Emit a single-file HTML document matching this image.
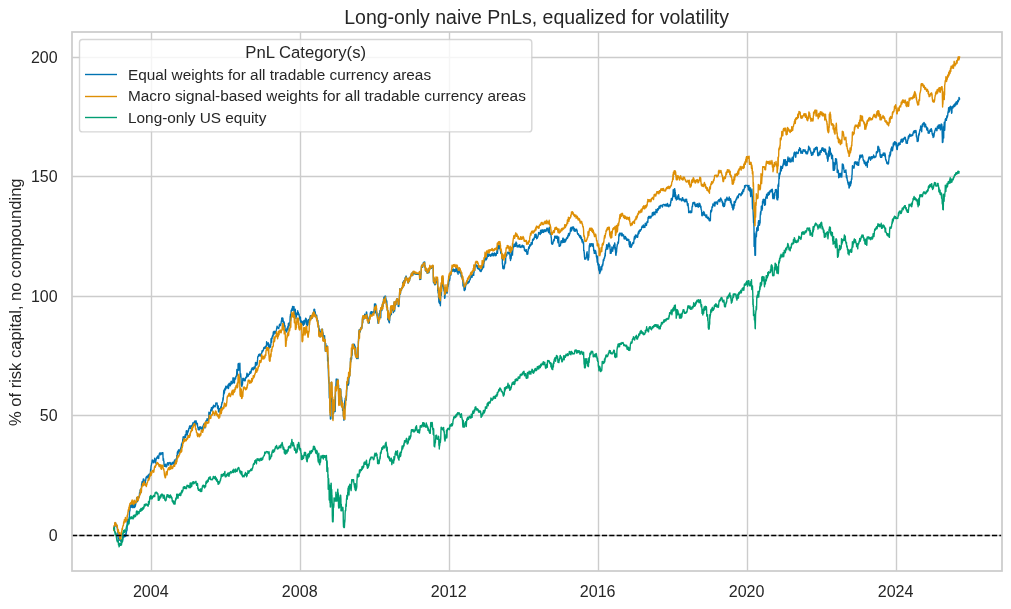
<!DOCTYPE html>
<html><head><meta charset="utf-8"><title>Long-only naive PnLs</title>
<style>html,body{margin:0;padding:0;background:#ffffff;}body{width:1011px;height:609px;overflow:hidden;position:relative;font-family:"Liberation Sans",sans-serif;}</style>
</head><body>
<svg width="1011" height="609" viewBox="0 0 1011 609" style="position:absolute;left:0;top:0;display:block">
<rect x="0" y="0" width="1011" height="609" fill="#ffffff"/>
<defs><clipPath id="ax"><rect x="72.0" y="32.0" width="930.0" height="539.0"/></clipPath><filter id="gs" x="0" y="0" width="1011" height="609" filterUnits="userSpaceOnUse" color-interpolation-filters="sRGB"><feColorMatrix type="saturate" values="0"/></filter></defs>
<g stroke="#cccccc" stroke-width="1.39" fill="none" stroke-linecap="butt">
<line x1="151.50" y1="32.0" x2="151.50" y2="571.0"/>
<line x1="300.50" y1="32.0" x2="300.50" y2="571.0"/>
<line x1="449.50" y1="32.0" x2="449.50" y2="571.0"/>
<line x1="598.50" y1="32.0" x2="598.50" y2="571.0"/>
<line x1="747.50" y1="32.0" x2="747.50" y2="571.0"/>
<line x1="896.50" y1="32.0" x2="896.50" y2="571.0"/>
<line x1="72.0" y1="535.50" x2="1002.0" y2="535.50"/>
<line x1="72.0" y1="415.50" x2="1002.0" y2="415.50"/>
<line x1="72.0" y1="296.50" x2="1002.0" y2="296.50"/>
<line x1="72.0" y1="176.50" x2="1002.0" y2="176.50"/>
<line x1="72.0" y1="57.50" x2="1002.0" y2="57.50"/>
</g>
<g clip-path="url(#ax)" fill="none" stroke-linejoin="round" stroke-linecap="butt">
<path d="M113.6 530.0L113.8 530.3L113.9 529.9L114.1 526.6L114.2 526.0L114.3 526.4L114.5 526.3L114.6 525.7L114.8 523.6L114.9 523.3L115.1 523.1L115.2 525.3L115.3 523.9L115.5 523.4L115.6 523.2L115.8 523.7L115.9 526.1L116.1 525.0L116.2 525.6L116.4 525.7L116.5 525.6L116.6 525.4L116.8 525.3L116.9 527.2L117.1 527.3L117.2 526.1L117.4 528.0L117.5 529.7L117.6 530.8L117.8 532.4L117.9 533.0L118.1 538.5L118.2 538.6L118.4 538.5L118.5 538.6L118.6 538.6L118.8 538.5L118.9 538.7L119.1 538.9L119.3 540.3L119.4 539.1L119.6 539.5L119.7 539.6L119.9 538.0L120.0 537.6L120.2 538.7L120.4 539.0L120.5 539.4L120.7 539.7L120.8 540.9L121.0 541.4L121.1 541.3L121.3 541.1L121.4 540.7L121.6 541.0L121.7 541.2L121.9 540.9L122.0 541.3L122.2 541.4L122.4 541.4L122.5 541.4L122.7 540.1L122.8 540.0L123.0 538.4L123.1 538.3L123.3 535.8L123.4 535.2L123.6 535.1L123.8 535.1L123.9 537.1L124.1 537.0L124.2 536.6L124.4 535.8L124.5 535.0L124.7 536.0L124.8 534.4L125.0 536.6L125.2 534.8L125.3 534.9L125.5 534.9L125.6 534.9L125.8 536.1L125.9 533.1L126.1 535.7L126.2 533.1L126.4 532.3L126.5 530.7L126.7 530.9L126.8 530.8L127.0 530.3L127.1 529.1L127.3 519.8L127.4 523.2L127.6 519.7L127.7 519.6L127.8 521.8L128.0 520.1L128.1 520.7L128.3 520.2L128.4 521.9L128.6 521.4L128.7 522.0L128.9 520.5L129.0 519.1L129.1 517.5L129.3 517.7L129.4 514.5L129.6 509.6L129.7 506.9L129.9 510.9L130.1 507.9L130.2 507.3L130.4 505.2L130.5 505.2L130.7 506.7L130.8 507.4L131.0 507.4L131.1 507.4L131.3 507.1L131.4 506.0L131.6 506.9L131.7 503.5L131.9 502.9L132.0 503.0L132.2 505.1L132.3 504.7L132.5 505.2L132.6 507.6L132.8 506.2L132.9 506.7L133.1 507.6L133.2 507.6L133.4 505.7L133.5 503.2L133.7 502.2L133.8 502.1L134.0 502.0L134.1 504.5L134.3 506.2L134.4 504.8L134.6 507.5L134.7 506.2L134.9 505.9L135.0 506.3L135.2 506.5L135.3 506.3L135.5 505.2L135.6 504.3L135.8 504.0L135.9 503.2L136.1 502.6L136.2 501.5L136.4 501.9L136.5 499.5L136.7 497.6L136.8 500.1L137.0 499.7L137.1 498.7L137.3 500.8L137.4 501.1L137.6 501.6L137.7 497.9L137.9 499.2L138.0 499.6L138.2 499.4L138.3 499.4L138.5 498.4L138.6 497.8L138.8 497.6L138.9 496.4L139.1 497.1L139.2 496.2L139.4 495.5L139.5 493.0L139.7 492.7L139.8 493.4L140.0 493.7L140.1 490.3L140.3 490.0L140.4 489.4L140.6 493.2L140.7 489.6L140.9 492.1L141.0 492.5L141.2 490.7L141.3 488.6L141.5 487.2L141.6 483.9L141.8 484.2L141.9 482.6L142.1 483.0L142.2 481.4L142.4 481.6L142.5 483.1L142.7 482.8L142.8 481.7L143.0 481.6L143.1 482.2L143.3 479.0L143.4 480.0L143.6 481.3L143.7 483.1L143.9 479.1L144.0 481.1L144.2 482.0L144.3 482.0L144.5 480.8L144.6 480.7L144.8 481.9L144.9 483.4L145.1 483.4L145.2 482.9L145.4 481.2L145.5 481.1L145.7 480.3L145.8 479.4L146.0 477.5L146.1 478.3L146.3 477.4L146.4 476.7L146.6 477.7L146.7 476.5L146.9 477.3L147.0 476.3L147.2 476.5L147.3 477.2L147.5 477.6L147.6 476.8L147.8 477.2L147.9 476.3L148.1 475.1L148.2 478.2L148.4 477.7L148.5 476.3L148.7 474.8L148.8 475.7L149.0 474.3L149.1 474.9L149.3 478.3L149.4 476.8L149.6 476.4L149.7 475.8L149.9 474.7L150.0 474.5L150.2 473.8L150.3 473.1L150.5 471.1L150.6 469.4L150.8 470.2L150.9 468.2L151.1 465.8L151.2 465.8L151.4 464.9L151.5 463.7L151.7 464.0L151.8 463.2L152.0 461.8L152.1 460.8L152.3 459.9L152.4 460.6L152.6 460.5L152.7 460.9L152.9 461.8L153.0 461.5L153.2 461.6L153.3 461.4L153.5 462.7L153.6 462.4L153.8 462.4L153.9 460.4L154.1 460.1L154.2 460.4L154.4 461.0L154.5 460.6L154.7 458.1L154.8 458.3L155.0 459.9L155.1 460.1L155.3 460.6L155.4 463.0L155.6 462.8L155.7 461.0L155.9 461.3L156.0 459.7L156.2 459.3L156.3 459.1L156.5 459.0L156.6 457.8L156.8 458.5L156.9 458.2L157.1 457.6L157.2 456.8L157.4 457.8L157.5 458.0L157.7 456.0L157.8 457.4L158.0 457.8L158.1 457.3L158.3 457.9L158.4 458.1L158.6 457.2L158.7 458.5L158.9 456.3L159.0 455.2L159.1 455.5L159.3 453.9L159.4 453.7L159.6 453.4L159.7 453.6L159.9 452.9L160.0 452.7L160.2 452.9L160.3 453.3L160.5 453.6L160.6 454.8L160.8 453.7L160.9 454.1L161.1 453.6L161.2 454.0L161.4 454.1L161.5 452.9L161.7 453.3L161.8 452.9L162.0 452.8L162.1 454.1L162.3 452.9L162.4 453.4L162.6 452.7L162.7 453.9L162.9 452.7L163.0 456.7L163.2 460.4L163.3 460.5L163.5 458.6L163.6 460.3L163.8 461.1L163.9 461.2L164.1 466.2L164.2 465.4L164.4 465.1L164.5 464.9L164.7 466.4L164.8 466.4L165.0 466.0L165.1 466.0L165.3 465.5L165.4 464.3L165.6 465.9L165.7 465.3L165.9 466.7L166.0 465.5L166.2 466.5L166.3 466.7L166.5 466.7L166.7 464.7L166.8 465.6L167.0 465.9L167.1 463.8L167.3 464.1L167.4 463.1L167.6 463.7L167.7 462.6L167.9 462.8L168.0 462.7L168.2 462.7L168.3 462.7L168.5 464.4L168.6 465.0L168.8 463.8L168.9 463.4L169.1 462.9L169.2 463.2L169.4 462.7L169.5 462.7L169.7 462.5L169.8 462.7L170.0 462.7L170.2 462.6L170.3 462.8L170.5 463.9L170.6 464.3L170.8 464.8L170.9 464.9L171.1 464.2L171.2 464.6L171.4 464.8L171.5 463.8L171.7 464.2L171.8 464.3L172.0 463.8L172.1 462.5L172.3 462.6L172.4 462.5L172.6 462.7L172.7 462.6L172.9 462.7L173.0 463.3L173.2 464.0L173.3 462.6L173.5 462.0L173.6 461.9L173.8 463.9L173.9 461.8L174.1 462.1L174.2 462.8L174.4 464.0L174.5 459.9L174.7 460.4L174.8 462.0L175.0 462.7L175.1 461.5L175.3 461.2L175.4 462.8L175.6 461.4L175.7 460.2L175.9 462.0L176.0 458.9L176.2 458.8L176.3 459.2L176.5 459.4L176.6 459.2L176.8 455.4L176.9 455.9L177.1 455.5L177.2 456.2L177.3 452.9L177.5 451.8L177.6 453.5L177.8 454.1L177.9 453.7L178.1 453.4L178.2 450.8L178.4 450.1L178.5 450.2L178.7 451.1L178.8 449.8L179.0 450.9L179.1 451.1L179.3 451.9L179.4 452.1L179.6 450.2L179.7 450.0L179.8 451.4L180.0 450.7L180.1 450.4L180.3 450.8L180.4 450.9L180.6 448.0L180.7 449.5L180.9 448.3L181.0 448.7L181.2 446.3L181.3 447.4L181.5 444.0L181.6 444.9L181.8 447.3L181.9 446.5L182.1 446.7L182.2 442.4L182.4 441.9L182.6 442.7L182.7 439.6L182.9 438.9L183.0 437.9L183.2 436.8L183.3 439.7L183.5 437.9L183.6 439.7L183.8 438.6L183.9 437.3L184.1 437.5L184.2 438.5L184.4 438.9L184.5 438.6L184.7 437.9L184.8 436.3L185.0 436.9L185.1 435.7L185.3 434.6L185.4 436.1L185.6 437.4L185.7 435.7L185.9 435.0L186.1 434.0L186.2 431.9L186.4 430.7L186.5 431.4L186.7 434.0L186.8 434.1L187.0 434.3L187.1 434.7L187.3 435.0L187.4 435.0L187.6 431.3L187.7 431.0L187.9 430.8L188.0 431.9L188.2 432.0L188.3 431.0L188.5 429.5L188.6 430.5L188.8 428.4L188.9 429.1L189.1 428.6L189.2 428.1L189.4 426.8L189.6 426.3L189.7 425.9L189.9 425.9L190.0 425.8L190.2 426.6L190.3 426.4L190.5 428.5L190.6 428.4L190.8 428.1L190.9 427.9L191.1 425.9L191.2 425.9L191.4 426.2L191.5 425.8L191.7 426.0L191.8 425.9L192.0 425.9L192.1 426.2L192.3 424.6L192.4 424.8L192.6 425.1L192.7 423.7L192.9 423.3L193.0 422.7L193.2 422.8L193.3 423.4L193.5 423.9L193.6 423.2L193.8 423.5L193.9 423.1L194.1 423.4L194.2 423.1L194.4 422.7L194.5 421.1L194.7 421.5L194.8 421.2L195.0 421.2L195.1 421.6L195.3 423.2L195.4 423.4L195.6 425.1L195.7 424.2L195.9 422.6L196.0 420.6L196.2 421.2L196.3 422.6L196.5 423.1L196.6 423.5L196.8 423.4L196.9 423.2L197.1 423.5L197.2 424.0L197.4 423.5L197.5 426.0L197.7 427.0L197.8 426.8L198.0 427.2L198.2 429.5L198.3 429.7L198.5 428.5L198.6 429.7L198.8 428.6L198.9 428.5L199.1 427.4L199.2 428.4L199.4 427.3L199.5 428.2L199.7 429.7L199.8 428.7L200.0 426.8L200.1 427.7L200.3 427.0L200.4 428.1L200.6 428.3L200.7 427.7L200.9 427.0L201.0 427.8L201.2 427.3L201.3 428.2L201.5 428.4L201.7 428.2L201.8 429.1L202.0 429.5L202.1 430.0L202.3 430.0L202.4 428.8L202.6 427.3L202.7 427.3L202.9 426.2L203.0 426.2L203.2 425.8L203.3 425.3L203.5 425.7L203.6 424.8L203.8 424.1L203.9 425.3L204.1 423.5L204.2 424.0L204.4 424.2L204.5 425.5L204.7 425.9L204.8 427.8L205.0 427.9L205.1 427.0L205.3 426.4L205.4 425.4L205.6 422.4L205.7 422.0L205.9 421.5L206.0 421.3L206.2 420.5L206.3 421.3L206.5 420.1L206.6 422.2L206.8 420.6L206.9 420.3L207.1 418.7L207.2 420.4L207.4 420.2L207.5 419.1L207.7 419.2L207.8 419.6L208.0 420.2L208.1 420.0L208.3 420.2L208.4 420.2L208.6 419.0L208.7 417.1L208.9 412.2L209.0 413.1L209.1 412.8L209.3 413.5L209.4 417.1L209.6 418.3L209.7 417.2L209.9 416.2L210.0 413.8L210.2 413.6L210.3 412.5L210.5 411.7L210.6 411.2L210.8 409.8L210.9 409.5L211.1 409.4L211.2 408.9L211.4 407.6L211.5 410.7L211.7 409.2L211.8 409.4L212.0 409.5L212.1 410.5L212.3 408.1L212.4 407.2L212.6 408.3L212.7 408.3L212.9 407.1L213.0 406.4L213.2 406.4L213.3 405.9L213.5 407.5L213.6 405.2L213.8 406.5L213.9 405.8L214.1 406.5L214.2 406.3L214.4 406.1L214.5 406.5L214.7 406.3L214.8 406.2L215.0 406.6L215.1 406.8L215.3 406.3L215.4 405.7L215.6 404.9L215.7 403.9L215.9 402.9L216.0 403.1L216.2 403.1L216.3 403.1L216.5 403.2L216.6 403.2L216.8 403.0L216.9 403.0L217.1 403.0L217.2 405.0L217.4 405.9L217.5 407.8L217.7 408.2L217.8 408.6L218.0 405.8L218.1 406.2L218.2 405.9L218.4 407.4L218.5 411.9L218.7 411.5L218.8 411.5L219.0 411.7L219.2 408.6L219.3 410.6L219.5 411.8L219.6 410.0L219.8 411.3L219.9 411.9L220.1 412.2L220.2 408.8L220.4 408.3L220.5 408.2L220.7 408.1L220.8 406.6L221.0 409.4L221.1 408.8L221.3 407.7L221.4 406.8L221.6 404.0L221.7 404.5L221.9 403.7L222.0 402.3L222.2 402.5L222.3 402.8L222.5 402.4L222.7 401.4L222.8 400.1L223.0 397.8L223.1 400.3L223.3 398.2L223.4 396.9L223.6 393.2L223.7 391.4L223.9 390.2L224.0 391.1L224.2 393.8L224.3 390.5L224.5 392.5L224.6 389.1L224.8 389.7L224.9 389.3L225.1 388.5L225.2 387.9L225.4 388.5L225.5 389.9L225.7 387.4L225.8 386.3L226.0 386.8L226.2 386.7L226.3 386.7L226.5 387.3L226.6 386.5L226.8 387.5L226.9 388.1L227.1 387.3L227.2 386.8L227.4 386.2L227.5 386.2L227.7 386.8L227.8 386.4L228.0 384.9L228.1 386.1L228.3 387.7L228.4 388.6L228.6 388.0L228.7 387.5L228.9 384.2L229.0 383.5L229.2 383.8L229.3 383.9L229.5 384.2L229.6 384.7L229.8 383.8L229.9 383.1L230.1 384.0L230.2 385.8L230.4 384.0L230.5 384.9L230.7 383.2L230.8 384.6L231.0 382.6L231.1 381.4L231.3 381.3L231.4 382.2L231.6 383.3L231.7 382.9L231.9 383.6L232.0 383.7L232.2 383.6L232.3 382.4L232.5 383.1L232.6 383.0L232.8 382.6L232.9 378.6L233.1 377.7L233.2 377.8L233.4 378.9L233.5 380.9L233.7 381.3L233.8 382.8L234.0 382.2L234.1 382.4L234.3 381.6L234.4 383.0L234.6 380.4L234.7 379.1L234.8 377.9L235.0 377.9L235.1 377.7L235.3 378.8L235.4 379.2L235.6 378.9L235.7 378.0L235.9 376.3L236.0 376.3L236.2 376.5L236.3 376.0L236.5 375.5L236.6 375.3L236.8 371.0L236.9 369.4L237.1 370.6L237.2 375.5L237.4 372.6L237.5 369.8L237.7 370.7L237.8 369.9L238.0 370.6L238.1 363.9L238.3 364.4L238.4 363.5L238.6 366.4L238.7 367.0L238.9 365.2L239.0 369.7L239.2 370.1L239.3 369.4L239.5 364.1L239.6 363.8L239.8 365.4L239.9 363.3L240.1 371.6L240.2 375.1L240.4 376.9L240.5 375.3L240.7 373.8L240.8 375.3L241.0 377.6L241.1 378.6L241.3 384.8L241.4 385.3L241.6 385.7L241.7 386.0L241.9 386.5L242.1 385.0L242.2 385.4L242.4 384.6L242.5 383.9L242.7 380.7L242.8 378.4L243.0 380.5L243.1 378.3L243.3 379.5L243.4 379.0L243.6 380.2L243.7 379.7L243.9 378.8L244.0 380.2L244.2 380.5L244.3 379.9L244.5 380.7L244.6 380.6L244.8 380.7L244.9 379.3L245.1 379.1L245.2 380.7L245.4 379.0L245.5 377.7L245.6 378.0L245.8 377.4L245.9 377.3L246.1 377.2L246.2 377.5L246.4 377.8L246.5 376.3L246.7 375.8L246.8 374.4L247.0 373.2L247.2 373.8L247.3 376.2L247.5 376.3L247.6 376.7L247.8 376.4L247.9 376.3L248.1 375.3L248.2 375.8L248.4 375.9L248.5 374.8L248.7 374.3L248.8 374.8L249.0 374.4L249.1 373.6L249.3 373.8L249.4 374.4L249.6 373.2L249.7 372.5L249.9 372.5L250.0 371.8L250.2 371.5L250.3 372.8L250.5 372.5L250.7 373.2L250.8 372.5L251.0 372.8L251.1 372.0L251.3 370.8L251.4 369.2L251.6 369.4L251.7 370.1L251.9 368.2L252.0 368.2L252.2 369.3L252.3 367.8L252.5 369.3L252.6 367.9L252.8 369.2L252.9 369.4L253.1 369.4L253.2 369.0L253.4 369.7L253.5 368.6L253.7 369.1L253.8 367.8L254.0 367.0L254.2 367.8L254.3 368.0L254.5 367.9L254.6 367.4L254.8 367.9L254.9 368.6L255.1 368.8L255.2 366.4L255.4 364.3L255.5 362.5L255.7 363.4L255.8 365.7L256.0 365.6L256.1 363.8L256.3 364.5L256.4 363.6L256.6 364.7L256.7 362.4L256.9 362.6L257.0 364.8L257.2 363.6L257.3 361.9L257.4 360.7L257.6 359.9L257.7 357.2L257.9 356.9L258.0 356.3L258.2 356.4L258.3 356.0L258.5 356.4L258.6 354.7L258.8 354.7L258.9 354.6L259.1 355.1L259.2 354.2L259.4 354.7L259.5 355.3L259.7 355.8L259.8 354.1L260.0 354.4L260.1 353.9L260.3 355.6L260.4 355.8L260.6 354.9L260.7 356.0L260.9 355.7L261.0 355.3L261.2 356.1L261.3 354.2L261.5 354.3L261.6 353.4L261.8 352.3L261.9 352.2L262.1 350.6L262.2 351.6L262.4 352.0L262.5 351.9L262.7 351.1L262.8 351.5L263.0 350.2L263.1 350.7L263.3 350.1L263.4 349.6L263.6 349.0L263.7 348.0L263.9 347.6L264.0 348.5L264.2 348.1L264.3 348.6L264.5 348.6L264.7 348.1L264.8 347.8L265.0 346.8L265.1 347.1L265.3 347.6L265.4 348.2L265.6 347.2L265.7 347.4L265.9 346.9L266.0 345.7L266.2 347.1L266.3 345.7L266.5 345.3L266.6 341.8L266.8 343.4L266.9 343.9L267.1 344.2L267.2 343.0L267.4 344.4L267.5 344.7L267.7 344.4L267.8 343.0L268.0 344.0L268.2 342.8L268.3 344.7L268.5 346.7L268.6 345.9L268.8 348.1L268.9 345.9L269.1 344.2L269.2 346.2L269.4 348.0L269.5 347.9L269.7 347.4L269.9 346.9L270.0 346.1L270.1 347.5L270.3 346.2L270.4 346.8L270.6 345.7L270.7 345.1L270.9 344.2L271.0 339.2L271.2 338.4L271.3 342.1L271.5 342.3L271.6 341.9L271.8 337.6L271.9 338.9L272.1 338.6L272.2 337.2L272.4 335.9L272.5 335.9L272.7 335.6L272.8 335.2L273.0 336.4L273.1 334.7L273.3 332.0L273.4 334.5L273.6 334.7L273.7 333.8L273.9 334.5L274.0 332.9L274.2 331.2L274.3 332.5L274.5 332.5L274.6 332.4L274.7 332.1L274.9 332.5L275.0 331.7L275.2 333.1L275.3 333.1L275.5 333.2L275.6 331.6L275.8 331.5L275.9 332.2L276.1 331.1L276.2 330.5L276.4 330.0L276.5 329.4L276.7 328.0L276.8 328.2L277.0 326.8L277.1 326.2L277.3 327.0L277.4 327.2L277.6 327.9L277.7 327.3L277.9 327.6L278.0 327.8L278.2 328.1L278.3 328.6L278.5 328.5L278.6 328.4L278.8 328.4L278.9 327.5L279.1 327.0L279.2 326.3L279.3 325.1L279.5 324.9L279.6 324.1L279.8 324.1L279.9 325.2L280.1 324.8L280.2 325.6L280.4 325.5L280.5 324.8L280.7 325.5L280.8 324.0L281.0 323.7L281.1 323.0L281.3 321.3L281.4 321.3L281.6 319.9L281.7 318.2L281.9 318.1L282.0 319.1L282.2 317.9L282.3 319.4L282.5 321.2L282.6 320.1L282.8 319.3L282.9 318.2L283.1 321.0L283.2 320.2L283.4 324.6L283.5 324.2L283.6 323.4L283.8 326.4L283.9 323.1L284.1 321.9L284.2 323.4L284.4 323.0L284.5 326.7L284.7 326.3L284.8 325.6L285.0 325.8L285.1 330.4L285.3 330.3L285.4 330.4L285.6 330.2L285.7 329.9L285.9 330.0L286.0 331.1L286.2 332.0L286.3 331.8L286.5 331.4L286.6 330.6L286.8 331.9L286.9 328.7L287.1 328.4L287.2 328.1L287.4 327.7L287.5 329.1L287.7 328.2L287.8 326.5L288.0 329.7L288.1 328.4L288.2 326.9L288.4 323.7L288.5 323.1L288.7 323.3L288.8 324.4L289.0 323.1L289.1 324.1L289.3 323.9L289.4 325.7L289.6 325.6L289.7 323.3L289.9 324.7L290.0 320.7L290.2 316.3L290.3 316.8L290.5 314.3L290.6 320.8L290.8 317.1L290.9 315.8L291.1 311.8L291.2 310.3L291.4 311.5L291.5 309.9L291.7 310.8L291.8 309.3L292.0 308.4L292.1 310.4L292.3 309.1L292.4 307.8L292.6 306.4L292.8 307.0L292.9 310.1L293.1 307.3L293.2 306.9L293.4 309.2L293.5 309.2L293.7 308.8L293.8 307.0L294.0 306.6L294.1 309.3L294.3 312.3L294.4 315.5L294.6 315.4L294.7 314.2L294.9 312.2L295.0 311.0L295.2 309.1L295.4 310.3L295.5 316.5L295.7 316.5L295.8 318.4L296.0 318.4L296.1 317.5L296.3 316.4L296.4 316.6L296.6 313.9L296.7 313.2L296.9 313.7L297.0 313.4L297.2 314.0L297.3 313.5L297.4 312.4L297.6 312.7L297.7 310.7L297.9 314.6L298.0 314.4L298.2 313.4L298.3 312.3L298.5 313.7L298.6 314.0L298.8 314.2L298.9 314.6L299.1 314.2L299.2 315.8L299.4 316.7L299.5 317.2L299.7 318.9L299.8 317.7L300.0 317.2L300.1 320.3L300.3 317.0L300.4 316.9L300.6 319.9L300.7 322.5L300.9 323.2L301.0 323.2L301.2 320.7L301.3 321.2L301.5 321.4L301.6 323.2L301.8 323.0L301.9 322.8L302.0 323.1L302.2 323.2L302.3 322.8L302.5 323.4L302.6 324.5L302.8 323.5L302.9 321.4L303.1 321.3L303.2 323.5L303.4 325.5L303.5 325.3L303.7 323.6L303.8 323.9L304.0 323.1L304.1 320.4L304.3 320.4L304.5 323.8L304.6 324.1L304.8 322.8L304.9 322.5L305.1 322.1L305.2 320.1L305.4 320.4L305.5 319.1L305.7 318.2L305.9 319.3L306.0 318.4L306.2 320.2L306.3 319.2L306.5 321.0L306.6 324.8L306.8 320.3L306.9 324.4L307.1 324.4L307.2 325.6L307.4 325.7L307.5 323.6L307.7 321.5L307.8 324.5L308.0 324.4L308.1 323.0L308.3 320.1L308.4 319.5L308.6 320.0L308.7 319.9L308.9 320.1L309.0 320.6L309.2 321.6L309.3 322.5L309.5 322.1L309.6 319.1L309.8 318.5L309.9 317.7L310.1 317.2L310.2 315.9L310.4 317.5L310.5 317.6L310.7 316.3L310.8 315.7L310.9 316.2L311.1 315.7L311.2 318.5L311.4 318.6L311.5 318.6L311.7 317.4L311.8 318.3L312.0 316.7L312.1 318.4L312.3 315.8L312.4 315.9L312.6 316.7L312.7 315.1L312.9 313.2L313.0 314.9L313.2 313.3L313.3 312.6L313.5 312.7L313.6 312.4L313.8 312.1L313.9 309.7L314.1 309.1L314.2 310.0L314.4 310.3L314.5 309.9L314.7 309.6L314.8 310.9L315.0 311.7L315.1 312.6L315.3 312.0L315.4 313.4L315.5 313.7L315.7 315.7L315.8 316.5L316.0 316.6L316.1 315.8L316.3 317.4L316.4 315.8L316.6 317.1L316.7 315.1L316.9 320.2L317.0 319.4L317.2 318.1L317.3 318.9L317.5 320.3L317.6 320.4L317.8 322.3L317.9 320.5L318.1 324.3L318.2 327.1L318.4 324.9L318.5 326.6L318.7 326.3L318.8 325.7L319.0 335.0L319.1 334.5L319.3 329.3L319.4 329.0L319.6 329.4L319.7 335.2L319.9 333.7L320.0 333.6L320.1 336.9L320.3 336.9L320.4 334.9L320.6 336.6L320.7 332.1L320.9 331.5L321.0 332.1L321.2 331.4L321.3 330.8L321.5 329.5L321.6 329.8L321.8 331.8L321.9 329.7L322.1 329.1L322.2 329.1L322.4 329.2L322.5 329.2L322.7 337.5L322.8 336.9L323.0 334.2L323.1 332.9L323.3 337.9L323.4 339.6L323.6 337.8L323.7 336.9L323.9 338.6L324.0 340.6L324.2 339.6L324.3 339.5L324.5 336.3L324.6 335.7L324.7 339.2L324.9 339.9L325.0 340.5L325.2 349.1L325.3 351.3L325.5 346.6L325.6 344.4L325.8 343.6L325.9 351.4L326.1 349.9L326.2 351.4L326.4 348.3L326.5 349.3L326.7 346.7L326.8 346.1L327.0 346.2L327.1 347.6L327.3 351.3L327.4 346.1L327.6 361.1L327.7 361.1L327.9 357.4L328.1 358.9L328.2 367.5L328.4 372.0L328.5 375.9L328.7 381.2L328.8 376.9L329.0 383.4L329.1 382.8L329.3 398.1L329.4 395.2L329.6 395.6L329.7 394.2L329.9 398.8L330.0 410.8L330.1 405.7L330.3 409.1L330.4 419.1L330.6 418.2L330.7 418.7L330.9 418.7L331.0 400.3L331.2 387.7L331.3 382.2L331.5 382.4L331.6 383.5L331.8 396.0L331.9 401.2L332.1 392.2L332.2 398.5L332.4 397.2L332.5 402.6L332.7 418.2L332.8 418.9L333.0 406.1L333.1 413.7L333.3 412.0L333.4 412.9L333.5 403.1L333.7 413.3L333.8 400.1L334.0 400.1L334.1 400.2L334.3 406.4L334.4 407.9L334.6 403.6L334.7 411.2L334.9 411.4L335.0 403.5L335.2 411.6L335.3 407.1L335.5 393.1L335.6 387.6L335.8 386.7L335.9 385.8L336.1 382.3L336.2 379.1L336.4 379.0L336.5 380.6L336.7 384.0L336.8 382.0L336.9 386.3L337.1 385.5L337.2 385.3L337.4 381.7L337.5 380.1L337.7 381.2L337.8 379.1L338.0 382.3L338.1 385.8L338.3 384.6L338.4 389.1L338.6 384.9L338.7 398.8L338.9 400.5L339.0 395.3L339.2 401.4L339.3 400.9L339.5 390.3L339.6 389.0L339.8 389.0L339.9 389.1L340.0 388.9L340.2 389.0L340.3 389.0L340.5 390.8L340.6 390.0L340.8 389.2L340.9 392.6L341.1 405.0L341.2 396.2L341.4 397.8L341.5 396.9L341.7 398.2L341.8 399.9L342.0 400.3L342.1 403.5L342.3 404.7L342.4 403.2L342.6 410.4L342.7 407.2L342.9 406.4L343.0 409.3L343.2 410.1L343.3 412.4L343.4 417.0L343.6 414.8L343.7 415.3L343.9 420.3L344.0 416.9L344.2 410.9L344.3 416.2L344.5 418.6L344.6 405.1L344.8 400.8L344.9 409.4L345.1 403.6L345.2 398.2L345.4 398.7L345.5 398.5L345.7 398.6L345.8 398.0L346.0 398.3L346.1 395.9L346.3 400.1L346.4 397.5L346.6 395.1L346.7 388.2L346.8 388.4L347.0 389.1L347.1 381.8L347.3 381.7L347.4 382.1L347.6 382.8L347.7 385.0L347.9 385.0L348.0 384.4L348.2 385.0L348.3 383.6L348.5 385.0L348.6 379.8L348.8 383.6L348.9 378.2L349.1 377.2L349.2 378.0L349.4 374.9L349.5 375.4L349.7 376.3L349.8 369.4L350.0 371.1L350.1 371.4L350.2 369.8L350.4 363.9L350.5 358.3L350.7 358.5L350.8 361.9L351.0 359.7L351.1 358.6L351.3 359.2L351.4 357.5L351.6 359.1L351.7 355.9L351.9 352.6L352.0 355.5L352.2 353.9L352.3 349.0L352.5 349.0L352.6 344.4L352.8 344.5L352.9 344.6L353.1 344.4L353.2 344.3L353.3 344.4L353.5 344.6L353.6 344.5L353.8 344.5L353.9 344.3L354.1 344.4L354.2 344.3L354.4 344.6L354.5 344.8L354.7 345.9L354.8 346.1L355.0 346.7L355.1 346.1L355.3 350.7L355.4 355.2L355.6 347.6L355.7 351.1L355.9 355.7L356.0 355.7L356.2 356.8L356.3 355.6L356.5 357.7L356.6 358.4L356.7 358.5L356.9 356.2L357.0 358.0L357.2 358.4L357.3 357.6L357.5 357.2L357.6 348.8L357.8 358.4L357.9 358.2L358.1 358.4L358.2 351.6L358.4 341.4L358.5 340.6L358.7 334.9L358.8 332.9L359.0 331.7L359.2 329.6L359.3 329.6L359.5 330.4L359.6 331.5L359.8 331.6L359.9 330.1L360.1 332.0L360.2 332.0L360.4 330.6L360.5 330.5L360.7 328.6L360.8 329.8L361.0 327.4L361.2 328.7L361.3 327.3L361.5 328.5L361.6 328.5L361.8 328.4L361.9 327.5L362.1 324.8L362.2 324.9L362.4 320.4L362.5 317.5L362.7 322.8L362.8 322.4L362.9 317.2L363.1 316.8L363.2 316.6L363.4 317.6L363.5 316.7L363.7 316.5L363.8 316.5L364.0 317.4L364.1 319.0L364.3 318.6L364.4 317.6L364.6 316.7L364.7 314.2L364.9 316.0L365.0 316.2L365.2 314.6L365.3 316.1L365.5 315.3L365.6 315.2L365.8 317.9L365.9 315.2L366.1 317.0L366.3 312.7L366.4 312.1L366.6 311.9L366.7 312.3L366.9 315.1L367.0 315.2L367.2 316.8L367.3 316.3L367.5 316.3L367.6 318.5L367.8 317.2L367.9 320.7L368.1 321.2L368.2 322.9L368.4 323.0L368.5 321.2L368.7 322.3L368.8 322.4L369.0 323.2L369.1 323.1L369.3 323.1L369.4 318.1L369.6 317.9L369.7 317.7L369.9 318.0L370.1 316.0L370.2 314.3L370.4 312.6L370.5 313.4L370.7 312.7L370.8 313.0L371.0 311.7L371.1 313.3L371.3 314.2L371.4 314.3L371.6 311.6L371.7 312.0L371.8 313.8L372.0 312.4L372.1 312.8L372.3 312.2L372.4 312.5L372.6 314.2L372.7 312.4L372.9 313.2L373.0 312.9L373.2 311.8L373.3 312.3L373.5 313.0L373.6 312.4L373.8 312.0L373.9 312.9L374.1 311.2L374.2 309.4L374.4 309.0L374.5 303.9L374.7 306.4L374.8 308.7L375.0 311.6L375.2 312.9L375.3 306.1L375.5 304.8L375.6 303.9L375.8 305.2L375.9 304.9L376.1 306.6L376.2 308.3L376.4 312.3L376.5 308.5L376.6 315.1L376.8 312.7L376.9 312.3L377.1 315.3L377.2 315.1L377.4 317.5L377.5 317.9L377.7 320.1L377.8 318.9L378.0 323.2L378.1 322.9L378.3 323.2L378.4 322.1L378.6 321.7L378.7 320.0L378.9 319.1L379.0 314.4L379.2 313.4L379.3 315.5L379.5 317.6L379.6 317.3L379.8 312.2L379.9 310.7L380.1 315.8L380.2 315.0L380.4 315.0L380.5 317.5L380.7 315.6L380.8 317.7L380.9 312.1L381.1 310.2L381.2 310.7L381.4 308.3L381.5 307.2L381.7 310.5L381.8 310.5L382.0 310.3L382.1 308.7L382.3 304.4L382.4 305.3L382.6 304.9L382.7 303.2L382.9 303.8L383.0 306.5L383.2 301.4L383.3 303.5L383.5 300.7L383.6 299.1L383.8 300.5L383.9 297.2L384.1 300.4L384.2 302.3L384.4 299.0L384.5 298.6L384.7 298.7L384.8 297.3L385.0 296.2L385.1 296.1L385.3 296.1L385.4 296.3L385.6 296.3L385.7 298.3L385.9 298.7L386.0 298.8L386.2 300.6L386.3 301.7L386.5 304.8L386.6 302.5L386.8 300.9L386.9 303.8L387.1 306.2L387.2 310.2L387.4 307.0L387.5 310.2L387.7 311.9L387.8 319.8L388.0 317.2L388.1 311.4L388.3 312.2L388.5 314.2L388.6 316.8L388.8 321.8L388.9 319.3L389.1 322.5L389.2 321.2L389.4 322.8L389.5 317.8L389.7 320.5L389.8 317.0L390.0 316.0L390.1 315.4L390.3 313.6L390.4 316.1L390.6 307.9L390.8 306.6L390.9 311.1L391.1 311.4L391.2 313.9L391.4 314.5L391.5 311.4L391.7 307.4L391.8 306.5L392.0 306.8L392.1 306.5L392.3 306.5L392.4 306.6L392.5 306.6L392.7 306.7L392.8 310.2L393.0 308.9L393.1 309.6L393.3 310.9L393.4 312.6L393.6 309.7L393.7 309.3L393.9 308.2L394.0 304.0L394.2 302.0L394.3 307.0L394.5 308.4L394.6 311.1L394.7 309.5L394.9 307.9L395.0 304.2L395.2 305.9L395.3 305.9L395.5 305.3L395.6 302.4L395.8 301.4L395.9 301.6L396.1 304.5L396.2 301.1L396.4 300.6L396.5 299.6L396.7 298.9L396.8 298.9L397.0 299.0L397.1 299.2L397.3 298.9L397.4 300.7L397.6 298.9L397.7 300.4L397.9 301.4L398.1 302.5L398.2 306.4L398.4 306.4L398.5 306.2L398.7 306.3L398.8 306.4L399.0 305.0L399.1 302.7L399.2 301.2L399.4 298.9L399.5 295.6L399.7 290.9L399.8 288.8L400.0 291.9L400.1 294.2L400.3 293.3L400.4 294.0L400.6 292.0L400.7 289.4L400.9 289.7L401.0 290.7L401.2 290.0L401.3 289.6L401.5 290.1L401.6 288.3L401.8 287.7L401.9 288.4L402.1 287.6L402.2 287.5L402.4 288.2L402.5 285.4L402.7 286.0L402.8 282.3L403.0 284.7L403.2 284.2L403.3 286.8L403.5 282.2L403.6 281.7L403.8 281.2L403.9 280.6L404.1 284.1L404.2 285.5L404.4 283.8L404.5 281.6L404.7 282.0L404.8 282.8L405.0 279.6L405.1 277.6L405.3 278.5L405.4 280.7L405.6 280.1L405.7 278.6L405.9 276.2L406.0 276.1L406.2 276.2L406.3 278.3L406.5 277.3L406.6 277.3L406.8 279.0L406.9 279.2L407.1 279.5L407.2 279.7L407.4 278.6L407.5 280.4L407.7 281.8L407.8 282.4L408.0 282.9L408.1 282.9L408.2 283.1L408.4 282.2L408.5 280.4L408.7 278.5L408.8 279.3L409.0 279.2L409.1 281.7L409.3 280.5L409.4 280.4L409.6 280.5L409.7 279.3L409.9 278.2L410.0 277.2L410.2 278.4L410.3 277.6L410.5 276.5L410.6 276.9L410.8 275.2L410.9 276.0L411.1 275.8L411.2 275.4L411.4 274.1L411.5 273.1L411.7 274.4L411.8 274.5L412.0 274.6L412.1 275.4L412.3 275.4L412.4 275.5L412.6 275.5L412.7 275.5L412.9 272.5L413.0 272.1L413.2 271.8L413.3 271.8L413.5 272.6L413.7 273.7L413.8 272.9L414.0 272.0L414.1 272.2L414.3 273.2L414.4 272.9L414.6 273.7L414.7 272.8L414.9 273.8L415.0 273.4L415.2 273.1L415.3 274.2L415.5 274.1L415.6 274.1L415.8 272.6L415.9 273.2L416.1 274.0L416.2 273.3L416.4 274.2L416.5 274.1L416.7 274.2L416.8 274.2L417.0 274.3L417.2 273.8L417.3 273.9L417.5 273.7L417.6 273.7L417.8 274.2L417.9 273.7L418.1 274.1L418.2 274.0L418.4 274.1L418.5 274.2L418.7 274.0L418.8 273.6L419.0 273.5L419.1 273.6L419.3 272.8L419.4 272.1L419.6 277.2L419.7 279.2L419.8 279.5L420.0 275.4L420.1 278.8L420.3 278.7L420.4 279.4L420.6 276.5L420.7 279.4L420.9 275.2L421.0 274.9L421.2 270.9L421.3 268.9L421.5 265.9L421.7 266.1L421.8 265.1L422.0 266.0L422.1 265.5L422.3 266.0L422.4 266.2L422.6 266.3L422.7 267.2L422.9 266.1L423.0 265.8L423.2 263.9L423.3 262.8L423.5 263.3L423.6 263.3L423.8 262.7L423.9 262.1L424.1 262.9L424.2 262.1L424.4 262.4L424.5 262.8L424.7 261.9L424.8 267.3L425.0 266.5L425.1 268.0L425.3 265.9L425.4 270.6L425.6 271.1L425.7 270.7L425.9 270.0L426.1 270.5L426.2 269.9L426.4 268.6L426.5 268.7L426.6 268.7L426.8 270.0L426.9 271.1L427.1 273.1L427.2 272.7L427.4 273.1L427.5 272.8L427.7 273.1L427.8 273.1L428.0 272.0L428.1 270.1L428.3 271.6L428.4 272.7L428.6 270.1L428.7 271.7L428.9 272.1L429.0 272.6L429.2 270.2L429.3 270.6L429.5 270.0L429.6 268.1L429.7 268.2L429.9 267.5L430.0 268.0L430.2 268.7L430.3 268.5L430.5 266.9L430.6 266.9L430.8 268.0L430.9 268.2L431.1 268.4L431.2 268.4L431.4 268.1L431.5 268.2L431.7 266.7L431.8 267.5L432.0 267.4L432.1 266.0L432.3 266.0L432.4 266.5L432.6 266.8L432.7 265.6L432.9 265.9L433.0 265.9L433.2 266.3L433.3 277.2L433.5 282.8L433.6 282.3L433.8 281.0L434.0 278.1L434.1 282.8L434.3 282.8L434.4 281.8L434.6 284.6L434.7 284.9L434.9 284.5L435.0 284.0L435.2 281.6L435.3 282.1L435.5 282.2L435.6 284.5L435.7 283.6L435.9 280.2L436.0 278.9L436.2 279.1L436.3 279.0L436.5 279.0L436.6 279.0L436.8 280.9L436.9 279.4L437.1 281.7L437.2 282.7L437.4 281.6L437.5 279.0L437.7 285.7L437.8 291.0L438.0 289.3L438.1 293.0L438.3 293.1L438.4 291.8L438.6 298.1L438.7 297.3L438.9 302.1L439.1 300.2L439.2 300.3L439.4 300.6L439.5 303.5L439.7 301.0L439.8 295.2L440.0 291.8L440.1 290.4L440.2 297.3L440.4 305.7L440.5 302.8L440.7 296.2L440.8 294.4L441.0 285.9L441.1 287.0L441.3 285.2L441.4 295.3L441.6 289.9L441.7 281.6L441.9 278.0L442.0 279.2L442.2 277.9L442.3 278.2L442.5 286.1L442.6 278.0L442.8 278.0L442.9 278.4L443.1 281.0L443.2 282.2L443.4 287.9L443.6 289.0L443.7 288.4L443.9 289.6L444.0 291.0L444.1 287.8L444.3 287.8L444.4 287.9L444.6 298.2L444.7 294.9L444.8 298.2L445.0 297.4L445.1 292.0L445.3 293.8L445.4 292.9L445.6 290.0L445.7 288.0L445.9 292.4L446.0 291.2L446.2 289.8L446.3 289.7L446.5 289.8L446.6 289.5L446.8 288.1L446.9 293.3L447.1 292.1L447.2 292.6L447.4 292.0L447.5 289.8L447.7 288.1L447.8 286.9L448.0 285.6L448.1 286.5L448.3 284.0L448.4 282.8L448.6 284.3L448.7 282.9L448.9 278.4L449.0 276.7L449.1 278.0L449.3 279.3L449.4 280.8L449.6 280.5L449.7 278.3L449.9 278.9L450.0 275.1L450.2 275.3L450.3 275.1L450.5 275.0L450.6 275.2L450.8 275.1L450.9 275.1L451.1 273.5L451.2 273.0L451.4 270.9L451.5 270.9L451.7 269.2L451.8 269.3L452.0 269.3L452.2 269.4L452.3 269.4L452.5 269.2L452.6 271.2L452.8 271.1L452.9 270.9L453.1 270.1L453.2 269.7L453.4 269.0L453.5 268.9L453.7 271.0L453.8 270.1L454.0 269.8L454.1 269.9L454.3 270.6L454.4 269.7L454.6 271.0L454.7 271.7L454.9 270.4L455.0 270.7L455.2 271.2L455.3 270.0L455.5 269.7L455.7 271.4L455.8 271.4L456.0 267.8L456.1 269.0L456.3 267.3L456.4 267.9L456.6 268.6L456.7 268.0L456.9 268.5L457.0 269.8L457.2 270.1L457.3 272.8L457.5 272.3L457.6 271.9L457.8 272.4L457.9 272.0L458.1 274.3L458.2 272.5L458.3 271.8L458.5 270.2L458.6 268.3L458.8 269.9L458.9 270.2L459.1 269.5L459.2 268.7L459.4 270.3L459.5 271.8L459.7 272.9L459.8 272.2L460.0 272.2L460.1 272.6L460.3 273.2L460.4 272.3L460.6 272.4L460.7 272.9L460.9 273.8L461.1 275.6L461.2 276.6L461.4 275.1L461.5 275.5L461.7 276.3L461.8 277.8L462.0 277.1L462.1 277.3L462.3 277.5L462.4 278.1L462.6 277.8L462.7 280.2L462.9 283.0L463.0 286.1L463.2 282.8L463.3 280.3L463.5 285.0L463.6 282.6L463.8 285.2L463.9 286.8L464.1 289.8L464.2 290.3L464.4 290.6L464.5 289.9L464.7 288.3L464.8 287.6L465.0 286.7L465.2 289.7L465.3 288.9L465.5 286.8L465.6 285.9L465.8 285.7L465.9 284.0L466.1 283.9L466.2 284.5L466.4 282.9L466.5 283.9L466.7 283.5L466.8 282.5L467.0 281.2L467.1 282.2L467.3 282.3L467.4 282.7L467.6 281.8L467.7 283.5L467.9 283.2L468.0 282.2L468.2 281.8L468.3 282.8L468.5 281.7L468.6 281.4L468.8 281.3L468.9 281.2L469.1 281.0L469.2 282.1L469.4 280.6L469.5 280.2L469.7 280.0L469.8 280.2L470.0 279.8L470.1 278.3L470.3 279.3L470.4 278.9L470.6 277.7L470.7 277.0L470.9 277.2L471.0 275.3L471.2 274.2L471.3 274.8L471.5 275.3L471.6 275.2L471.8 276.2L471.9 276.7L472.0 277.3L472.2 276.0L472.3 276.0L472.5 274.4L472.6 275.7L472.8 274.5L472.9 275.5L473.1 274.9L473.2 274.5L473.4 275.4L473.5 274.8L473.7 275.4L473.8 272.6L474.0 272.8L474.1 269.2L474.3 269.1L474.5 270.4L474.6 269.1L474.8 270.6L474.9 267.6L475.1 266.4L475.2 265.0L475.4 265.4L475.5 265.2L475.7 264.8L475.8 264.8L476.0 265.0L476.1 266.0L476.3 264.9L476.4 265.0L476.5 265.3L476.7 265.2L476.8 265.8L477.0 266.3L477.1 266.8L477.3 268.0L477.4 266.6L477.6 268.4L477.7 268.3L477.9 267.0L478.0 265.8L478.2 268.0L478.3 269.1L478.5 268.9L478.6 267.5L478.8 268.8L478.9 268.9L479.1 268.5L479.2 268.6L479.4 269.7L479.5 269.5L479.7 270.2L479.8 270.6L480.0 271.1L480.1 271.0L480.3 271.0L480.4 270.9L480.6 270.1L480.7 271.2L480.9 271.6L481.0 269.8L481.1 270.0L481.3 270.6L481.4 271.1L481.6 270.0L481.7 269.9L481.9 268.3L482.0 265.8L482.2 268.7L482.3 269.1L482.5 267.5L482.6 266.5L482.8 261.9L482.9 264.0L483.1 265.5L483.2 267.8L483.4 267.6L483.5 264.9L483.7 267.2L483.8 264.0L484.0 263.3L484.1 261.0L484.3 261.2L484.4 261.6L484.6 260.6L484.7 259.0L484.9 256.9L485.0 259.0L485.2 257.7L485.3 259.4L485.5 258.5L485.6 258.4L485.7 259.9L485.9 257.4L486.0 259.3L486.2 259.7L486.3 259.7L486.5 259.5L486.6 258.8L486.8 257.9L486.9 258.5L487.1 257.6L487.2 256.9L487.4 255.4L487.5 255.6L487.7 255.2L487.8 253.5L488.0 253.2L488.1 253.9L488.3 254.7L488.4 256.4L488.6 254.9L488.7 256.2L488.9 255.5L489.1 255.5L489.2 255.4L489.4 255.3L489.5 254.3L489.7 254.3L489.8 254.8L490.0 254.5L490.1 254.9L490.3 255.5L490.4 255.5L490.6 256.2L490.7 255.8L490.9 256.0L491.0 254.7L491.2 254.4L491.3 254.2L491.5 254.7L491.6 255.5L491.8 255.0L491.9 255.0L492.1 253.4L492.2 254.0L492.4 253.1L492.5 254.1L492.7 254.4L492.8 253.7L493.0 254.9L493.1 255.8L493.3 255.7L493.4 255.8L493.6 255.4L493.7 254.3L493.9 253.5L494.0 253.4L494.2 253.1L494.3 252.9L494.5 253.3L494.6 252.9L494.8 254.2L494.9 253.8L495.1 255.7L495.2 254.4L495.4 253.6L495.5 254.4L495.7 254.9L495.8 255.2L496.0 254.5L496.1 255.5L496.3 254.9L496.4 253.2L496.6 253.0L496.7 253.2L496.9 251.0L497.0 250.9L497.2 249.2L497.3 250.8L497.5 253.4L497.6 252.1L497.8 246.6L497.9 245.4L498.1 248.7L498.2 248.8L498.4 247.3L498.5 247.7L498.7 248.6L498.8 247.1L499.0 247.8L499.1 245.5L499.2 245.4L499.4 245.8L499.6 246.3L499.7 247.6L499.9 248.8L500.0 249.1L500.2 249.0L500.3 249.5L500.5 250.9L500.6 251.3L500.8 253.1L500.9 252.8L501.1 252.3L501.2 253.7L501.4 253.2L501.5 253.0L501.7 254.0L501.8 254.0L502.0 258.6L502.1 257.7L502.3 258.3L502.4 264.2L502.6 263.4L502.7 267.0L502.9 268.5L503.0 265.8L503.2 266.7L503.3 267.6L503.5 268.3L503.6 268.7L503.8 268.4L503.9 268.9L504.1 267.2L504.2 266.1L504.4 267.9L504.5 266.2L504.7 264.2L504.8 264.8L505.0 262.6L505.1 261.1L505.3 262.9L505.4 263.0L505.6 263.1L505.7 258.0L505.9 255.6L506.0 256.8L506.2 255.1L506.3 255.2L506.5 255.3L506.6 254.5L506.8 255.5L506.9 254.4L507.1 253.1L507.2 253.0L507.4 252.4L507.5 252.5L507.7 252.5L507.8 252.3L508.0 252.3L508.1 252.4L508.2 252.3L508.4 252.5L508.5 252.5L508.7 253.8L508.8 252.7L509.0 252.6L509.1 253.7L509.3 253.2L509.4 253.9L509.6 252.6L509.8 253.2L509.9 254.9L510.1 258.8L510.2 256.7L510.4 255.3L510.5 260.5L510.7 258.1L510.8 257.3L511.0 257.1L511.1 258.7L511.3 256.2L511.4 254.9L511.6 252.7L511.7 251.8L511.9 254.2L512.0 254.2L512.2 253.0L512.3 253.0L512.5 255.1L512.6 252.6L512.8 250.4L512.9 249.4L513.1 247.7L513.2 247.0L513.4 246.7L513.5 246.9L513.7 246.7L513.8 245.8L514.0 245.0L514.1 244.2L514.3 246.6L514.4 245.2L514.6 245.1L514.7 245.6L514.9 246.0L515.0 245.4L515.2 243.8L515.3 245.8L515.5 245.6L515.6 246.3L515.8 243.3L515.9 242.5L516.1 242.1L516.2 243.4L516.4 244.6L516.5 244.1L516.7 243.2L516.8 244.9L517.0 245.4L517.1 246.9L517.3 246.9L517.4 246.7L517.5 246.9L517.7 246.7L517.8 246.5L518.0 246.9L518.1 246.9L518.3 245.6L518.4 245.1L518.6 246.0L518.7 246.0L518.9 246.1L519.0 246.2L519.2 246.9L519.4 245.6L519.5 245.7L519.7 244.7L519.8 244.7L520.0 245.9L520.1 247.2L520.3 246.9L520.4 247.2L520.6 247.1L520.7 247.2L520.9 247.3L521.0 247.4L521.2 246.7L521.3 247.1L521.5 246.5L521.6 246.5L521.8 246.7L521.9 245.4L522.1 246.6L522.2 246.3L522.4 245.3L522.5 245.4L522.7 246.7L522.8 247.0L523.0 246.2L523.1 247.2L523.3 245.9L523.4 246.7L523.6 246.4L523.7 245.9L523.9 245.9L524.0 247.7L524.2 247.6L524.3 248.9L524.5 250.3L524.6 250.4L524.7 249.3L524.9 249.3L525.0 250.4L525.2 250.2L525.3 251.3L525.5 251.1L525.6 251.3L525.8 250.3L525.9 250.6L526.1 250.6L526.2 251.1L526.4 249.6L526.5 252.3L526.6 251.3L526.8 252.6L526.9 254.2L527.1 254.3L527.2 253.3L527.4 254.0L527.5 254.2L527.7 254.1L527.8 254.0L528.0 251.3L528.1 250.9L528.3 248.9L528.4 249.9L528.6 248.7L528.7 246.9L528.9 248.2L529.0 247.6L529.1 248.0L529.3 248.3L529.4 247.0L529.6 246.9L529.7 245.5L529.9 244.8L530.0 245.6L530.2 246.1L530.3 245.2L530.5 244.5L530.7 245.2L530.8 245.6L531.0 245.1L531.1 242.6L531.3 242.9L531.4 243.5L531.6 243.1L531.7 242.8L531.9 243.7L532.0 243.7L532.2 244.2L532.3 242.6L532.5 240.2L532.6 239.8L532.8 239.1L532.9 240.1L533.1 240.5L533.2 240.1L533.4 239.1L533.5 239.1L533.7 239.2L533.8 238.5L534.0 239.3L534.2 238.4L534.3 237.2L534.5 236.9L534.6 236.9L534.8 236.8L534.9 234.4L535.1 234.6L535.2 237.3L535.4 235.8L535.5 235.1L535.7 235.4L535.8 234.1L536.0 234.3L536.1 235.0L536.3 235.7L536.4 236.3L536.6 238.7L536.7 237.6L536.9 238.1L537.0 238.1L537.2 238.3L537.3 238.1L537.5 237.3L537.7 237.4L537.8 236.5L538.0 236.5L538.1 235.2L538.3 234.6L538.4 235.0L538.6 232.4L538.7 233.2L538.9 233.6L539.0 233.7L539.2 233.5L539.3 233.6L539.5 233.4L539.6 233.5L539.8 232.7L539.9 233.8L540.1 234.3L540.2 234.6L540.4 233.3L540.5 230.4L540.7 230.2L540.8 230.3L541.0 230.2L541.2 230.3L541.3 233.2L541.5 232.2L541.6 231.9L541.8 231.4L541.9 230.3L542.1 230.5L542.2 229.8L542.4 230.4L542.5 231.3L542.7 231.7L542.8 232.4L542.9 232.4L543.1 232.4L543.2 232.4L543.4 232.5L543.5 232.3L543.7 230.0L543.8 230.9L544.0 230.7L544.1 231.9L544.3 230.8L544.4 231.1L544.6 230.9L544.7 229.8L544.9 230.3L545.0 230.8L545.2 231.2L545.3 230.6L545.5 229.8L545.6 230.1L545.8 231.5L545.9 231.0L546.1 231.2L546.2 230.4L546.4 230.3L546.5 230.3L546.7 229.6L546.8 228.3L547.0 229.0L547.1 229.1L547.3 229.3L547.4 228.1L547.5 228.5L547.7 228.7L547.8 228.8L548.0 231.2L548.1 230.5L548.3 230.2L548.4 230.5L548.6 232.3L548.7 232.7L548.9 231.1L549.0 230.9L549.2 228.2L549.3 227.3L549.5 228.5L549.6 231.0L549.8 233.1L549.9 232.4L550.1 233.9L550.2 234.4L550.4 233.8L550.5 232.9L550.7 233.9L550.8 233.1L551.0 233.2L551.1 237.4L551.3 237.5L551.4 239.3L551.6 243.4L551.7 241.9L551.9 244.0L552.0 244.1L552.2 244.3L552.3 244.1L552.5 244.2L552.6 243.6L552.8 243.9L552.9 243.6L553.1 242.5L553.2 241.8L553.4 240.7L553.5 241.0L553.7 239.7L553.8 239.9L554.0 240.1L554.1 240.9L554.3 240.0L554.4 238.9L554.6 237.8L554.7 236.2L554.9 236.2L555.0 236.4L555.2 236.1L555.3 236.1L555.5 236.1L555.6 236.4L555.8 236.7L555.9 238.0L556.1 237.6L556.2 238.4L556.4 236.5L556.5 237.0L556.7 238.2L556.8 238.2L557.0 236.0L557.1 236.2L557.3 237.8L557.4 236.7L557.6 238.0L557.7 240.5L557.9 241.7L558.0 242.8L558.2 240.2L558.3 241.4L558.5 242.0L558.7 237.0L558.8 240.0L559.0 243.0L559.1 246.2L559.3 246.3L559.4 246.1L559.6 246.3L559.7 246.3L559.9 245.3L560.0 245.1L560.2 245.4L560.3 245.6L560.5 245.3L560.6 244.5L560.8 243.1L560.9 241.3L561.0 241.1L561.2 241.4L561.3 242.0L561.5 241.6L561.6 240.6L561.8 242.4L561.9 241.6L562.1 242.7L562.2 242.6L562.4 242.1L562.5 241.5L562.7 239.5L562.8 238.3L563.0 238.2L563.1 238.0L563.3 239.2L563.4 240.5L563.6 242.3L563.7 242.4L563.9 242.4L564.1 241.7L564.2 239.5L564.4 239.5L564.5 240.2L564.7 239.4L564.8 241.1L565.0 242.1L565.1 241.2L565.3 241.4L565.4 240.1L565.6 240.4L565.7 240.5L565.9 240.8L566.0 239.6L566.2 238.7L566.3 238.3L566.5 239.3L566.6 238.8L566.8 237.7L566.9 237.6L567.1 238.1L567.2 238.1L567.4 237.6L567.5 238.3L567.7 235.8L567.8 237.6L568.0 236.8L568.1 236.2L568.3 235.9L568.4 234.1L568.6 233.4L568.7 235.3L568.9 235.6L569.0 235.8L569.2 235.6L569.3 234.8L569.5 233.6L569.6 234.1L569.8 233.9L569.9 233.4L570.0 232.5L570.2 231.9L570.3 230.5L570.5 228.4L570.6 228.5L570.8 228.3L570.9 227.5L571.1 229.0L571.2 231.1L571.4 230.0L571.5 230.4L571.7 228.7L571.8 230.0L572.0 229.1L572.1 227.2L572.3 227.1L572.4 227.3L572.6 227.4L572.7 228.1L572.9 228.6L573.0 228.0L573.2 228.3L573.3 226.9L573.5 226.9L573.6 227.4L573.8 229.0L573.9 230.7L574.1 230.8L574.2 230.7L574.4 231.1L574.5 228.6L574.6 229.7L574.8 231.1L574.9 231.3L575.1 231.2L575.2 231.3L575.4 229.8L575.5 229.7L575.7 229.5L575.8 229.4L576.0 229.2L576.1 229.4L576.3 230.3L576.4 230.7L576.6 229.1L576.7 230.2L576.9 230.3L577.0 230.3L577.2 231.0L577.3 233.0L577.5 233.2L577.6 234.0L577.8 234.2L577.9 234.1L578.1 233.9L578.2 233.6L578.4 234.1L578.5 234.4L578.7 234.2L578.8 235.6L579.0 235.5L579.1 235.2L579.3 235.6L579.4 236.0L579.6 236.4L579.7 237.0L579.9 237.3L580.0 235.5L580.2 236.3L580.3 236.7L580.5 238.1L580.6 236.4L580.8 236.1L580.9 237.2L581.1 239.0L581.2 238.1L581.4 237.3L581.5 237.5L581.7 240.1L581.8 239.5L582.0 240.8L582.1 242.1L582.3 241.4L582.4 240.4L582.6 240.3L582.7 239.7L582.9 242.2L583.0 241.4L583.2 243.8L583.3 243.2L583.4 242.1L583.6 243.5L583.7 250.5L583.9 251.0L584.0 250.2L584.2 253.0L584.3 253.5L584.5 257.1L584.6 256.8L584.7 259.1L584.9 258.7L585.0 258.4L585.2 258.2L585.3 258.4L585.5 258.5L585.6 257.9L585.8 259.1L586.0 258.2L586.1 258.2L586.3 256.9L586.4 255.8L586.6 253.9L586.7 253.4L586.9 252.4L587.0 252.6L587.1 251.8L587.3 255.2L587.4 257.0L587.6 257.0L587.7 257.7L587.9 259.3L588.0 260.1L588.2 256.7L588.3 260.1L588.5 259.4L588.6 254.8L588.8 257.5L588.9 254.1L589.1 249.6L589.2 247.2L589.4 245.1L589.5 246.5L589.7 245.0L589.8 243.8L590.0 244.6L590.1 244.8L590.3 246.3L590.4 246.4L590.6 243.9L590.7 244.0L590.9 244.0L591.0 244.0L591.2 243.8L591.3 243.8L591.5 244.0L591.6 245.1L591.8 244.7L591.9 244.0L592.1 244.4L592.2 246.2L592.4 244.9L592.5 244.0L592.7 245.9L592.8 245.0L593.0 245.1L593.1 243.8L593.3 245.1L593.4 246.2L593.6 248.4L593.7 250.7L593.9 250.8L594.0 250.2L594.2 252.1L594.3 253.4L594.5 252.8L594.6 252.2L594.8 253.2L594.9 250.3L595.1 251.8L595.2 250.8L595.4 251.8L595.6 251.2L595.7 251.1L595.9 253.6L596.0 252.6L596.2 254.4L596.3 255.0L596.4 256.9L596.6 255.7L596.7 257.0L596.9 258.9L597.0 259.4L597.2 262.3L597.3 260.9L597.5 256.2L597.6 260.0L597.7 262.3L597.9 265.0L598.0 263.5L598.2 263.1L598.4 265.0L598.5 267.7L598.7 269.5L598.8 266.0L599.0 270.6L599.1 264.4L599.3 268.4L599.4 269.1L599.6 271.8L599.7 273.5L599.9 272.5L600.0 272.7L600.2 270.3L600.3 270.3L600.5 271.5L600.6 270.5L600.8 268.2L600.9 266.9L601.1 266.4L601.2 268.1L601.4 269.9L601.5 268.8L601.7 269.9L601.8 268.0L601.9 266.6L602.1 266.4L602.2 265.7L602.4 264.4L602.6 265.8L602.7 265.7L602.9 262.8L603.0 264.1L603.2 260.9L603.3 259.8L603.5 260.5L603.6 259.8L603.8 260.7L603.9 260.5L604.1 258.0L604.2 257.8L604.4 258.4L604.5 258.3L604.7 257.4L604.8 255.9L605.0 256.6L605.1 253.2L605.3 255.7L605.4 252.7L605.6 250.1L605.7 249.7L605.9 249.3L606.1 249.7L606.2 248.1L606.4 247.2L606.5 246.8L606.6 244.8L606.8 246.1L606.9 248.5L607.1 246.3L607.2 246.6L607.4 249.1L607.5 248.9L607.7 249.1L607.8 248.5L608.0 246.9L608.1 244.2L608.3 244.9L608.4 246.6L608.6 245.3L608.7 243.7L608.9 242.9L609.0 243.0L609.2 244.5L609.3 246.6L609.5 246.2L609.6 246.0L609.7 244.7L609.9 245.1L610.0 248.3L610.2 249.9L610.3 253.4L610.5 250.8L610.6 252.5L610.8 253.2L610.9 253.0L611.0 252.5L611.2 253.2L611.3 251.8L611.5 249.3L611.6 250.1L611.8 248.7L611.9 246.9L612.1 248.2L612.2 250.0L612.4 249.2L612.5 250.5L612.7 251.2L612.8 249.4L613.0 248.6L613.1 249.2L613.3 247.6L613.4 248.0L613.6 246.2L613.7 245.3L613.9 246.4L614.0 247.7L614.2 245.9L614.3 245.2L614.5 245.2L614.7 242.9L614.8 243.9L615.0 244.3L615.1 249.4L615.3 249.3L615.4 247.5L615.5 250.8L615.7 253.7L615.8 255.1L616.0 255.3L616.1 254.2L616.3 252.5L616.4 252.6L616.6 251.4L616.7 249.4L616.9 248.0L617.0 245.9L617.2 246.2L617.3 244.1L617.5 244.4L617.6 244.4L617.8 243.4L617.9 242.0L618.1 243.2L618.2 243.3L618.4 243.0L618.5 241.9L618.7 239.7L618.8 237.2L619.0 234.1L619.1 236.3L619.3 235.8L619.4 234.9L619.6 233.2L619.7 233.9L619.9 233.2L620.0 233.2L620.1 233.3L620.3 233.1L620.4 233.1L620.6 233.4L620.7 233.8L620.9 234.0L621.0 234.6L621.2 235.4L621.3 234.8L621.5 235.8L621.6 233.9L621.8 233.3L621.9 233.1L622.1 233.8L622.2 234.0L622.4 234.0L622.5 234.4L622.7 235.8L622.8 234.7L623.0 234.8L623.1 235.9L623.3 235.7L623.4 236.0L623.6 234.9L623.7 235.9L623.9 236.0L624.0 237.9L624.2 238.8L624.3 238.0L624.5 238.3L624.6 237.7L624.7 236.7L624.9 238.9L625.0 239.0L625.2 238.9L625.3 238.4L625.5 236.5L625.6 237.1L625.8 237.5L625.9 237.3L626.1 237.6L626.2 238.1L626.4 239.4L626.5 239.2L626.7 240.3L626.8 240.1L627.0 239.6L627.1 239.7L627.3 240.3L627.4 239.5L627.6 240.3L627.7 239.0L627.9 240.3L628.0 240.4L628.2 240.2L628.3 240.2L628.5 240.4L628.7 239.4L628.8 239.5L629.0 241.0L629.1 244.5L629.3 243.8L629.4 244.9L629.6 246.7L629.7 245.2L629.9 245.9L630.0 243.0L630.2 241.8L630.3 242.3L630.5 244.7L630.6 245.7L630.8 246.9L630.9 247.4L631.1 247.0L631.2 247.4L631.4 245.0L631.5 244.7L631.7 244.9L631.8 245.9L632.0 245.7L632.1 244.1L632.3 243.7L632.4 243.1L632.6 243.1L632.7 242.6L632.9 243.0L633.0 243.3L633.2 243.7L633.3 242.1L633.5 243.6L633.6 243.5L633.7 242.5L633.9 241.5L634.0 239.9L634.2 237.7L634.3 238.5L634.5 236.4L634.6 237.1L634.8 238.4L634.9 239.1L635.1 238.4L635.2 238.4L635.4 236.2L635.5 235.0L635.7 235.4L635.8 236.2L636.0 237.0L636.1 235.6L636.3 236.6L636.4 236.4L636.6 235.2L636.7 237.1L636.9 236.0L637.0 236.2L637.2 235.9L637.3 236.8L637.5 237.0L637.6 237.4L637.8 236.2L637.9 233.6L638.1 234.0L638.2 234.3L638.3 232.2L638.5 231.6L638.6 231.7L638.8 233.0L638.9 233.7L639.1 232.9L639.2 230.5L639.4 230.7L639.5 230.9L639.7 231.3L639.8 230.0L640.0 230.0L640.1 230.3L640.3 231.2L640.4 230.7L640.6 229.6L640.7 229.8L640.9 230.0L641.0 229.5L641.2 229.4L641.3 229.7L641.5 228.4L641.6 227.6L641.8 227.0L641.9 227.6L642.1 226.1L642.2 227.1L642.4 226.8L642.5 227.0L642.7 225.9L642.8 226.3L642.9 227.2L643.1 225.8L643.2 226.2L643.4 224.9L643.5 227.3L643.7 226.8L643.8 227.6L644.0 227.4L644.1 225.9L644.3 227.0L644.4 226.0L644.6 225.7L644.7 226.1L644.9 227.4L645.0 226.2L645.2 223.9L645.3 223.2L645.5 224.9L645.6 225.2L645.8 223.9L645.9 225.0L646.1 224.8L646.2 225.4L646.4 225.5L646.5 225.1L646.7 223.4L646.8 222.6L647.0 223.0L647.1 221.5L647.3 222.6L647.4 221.6L647.5 221.8L647.7 220.9L647.8 222.4L648.0 219.1L648.1 217.4L648.3 217.3L648.4 218.4L648.6 217.2L648.7 216.4L648.9 216.5L649.0 216.7L649.2 216.8L649.3 216.4L649.5 217.5L649.6 218.1L649.8 217.3L649.9 216.5L650.1 216.4L650.2 216.5L650.4 216.5L650.5 218.0L650.7 218.1L650.8 216.5L651.0 217.4L651.1 216.4L651.3 216.9L651.4 216.4L651.6 216.3L651.7 216.2L651.8 216.2L652.0 215.8L652.1 215.3L652.3 212.9L652.4 212.8L652.6 213.2L652.7 214.9L652.9 214.7L653.0 215.5L653.2 214.7L653.3 212.3L653.5 213.6L653.6 213.9L653.8 214.4L653.9 213.1L654.1 213.9L654.2 212.3L654.4 213.9L654.5 213.3L654.7 214.1L654.8 213.7L655.0 214.7L655.1 212.9L655.3 212.1L655.4 211.7L655.6 211.4L655.7 212.0L655.9 210.9L656.0 209.4L656.2 211.7L656.3 212.4L656.5 212.7L656.7 211.1L656.8 211.6L657.0 212.5L657.1 211.4L657.3 210.3L657.4 209.9L657.6 208.7L657.7 210.0L657.9 209.9L658.0 210.2L658.2 210.1L658.3 209.8L658.5 209.4L658.6 209.2L658.8 208.0L658.9 207.1L659.1 206.4L659.2 206.1L659.4 206.2L659.5 206.4L659.7 206.5L659.8 206.5L660.0 208.2L660.2 207.1L660.3 206.3L660.5 205.4L660.6 205.8L660.8 205.6L660.9 205.5L661.1 205.4L661.2 205.4L661.4 205.5L661.5 205.5L661.7 205.6L661.8 205.4L662.0 206.4L662.1 206.6L662.3 206.9L662.4 207.0L662.6 205.8L662.7 206.3L662.9 204.7L663.0 204.7L663.2 204.5L663.3 204.4L663.5 204.4L663.7 204.4L663.8 204.5L664.0 204.4L664.1 204.6L664.3 204.7L664.4 204.6L664.6 204.7L664.7 205.4L664.9 205.0L665.0 206.0L665.2 205.1L665.3 204.5L665.5 205.3L665.6 204.5L665.8 204.6L665.9 204.6L666.1 204.7L666.2 204.7L666.4 205.7L666.5 206.0L666.7 204.1L666.8 206.1L667.0 205.3L667.1 205.0L667.3 203.5L667.4 203.4L667.6 203.5L667.7 204.9L667.9 204.9L668.0 206.0L668.2 206.4L668.3 206.5L668.5 205.7L668.6 206.6L668.8 206.5L668.9 206.8L669.1 204.9L669.2 205.1L669.4 205.5L669.5 205.8L669.7 205.5L669.8 205.1L670.0 204.6L670.1 205.8L670.2 205.3L670.4 205.5L670.5 203.3L670.7 201.7L670.8 202.9L671.0 200.4L671.1 200.5L671.3 198.6L671.4 198.5L671.6 198.5L671.7 198.5L671.9 198.6L672.0 200.3L672.2 199.0L672.3 199.8L672.5 197.9L672.6 197.6L672.8 196.5L672.9 195.4L673.1 193.7L673.2 189.7L673.4 190.2L673.5 194.7L673.7 191.1L673.8 196.0L674.0 196.6L674.1 190.1L674.3 190.5L674.4 189.4L674.5 188.6L674.7 188.6L674.8 190.4L675.0 190.1L675.1 194.7L675.3 192.3L675.4 198.3L675.6 196.9L675.7 197.8L675.8 194.6L676.0 196.8L676.1 198.5L676.3 200.0L676.4 199.0L676.6 197.1L676.7 198.4L676.9 197.9L677.0 198.4L677.2 198.4L677.3 199.3L677.5 198.7L677.7 198.0L677.8 196.1L678.0 195.9L678.1 196.6L678.3 195.2L678.4 195.7L678.6 194.6L678.7 196.5L678.9 196.7L679.0 199.0L679.1 199.6L679.3 199.7L679.4 199.7L679.6 199.8L679.7 199.0L679.9 199.5L680.0 198.9L680.2 199.6L680.3 199.3L680.5 199.1L680.6 198.9L680.8 199.7L680.9 198.9L681.1 199.8L681.2 199.5L681.4 199.7L681.5 200.9L681.7 199.9L681.8 199.0L682.0 200.7L682.1 200.5L682.3 198.7L682.4 197.6L682.6 197.7L682.7 197.8L682.9 199.2L683.0 199.3L683.2 199.9L683.3 199.3L683.5 200.4L683.6 199.7L683.7 200.7L683.9 200.6L684.0 200.2L684.2 200.2L684.3 200.7L684.5 200.7L684.6 201.7L684.8 200.5L684.9 200.9L685.1 201.8L685.2 199.2L685.4 200.7L685.5 199.8L685.7 201.1L685.8 200.5L686.0 201.3L686.1 201.0L686.3 200.4L686.4 199.7L686.6 199.2L686.7 201.0L686.9 201.6L687.0 202.7L687.2 201.7L687.3 204.1L687.5 205.4L687.6 205.6L687.8 205.3L687.9 204.3L688.1 203.7L688.2 205.5L688.4 208.2L688.5 207.6L688.7 212.6L688.8 211.4L689.0 211.2L689.1 211.9L689.3 212.0L689.5 211.3L689.6 211.4L689.8 212.3L689.9 212.6L690.1 211.5L690.2 212.7L690.4 212.0L690.5 210.9L690.7 212.2L690.8 212.5L691.0 212.6L691.1 212.6L691.3 211.7L691.4 212.6L691.6 212.5L691.7 212.0L691.9 210.1L692.0 207.6L692.2 206.3L692.3 206.7L692.5 206.6L692.6 204.5L692.8 203.8L692.9 202.6L693.1 202.7L693.2 202.8L693.4 203.5L693.5 202.4L693.7 202.5L693.8 202.6L694.0 203.7L694.1 203.7L694.3 203.9L694.4 202.5L694.6 203.3L694.7 202.5L694.9 204.4L695.0 205.4L695.2 205.9L695.3 205.5L695.5 204.8L695.6 206.2L695.8 206.6L695.9 205.8L696.1 205.8L696.2 204.2L696.4 204.4L696.5 205.3L696.7 205.5L696.8 206.3L697.0 205.7L697.1 204.1L697.3 204.3L697.4 203.8L697.5 204.6L697.7 206.6L697.8 205.8L698.0 206.7L698.1 206.9L698.3 207.0L698.4 207.2L698.6 206.4L698.7 204.5L698.9 204.7L699.0 203.2L699.2 203.7L699.4 204.5L699.5 206.2L699.7 204.7L699.8 203.5L700.0 205.1L700.2 204.8L700.3 205.9L700.5 205.8L700.6 207.6L700.8 207.2L700.9 206.1L701.1 208.5L701.2 209.6L701.4 210.0L701.5 210.0L701.7 212.7L701.8 215.2L702.0 215.8L702.1 215.8L702.3 215.1L702.4 213.9L702.6 214.4L702.7 212.8L702.9 214.4L703.0 214.8L703.2 214.9L703.3 214.1L703.5 213.3L703.6 212.7L703.8 211.5L703.9 212.0L704.1 212.8L704.2 214.2L704.4 212.8L704.5 215.3L704.7 214.8L704.9 214.1L705.0 215.1L705.2 215.1L705.3 215.7L705.5 216.1L705.6 215.2L705.8 215.7L705.9 216.0L706.1 217.4L706.2 216.7L706.4 215.5L706.5 215.3L706.7 214.9L706.8 217.4L706.9 216.2L707.1 217.4L707.2 217.4L707.4 218.5L707.5 218.4L707.7 218.2L707.8 218.4L708.0 217.6L708.1 218.3L708.3 217.1L708.4 218.2L708.6 218.3L708.7 218.8L708.9 219.6L709.0 220.2L709.2 219.0L709.3 218.5L709.5 220.9L709.6 219.4L709.8 220.9L709.9 219.1L710.1 218.7L710.2 220.8L710.4 220.2L710.5 215.4L710.7 210.7L710.8 210.7L711.0 210.4L711.1 210.7L711.3 211.9L711.4 209.6L711.6 211.0L711.7 210.9L711.9 208.4L712.0 207.0L712.2 207.3L712.3 206.4L712.5 207.3L712.6 206.4L712.8 205.3L712.9 203.9L713.1 205.1L713.2 205.7L713.3 204.7L713.5 204.9L713.6 204.2L713.8 204.5L713.9 205.3L714.1 204.9L714.2 204.3L714.4 202.2L714.5 203.6L714.7 204.0L714.8 206.1L715.0 205.3L715.1 204.4L715.3 203.3L715.4 203.6L715.6 202.9L715.7 202.3L715.9 201.9L716.0 202.3L716.2 201.9L716.3 201.9L716.5 202.0L716.6 202.0L716.7 202.4L716.9 203.1L717.0 203.7L717.2 204.1L717.3 204.2L717.5 204.0L717.6 202.9L717.8 201.9L717.9 202.2L718.1 200.6L718.2 200.5L718.4 200.7L718.5 200.4L718.7 200.5L718.8 199.7L719.0 200.3L719.1 200.9L719.3 201.1L719.4 200.8L719.6 200.1L719.7 199.4L719.9 201.7L720.0 201.5L720.1 199.4L720.3 199.3L720.4 198.4L720.6 199.2L720.7 198.0L720.9 198.8L721.0 199.9L721.2 199.7L721.3 199.4L721.5 199.2L721.6 200.3L721.8 200.5L721.9 200.5L722.1 201.8L722.2 202.7L722.4 201.5L722.5 201.6L722.6 201.9L722.8 205.7L722.9 205.5L723.1 203.6L723.2 203.6L723.4 203.1L723.5 204.3L723.6 206.6L723.8 205.1L723.9 206.5L724.1 204.6L724.2 204.0L724.4 206.4L724.5 205.6L724.7 204.5L724.8 205.3L725.0 202.0L725.1 199.4L725.3 201.0L725.4 201.0L725.6 201.2L725.7 201.6L725.9 199.2L726.0 200.7L726.2 199.8L726.3 199.3L726.5 199.8L726.6 198.7L726.8 198.3L726.9 197.1L727.1 198.7L727.2 198.5L727.4 199.8L727.5 199.8L727.7 198.4L727.8 198.6L728.0 200.1L728.1 199.6L728.3 199.0L728.4 200.2L728.6 200.1L728.7 199.6L728.9 199.1L729.0 198.3L729.2 197.0L729.3 197.5L729.5 198.7L729.6 199.0L729.8 200.4L729.9 199.6L730.0 198.6L730.2 200.6L730.3 199.1L730.5 202.5L730.6 198.7L730.8 201.0L730.9 202.9L731.1 200.7L731.2 203.0L731.4 203.9L731.5 204.9L731.7 204.5L731.8 203.9L732.0 205.6L732.1 204.5L732.2 207.6L732.4 205.2L732.5 207.6L732.7 207.8L732.8 208.7L733.0 209.8L733.1 209.3L733.2 209.8L733.4 206.3L733.5 207.2L733.7 204.5L733.8 208.5L734.0 207.0L734.1 202.4L734.3 201.4L734.4 201.7L734.6 205.5L734.7 202.9L734.9 201.8L735.0 202.5L735.2 201.6L735.3 201.9L735.5 202.3L735.6 201.1L735.8 200.1L735.9 199.8L736.1 200.1L736.2 199.8L736.4 198.6L736.5 198.2L736.7 199.3L736.8 199.0L737.0 197.2L737.1 197.8L737.3 196.7L737.4 196.3L737.6 196.4L737.7 195.9L737.9 197.0L738.0 197.3L738.2 196.6L738.3 197.7L738.5 196.2L738.6 195.2L738.8 194.2L738.9 194.1L739.1 194.1L739.2 193.9L739.4 194.6L739.5 194.3L739.7 194.0L739.8 194.2L740.0 194.2L740.1 194.1L740.3 194.3L740.4 194.1L740.6 194.3L740.7 195.0L740.9 195.7L741.0 195.6L741.2 195.1L741.3 195.0L741.5 194.0L741.6 193.3L741.8 192.2L741.9 193.0L742.1 193.8L742.2 193.0L742.4 192.5L742.5 193.8L742.7 190.8L742.8 191.0L743.0 189.6L743.1 189.6L743.3 189.5L743.4 189.8L743.6 191.6L743.7 190.6L743.9 190.0L744.0 189.8L744.2 188.7L744.3 188.5L744.5 188.0L744.6 185.6L744.8 185.6L744.9 187.4L745.1 187.6L745.2 185.5L745.4 185.5L745.5 185.6L745.7 185.4L745.8 185.4L746.0 185.5L746.1 185.5L746.3 185.4L746.4 185.5L746.6 185.4L746.7 185.5L746.9 185.4L747.0 185.4L747.2 185.4L747.3 185.4L747.5 185.9L747.6 186.5L747.8 185.4L747.9 186.9L748.1 186.0L748.2 187.0L748.4 189.8L748.5 186.5L748.7 186.8L748.8 187.0L749.0 185.4L749.1 190.3L749.3 187.7L749.4 187.7L749.6 188.3L749.8 187.8L749.9 191.5L750.1 188.2L750.2 187.7L750.4 191.2L750.5 194.2L750.7 196.6L750.8 195.8L751.0 192.4L751.1 193.3L751.3 194.2L751.4 193.1L751.6 194.4L751.7 190.6L751.9 189.0L752.0 191.0L752.2 195.6L752.3 202.3L752.5 208.7L752.6 198.8L752.8 196.4L752.9 209.2L753.1 210.1L753.2 214.0L753.4 218.3L753.5 222.7L753.7 220.1L753.8 221.8L754.0 228.2L754.1 246.4L754.3 233.0L754.4 239.0L754.6 241.7L754.7 245.5L754.9 254.5L755.0 255.3L755.2 255.4L755.3 255.3L755.5 255.3L755.6 245.2L755.8 235.7L755.9 233.6L756.1 234.8L756.2 231.7L756.4 236.7L756.5 234.8L756.7 227.9L756.8 230.8L757.0 231.1L757.1 231.1L757.3 231.1L757.4 227.5L757.6 229.7L757.7 226.8L757.9 225.5L758.0 225.9L758.2 230.4L758.3 222.1L758.5 223.0L758.6 220.6L758.8 220.7L758.9 222.5L759.1 220.6L759.2 220.7L759.3 222.9L759.5 225.2L759.6 224.6L759.8 220.8L759.9 220.9L760.1 223.0L760.2 216.5L760.4 213.7L760.6 211.6L760.7 214.7L760.9 212.9L761.0 211.6L761.2 210.4L761.3 206.2L761.5 210.2L761.6 206.2L761.8 206.4L761.9 210.4L762.1 208.9L762.2 209.3L762.4 209.1L762.5 201.5L762.7 202.8L762.8 202.3L763.0 200.0L763.1 199.4L763.3 200.0L763.4 202.2L763.6 199.2L763.7 199.4L763.9 201.8L764.0 201.6L764.2 204.0L764.3 203.5L764.4 204.2L764.6 205.3L764.8 202.3L764.9 204.8L765.1 199.3L765.2 202.3L765.4 204.7L765.5 199.2L765.7 198.0L765.9 197.0L766.0 196.9L766.2 196.8L766.3 196.0L766.5 197.9L766.6 194.1L766.8 195.2L766.9 197.8L767.1 198.4L767.2 197.7L767.4 196.2L767.5 195.0L767.7 194.4L767.8 194.2L768.0 192.8L768.1 194.0L768.3 195.2L768.4 193.1L768.6 192.5L768.7 192.1L768.9 193.0L769.0 192.6L769.2 194.2L769.3 194.4L769.5 192.9L769.6 193.2L769.8 191.0L769.9 192.7L770.1 191.5L770.2 191.7L770.4 191.1L770.5 190.8L770.7 191.1L770.8 190.7L771.0 190.0L771.1 191.3L771.3 191.8L771.4 189.9L771.6 189.4L771.7 190.2L771.9 190.9L772.0 191.6L772.2 190.5L772.3 189.3L772.5 190.7L772.6 196.0L772.8 197.8L772.9 198.6L773.1 195.6L773.2 194.3L773.4 196.0L773.5 195.6L773.7 196.6L773.8 197.7L774.0 193.8L774.2 198.8L774.3 197.5L774.5 197.5L774.6 192.8L774.8 195.7L774.9 192.9L775.1 192.2L775.2 191.9L775.4 189.6L775.5 191.0L775.7 191.9L775.8 191.0L776.0 191.2L776.1 189.4L776.3 189.5L776.4 190.2L776.5 191.4L776.7 190.8L776.8 199.1L777.0 196.9L777.1 197.3L777.3 199.9L777.4 199.8L777.6 196.7L777.7 199.9L777.9 195.4L778.0 184.9L778.2 197.8L778.3 185.9L778.5 183.8L778.7 186.5L778.8 182.6L779.0 176.9L779.1 173.2L779.3 178.7L779.4 174.3L779.6 175.3L779.7 175.1L779.9 174.8L780.0 174.0L780.2 173.6L780.3 172.4L780.5 169.4L780.6 168.6L780.8 166.2L780.9 168.2L781.1 169.0L781.2 169.3L781.4 170.9L781.5 168.0L781.7 166.7L781.8 166.9L782.0 168.3L782.1 167.1L782.3 166.9L782.4 168.4L782.6 167.5L782.7 165.6L782.9 166.3L783.0 164.6L783.2 164.9L783.3 163.1L783.5 164.1L783.6 161.8L783.8 159.8L783.9 160.6L784.1 164.7L784.2 163.6L784.4 162.4L784.5 162.5L784.7 161.9L784.8 160.8L785.0 159.6L785.1 161.5L785.3 159.7L785.4 162.6L785.6 164.3L785.7 165.2L785.9 165.6L786.0 165.7L786.2 165.6L786.3 164.8L786.5 164.1L786.6 161.6L786.8 161.9L786.9 163.8L787.1 165.4L787.2 164.5L787.4 160.0L787.5 161.6L787.7 159.7L787.8 158.5L788.0 157.0L788.1 158.2L788.3 158.5L788.4 158.4L788.6 159.7L788.7 160.7L788.9 161.6L789.0 161.3L789.2 161.8L789.3 161.7L789.5 161.2L789.6 159.3L789.8 158.0L789.9 159.2L790.1 159.0L790.2 159.0L790.4 161.0L790.5 161.8L790.7 162.0L790.8 162.0L791.0 161.2L791.1 161.7L791.3 161.4L791.4 160.3L791.6 161.1L791.7 160.8L791.9 158.2L792.0 159.2L792.2 158.2L792.3 157.3L792.5 160.8L792.6 160.7L792.8 160.8L793.0 161.1L793.1 161.6L793.3 158.5L793.4 157.5L793.6 156.8L793.7 155.7L793.9 155.2L794.0 153.5L794.2 152.6L794.3 153.4L794.5 152.3L794.6 153.2L794.8 154.0L794.9 152.3L795.1 153.4L795.2 154.6L795.4 155.1L795.5 156.8L795.7 157.4L795.8 157.1L796.0 154.8L796.1 153.6L796.3 152.3L796.4 152.1L796.6 152.0L796.7 152.2L796.9 153.0L797.0 153.4L797.2 153.2L797.3 153.2L797.5 153.2L797.6 153.4L797.8 153.1L797.9 153.4L798.1 153.2L798.2 153.4L798.4 151.5L798.5 151.8L798.7 149.7L798.8 150.7L799.0 150.2L799.1 150.4L799.3 149.3L799.4 148.9L799.6 147.7L799.7 149.0L799.9 148.8L800.0 148.9L800.2 148.9L800.3 150.8L800.5 148.8L800.6 152.2L800.8 151.7L800.9 153.2L801.0 151.1L801.2 152.9L801.3 151.3L801.5 151.3L801.6 152.9L801.8 152.9L801.9 152.3L802.1 153.1L802.2 153.4L802.4 153.4L802.5 153.0L802.7 151.8L802.8 150.9L803.0 151.0L803.1 149.8L803.3 150.3L803.5 150.6L803.6 150.5L803.8 150.9L803.9 149.8L804.1 150.8L804.2 151.2L804.4 150.9L804.5 150.1L804.7 151.0L804.8 150.2L805.0 150.1L805.1 149.9L805.3 151.9L805.4 151.3L805.6 152.5L805.7 151.3L805.9 153.1L806.0 153.5L806.2 153.3L806.3 152.5L806.5 153.7L806.6 151.9L806.8 153.1L806.9 152.5L807.1 152.1L807.2 151.9L807.4 152.0L807.5 153.7L807.7 152.1L807.8 151.9L808.0 151.9L808.1 149.7L808.3 150.3L808.5 149.8L808.6 146.1L808.8 148.3L808.9 147.5L809.1 147.1L809.2 148.4L809.4 148.5L809.5 149.3L809.7 149.6L809.8 149.1L810.0 148.2L810.1 150.0L810.3 150.7L810.4 151.1L810.6 151.4L810.8 151.0L810.9 153.2L811.1 153.4L811.2 153.1L811.4 153.4L811.5 155.4L811.7 155.2L811.8 154.7L812.0 155.2L812.1 153.4L812.3 152.4L812.4 153.4L812.6 154.4L812.7 154.8L812.9 154.7L813.0 154.4L813.2 152.3L813.3 152.0L813.5 152.7L813.6 151.5L813.8 151.9L813.9 149.4L814.1 148.8L814.2 150.9L814.4 151.9L814.5 150.8L814.6 149.9L814.8 149.2L814.9 149.1L815.1 149.6L815.2 148.7L815.4 147.7L815.5 148.3L815.7 149.5L815.8 147.7L816.0 148.1L816.1 148.5L816.3 147.3L816.4 148.7L816.6 148.3L816.7 147.2L816.9 149.0L817.0 148.9L817.2 147.4L817.3 149.7L817.5 151.7L817.6 153.2L817.8 155.6L817.9 153.3L818.1 154.4L818.2 155.2L818.4 155.7L818.5 155.1L818.7 152.9L818.8 155.1L819.0 153.0L819.1 154.4L819.3 152.1L819.4 152.1L819.6 153.2L819.7 153.9L819.9 154.8L820.0 154.7L820.2 150.7L820.3 151.1L820.5 151.3L820.7 150.4L820.8 151.1L821.0 151.1L821.1 152.3L821.3 151.1L821.4 150.5L821.6 150.1L821.7 149.0L821.9 148.1L822.0 149.5L822.2 147.7L822.3 148.9L822.5 150.2L822.6 149.5L822.8 149.4L822.9 148.1L823.1 148.0L823.2 149.6L823.4 149.0L823.5 150.1L823.7 151.3L823.8 150.5L824.0 150.4L824.1 150.8L824.3 149.4L824.4 149.0L824.6 149.1L824.7 151.6L824.9 150.1L825.1 152.1L825.2 150.3L825.4 150.3L825.5 149.2L825.7 151.1L825.8 154.0L826.0 154.4L826.1 153.6L826.3 153.4L826.4 153.4L826.6 153.0L826.7 153.5L826.8 153.3L827.0 155.6L827.1 157.5L827.3 158.5L827.4 157.2L827.6 158.1L827.7 161.3L827.9 160.4L828.0 158.8L828.2 159.3L828.3 156.4L828.4 156.0L828.6 152.2L828.7 150.9L828.9 156.6L829.0 151.9L829.2 155.8L829.3 147.0L829.5 152.4L829.6 155.9L829.8 154.0L829.9 150.4L830.1 149.2L830.2 148.3L830.4 151.5L830.5 152.0L830.7 152.4L830.8 152.9L831.0 154.2L831.1 154.5L831.3 153.7L831.4 153.6L831.6 158.3L831.7 158.7L831.9 156.6L832.0 157.8L832.2 157.6L832.3 157.8L832.5 155.2L832.6 157.9L832.8 159.3L833.0 164.4L833.1 168.3L833.3 170.4L833.4 170.3L833.6 167.9L833.7 166.1L833.9 162.5L834.0 166.3L834.2 170.2L834.3 170.1L834.5 169.7L834.6 169.2L834.8 168.7L834.9 166.1L835.1 165.0L835.2 163.1L835.4 164.6L835.5 158.7L835.7 158.7L835.9 158.9L836.0 158.8L836.2 158.9L836.3 158.9L836.5 158.9L836.6 163.5L836.8 161.8L836.9 163.5L837.1 165.4L837.2 172.6L837.4 172.1L837.5 169.0L837.7 170.4L837.8 170.1L838.0 170.2L838.1 170.5L838.3 170.6L838.4 173.0L838.6 174.5L838.7 177.7L838.9 176.5L839.0 174.1L839.2 174.8L839.4 175.9L839.5 173.4L839.7 177.0L839.8 176.3L840.0 176.8L840.1 175.9L840.3 173.8L840.4 173.7L840.6 176.4L840.7 176.9L840.9 175.0L841.0 175.7L841.2 174.0L841.3 173.1L841.5 172.9L841.6 176.8L841.8 177.0L841.9 174.5L842.0 171.0L842.2 168.8L842.3 164.0L842.5 165.8L842.6 168.1L842.8 166.7L842.9 164.9L843.1 164.3L843.2 164.9L843.4 165.2L843.5 166.6L843.7 167.0L843.8 169.0L844.0 170.0L844.1 170.2L844.3 172.4L844.4 172.3L844.6 172.2L844.7 172.2L844.9 172.2L845.0 171.0L845.2 170.7L845.3 170.7L845.5 171.5L845.6 170.3L845.7 171.2L845.9 169.9L846.0 172.6L846.2 172.7L846.3 176.7L846.5 177.8L846.6 175.9L846.8 175.6L846.9 177.8L847.0 177.3L847.2 179.6L847.3 180.4L847.5 180.3L847.7 181.8L847.8 182.7L848.0 183.2L848.1 183.4L848.3 184.7L848.4 184.8L848.6 182.5L848.7 184.9L848.9 184.7L849.0 188.0L849.2 188.0L849.3 187.4L849.5 186.8L849.6 186.0L849.8 184.9L849.9 184.5L850.1 181.7L850.2 185.0L850.4 183.0L850.5 185.7L850.7 184.1L850.8 183.7L851.0 183.3L851.2 183.3L851.3 180.7L851.5 178.7L851.6 179.0L851.8 179.3L851.9 175.4L852.1 174.5L852.2 171.5L852.4 165.9L852.5 165.8L852.7 166.2L852.8 165.8L853.0 166.6L853.1 167.7L853.3 168.0L853.4 168.1L853.6 167.7L853.7 168.1L853.9 167.2L854.0 168.1L854.2 166.9L854.3 165.0L854.5 162.3L854.6 162.8L854.8 163.3L854.9 162.8L855.1 162.3L855.2 161.9L855.4 161.8L855.5 162.2L855.7 163.2L855.8 163.0L856.0 163.2L856.1 162.0L856.3 164.6L856.4 163.8L856.6 162.5L856.7 162.9L856.9 163.8L857.0 163.8L857.2 163.3L857.3 162.0L857.5 162.1L857.6 164.9L857.8 165.3L857.9 165.1L858.1 165.2L858.2 165.2L858.4 165.1L858.5 165.1L858.7 165.2L858.8 162.9L859.0 161.4L859.1 160.3L859.3 158.7L859.4 159.5L859.6 159.3L859.7 156.5L859.9 155.3L860.0 156.2L860.1 158.2L860.3 156.7L860.4 157.5L860.6 155.1L860.7 156.8L860.9 155.7L861.0 157.2L861.2 157.0L861.3 156.9L861.5 156.9L861.6 155.1L861.8 156.5L861.9 155.2L862.1 154.9L862.2 156.0L862.4 154.9L862.5 156.4L862.7 155.9L862.8 156.4L863.0 158.4L863.1 159.0L863.3 160.3L863.4 159.5L863.6 160.0L863.7 161.2L863.9 160.8L864.0 161.0L864.2 163.1L864.3 161.4L864.5 163.8L864.6 161.1L864.8 161.0L864.9 163.9L865.1 163.2L865.2 163.8L865.4 163.1L865.5 162.7L865.7 164.4L865.8 165.6L866.0 165.0L866.1 163.2L866.3 162.5L866.4 163.4L866.6 164.0L866.7 163.4L866.9 162.7L867.0 164.6L867.2 165.4L867.3 167.2L867.5 161.3L867.7 161.2L867.8 161.9L868.0 161.0L868.1 162.4L868.3 161.2L868.4 159.4L868.6 158.8L868.7 157.7L868.9 158.1L869.0 157.6L869.1 157.0L869.3 157.1L869.4 157.3L869.6 157.8L869.7 157.3L869.9 157.7L870.0 158.9L870.2 159.6L870.3 159.1L870.5 160.2L870.6 159.6L870.8 159.2L870.9 157.8L871.1 156.6L871.2 157.6L871.4 158.7L871.5 157.0L871.7 157.9L871.8 157.0L872.0 158.1L872.1 158.7L872.3 157.8L872.4 156.6L872.6 157.5L872.7 157.1L872.9 157.6L873.0 157.3L873.2 157.4L873.3 157.7L873.5 156.3L873.6 155.0L873.7 155.7L873.9 156.5L874.1 156.2L874.2 156.0L874.4 157.1L874.5 157.1L874.7 157.7L874.8 157.5L875.0 156.6L875.1 156.8L875.3 156.7L875.4 156.4L875.6 157.1L875.7 157.0L875.9 156.3L876.0 156.5L876.2 154.9L876.3 152.7L876.5 151.7L876.6 151.7L876.8 151.6L876.9 152.9L877.1 152.8L877.2 152.8L877.4 152.5L877.5 151.3L877.7 152.1L877.8 146.8L878.0 147.9L878.1 146.1L878.2 146.4L878.4 147.4L878.5 148.5L878.7 146.9L878.8 147.3L879.0 149.6L879.1 149.5L879.3 151.4L879.4 149.1L879.6 149.6L879.7 149.4L879.9 152.6L880.0 154.7L880.2 156.2L880.3 156.5L880.5 156.9L880.6 157.3L880.8 157.1L880.9 154.5L881.1 155.9L881.2 155.4L881.4 155.1L881.5 157.2L881.7 157.2L881.8 157.1L882.0 156.2L882.1 155.9L882.3 154.9L882.4 155.4L882.6 155.0L882.7 154.1L882.9 154.2L883.0 155.4L883.2 154.1L883.3 153.0L883.5 154.3L883.6 153.8L883.8 155.2L883.9 154.4L884.1 154.0L884.2 153.7L884.4 153.2L884.5 153.3L884.7 154.9L884.8 153.0L885.0 156.6L885.1 154.0L885.3 154.9L885.4 156.3L885.6 159.0L885.7 159.8L885.9 160.4L886.0 159.6L886.2 160.1L886.3 160.7L886.5 161.8L886.6 162.0L886.8 163.3L886.9 163.5L887.1 162.4L887.2 163.2L887.4 162.2L887.5 163.0L887.7 163.6L887.8 163.3L888.0 164.2L888.1 164.1L888.3 163.6L888.4 163.0L888.6 163.2L888.7 160.7L888.9 159.8L889.0 158.7L889.2 155.1L889.3 156.8L889.5 155.8L889.7 155.8L889.8 156.8L890.0 152.3L890.1 153.7L890.3 154.3L890.4 155.2L890.6 153.9L890.7 152.7L890.9 150.6L891.0 148.8L891.2 148.7L891.3 149.0L891.5 148.7L891.6 147.2L891.8 147.1L891.9 149.4L892.0 149.9L892.2 150.4L892.3 150.8L892.5 149.5L892.6 150.1L892.8 148.7L892.9 147.5L893.1 147.0L893.2 144.3L893.4 143.0L893.5 142.9L893.7 145.7L893.8 145.3L894.0 143.5L894.1 144.5L894.3 144.5L894.5 141.8L894.6 143.5L894.8 144.1L894.9 143.3L895.1 143.7L895.2 143.5L895.4 142.8L895.5 142.0L895.7 142.8L895.8 143.8L896.0 144.0L896.1 145.9L896.3 142.8L896.4 143.8L896.6 147.1L896.7 149.2L896.9 149.0L897.0 149.3L897.2 149.5L897.3 149.4L897.5 146.9L897.7 146.6L897.8 145.7L898.0 144.8L898.1 144.6L898.3 143.1L898.4 143.2L898.6 143.3L898.7 145.1L898.9 145.2L899.0 143.1L899.2 143.8L899.3 143.2L899.5 144.2L899.6 143.8L899.8 143.8L899.9 143.2L900.1 144.4L900.2 142.5L900.4 142.0L900.5 141.5L900.7 141.8L900.8 142.0L900.9 140.7L901.1 139.5L901.2 139.6L901.4 139.2L901.5 140.1L901.7 139.4L901.8 140.0L902.0 139.6L902.1 142.3L902.3 140.8L902.4 139.4L902.6 139.3L902.7 139.1L902.9 139.4L903.0 141.3L903.2 141.0L903.3 139.1L903.5 139.2L903.6 138.4L903.8 139.1L903.9 139.0L904.1 139.1L904.2 138.8L904.4 137.7L904.5 137.7L904.7 137.2L904.8 137.2L905.0 138.7L905.1 137.7L905.3 137.5L905.4 137.9L905.6 140.2L905.7 139.6L905.9 139.5L906.0 142.2L906.2 143.2L906.3 142.4L906.5 142.0L906.6 142.0L906.8 142.9L906.9 143.1L907.1 141.6L907.2 143.1L907.4 143.3L907.5 140.7L907.7 140.1L907.8 140.5L908.0 138.9L908.1 137.9L908.3 137.8L908.4 136.1L908.6 138.6L908.8 137.7L908.9 135.5L909.1 135.4L909.2 136.7L909.4 136.7L909.5 135.8L909.7 134.3L909.8 134.3L910.0 134.3L910.1 135.3L910.2 134.8L910.4 135.1L910.5 134.8L910.7 136.2L910.8 135.1L911.0 135.6L911.1 135.5L911.3 136.1L911.4 135.7L911.6 135.0L911.7 135.4L911.9 134.9L912.0 134.9L912.2 135.1L912.3 135.3L912.5 134.7L912.6 135.6L912.8 135.0L912.9 133.7L913.1 132.9L913.2 132.2L913.4 132.7L913.5 132.9L913.7 131.2L913.8 131.7L914.0 133.0L914.1 131.4L914.3 131.0L914.4 130.6L914.5 130.6L914.7 131.6L914.8 132.2L915.0 132.0L915.1 130.8L915.3 130.9L915.4 131.4L915.6 130.9L915.7 132.2L915.9 130.4L916.0 131.0L916.2 132.2L916.3 135.3L916.5 137.0L916.6 137.2L916.8 135.7L916.9 137.0L917.1 139.6L917.2 141.4L917.4 140.3L917.5 141.4L917.7 140.4L917.8 141.5L918.0 141.2L918.1 139.5L918.3 140.4L918.4 138.5L918.6 136.5L918.7 134.4L918.9 135.2L919.0 133.4L919.2 135.0L919.3 132.8L919.5 133.1L919.6 131.0L919.8 131.0L919.9 129.6L920.1 129.3L920.2 129.9L920.4 129.0L920.5 127.7L920.7 126.0L920.8 127.6L921.0 129.2L921.1 129.4L921.3 130.5L921.4 128.4L921.6 129.1L921.7 131.7L921.9 126.6L922.0 126.7L922.2 125.6L922.3 124.4L922.5 126.5L922.6 125.0L922.8 126.6L922.9 123.7L923.1 123.4L923.2 123.1L923.4 123.2L923.5 123.8L923.6 124.6L923.8 123.1L923.9 122.8L924.1 122.5L924.2 124.5L924.4 124.2L924.5 123.3L924.7 124.8L924.8 126.9L925.0 126.9L925.1 127.0L925.3 126.9L925.4 126.3L925.6 124.2L925.7 125.5L925.9 126.7L926.0 126.8L926.2 126.6L926.3 126.9L926.5 127.1L926.6 128.9L926.8 129.8L926.9 129.6L927.1 127.5L927.2 129.4L927.4 130.3L927.5 129.8L927.7 128.3L927.8 130.5L928.0 130.2L928.1 132.8L928.2 133.2L928.4 132.8L928.5 131.5L928.7 132.1L928.8 132.9L929.0 133.1L929.1 133.4L929.3 132.7L929.4 132.2L929.6 130.7L929.7 131.3L929.9 131.5L930.1 131.0L930.2 129.6L930.4 130.1L930.5 129.3L930.7 131.4L930.8 130.5L931.0 130.2L931.1 129.5L931.3 129.5L931.4 128.8L931.6 130.4L931.7 130.0L931.9 130.8L932.0 132.5L932.2 134.0L932.3 134.4L932.5 133.8L932.6 135.4L932.8 134.4L932.9 133.8L933.1 137.5L933.2 135.4L933.4 135.7L933.5 135.7L933.7 135.9L933.8 136.9L934.0 135.8L934.1 135.2L934.3 133.3L934.4 132.0L934.6 132.7L934.7 131.9L934.9 130.6L935.0 130.1L935.2 130.4L935.3 130.0L935.5 129.0L935.6 128.5L935.8 128.3L935.9 128.4L936.1 129.3L936.2 129.6L936.4 128.9L936.5 129.9L936.7 129.1L936.8 130.7L937.0 130.5L937.1 129.0L937.3 126.6L937.4 127.8L937.6 127.4L937.7 126.7L937.9 127.5L938.0 126.6L938.2 125.3L938.3 126.5L938.5 128.2L938.6 128.1L938.8 128.4L938.9 125.3L939.1 125.1L939.2 125.4L939.4 125.1L939.5 125.3L939.7 125.1L939.8 125.3L940.0 127.9L940.1 126.2L940.3 128.9L940.4 129.9L940.6 129.7L940.7 128.9L940.8 127.3L941.0 126.3L941.1 124.3L941.3 124.1L941.4 124.8L941.6 124.3L941.7 124.3L941.8 124.4L942.0 126.3L942.1 131.1L942.3 136.9L942.4 142.5L942.6 141.1L942.7 142.3L942.9 142.1L943.1 137.3L943.2 137.3L943.4 133.0L943.5 126.7L943.7 138.1L943.8 127.2L944.0 126.3L944.1 125.3L944.3 122.1L944.4 126.3L944.6 126.4L944.7 130.2L944.9 126.0L945.0 123.1L945.2 121.2L945.3 119.3L945.5 119.9L945.6 118.8L945.8 119.9L945.9 119.3L946.1 119.2L946.2 119.3L946.4 120.4L946.5 117.8L946.7 118.6L946.8 116.1L947.0 115.7L947.1 117.7L947.3 116.9L947.4 117.0L947.6 115.8L947.7 115.4L947.9 113.7L948.0 112.0L948.2 111.8L948.3 110.9L948.4 111.0L948.6 107.8L948.7 108.8L948.9 109.3L949.0 112.2L949.2 111.4L949.3 108.8L949.5 111.2L949.6 108.5L949.8 107.2L949.9 107.1L950.1 107.3L950.2 106.4L950.4 108.6L950.5 106.9L950.7 106.3L950.8 109.1L951.0 108.9L951.1 110.1L951.3 108.9L951.4 110.7L951.6 113.2L951.7 113.1L951.9 112.6L952.0 108.6L952.2 106.6L952.3 106.8L952.4 106.7L952.6 108.1L952.8 108.0L952.9 108.1L953.0 107.7L953.2 106.7L953.4 105.4L953.5 105.2L953.6 106.6L953.8 106.5L954.0 104.8L954.1 106.8L954.2 105.6L954.4 105.3L954.5 104.2L954.7 104.4L954.9 106.2L955.0 104.9L955.1 104.0L955.3 103.4L955.5 103.0L955.6 104.1L955.8 104.6L955.9 105.0L956.1 103.5L956.2 103.4L956.3 101.7L956.5 102.2L956.6 103.5L956.8 103.4L956.9 104.1L957.1 104.0L957.2 104.1L957.4 103.8L957.5 102.0L957.7 100.5L957.8 100.3L958.0 100.4L958.1 101.0L958.3 101.8L958.4 101.5L958.6 100.4L958.7 100.5L958.9 99.7L959.0 97.4L959.2 97.7L959.3 98.8L959.5 99.4L959.6 98.3" stroke="#0173b2" stroke-width="1.39"/>
<path d="M113.6 530.0L113.8 530.4L113.9 530.0L114.1 526.3L114.2 525.7L114.3 526.1L114.5 526.0L114.6 525.4L114.8 523.1L114.9 522.7L115.1 522.5L115.2 524.8L115.3 523.3L115.5 522.8L115.6 522.7L115.8 523.1L115.9 525.6L116.1 524.5L116.2 525.0L116.4 525.1L116.5 525.1L116.6 524.8L116.8 524.8L116.9 526.6L117.1 526.6L117.2 525.5L117.4 527.2L117.5 528.7L117.6 529.8L117.8 531.2L118.0 532.3L118.1 531.8L118.3 531.5L118.4 529.8L118.6 531.6L118.7 532.6L118.9 533.9L119.1 533.8L119.2 533.7L119.4 533.8L119.5 532.8L119.7 536.5L119.8 538.3L119.9 538.9L120.1 539.1L120.2 539.0L120.4 539.1L120.5 538.2L120.7 539.1L120.8 539.2L120.9 539.2L121.1 533.2L121.2 532.2L121.4 534.6L121.5 534.3L121.7 531.0L121.8 531.6L122.0 528.8L122.1 529.7L122.3 529.8L122.5 528.2L122.6 527.0L122.8 526.4L122.9 526.5L123.1 525.4L123.2 525.4L123.4 525.5L123.5 524.0L123.7 521.9L123.9 521.6L124.0 522.8L124.2 523.0L124.3 519.8L124.5 521.1L124.6 520.9L124.8 519.6L125.0 520.6L125.1 520.9L125.3 518.8L125.4 517.4L125.6 521.0L125.7 522.0L125.9 521.8L126.0 520.6L126.2 521.1L126.3 520.2L126.5 520.5L126.6 520.6L126.8 520.4L127.0 520.3L127.1 515.8L127.3 516.9L127.4 515.1L127.6 514.5L127.7 514.7L127.9 512.6L128.0 512.5L128.2 510.5L128.3 509.7L128.4 510.4L128.6 510.4L128.7 511.0L128.9 507.3L129.0 507.1L129.2 509.7L129.3 508.3L129.5 505.2L129.6 505.1L129.8 504.5L129.9 503.6L130.1 503.3L130.2 503.8L130.4 504.1L130.5 503.0L130.7 502.8L130.8 502.4L131.0 502.6L131.1 503.7L131.3 503.5L131.4 504.0L131.6 503.5L131.7 501.1L131.9 501.5L132.0 500.3L132.2 500.1L132.3 501.1L132.5 502.0L132.6 501.5L132.8 501.8L132.9 503.5L133.1 503.7L133.2 504.5L133.4 504.3L133.5 503.8L133.7 504.6L133.8 502.8L134.0 500.4L134.1 500.2L134.3 500.2L134.4 501.7L134.6 502.2L134.7 501.3L134.9 503.4L135.0 501.9L135.2 502.3L135.3 502.8L135.5 502.2L135.6 501.6L135.8 501.0L135.9 501.3L136.1 500.7L136.2 501.1L136.4 501.0L136.5 500.3L136.7 502.2L136.8 499.2L137.0 497.1L137.1 499.7L137.3 499.0L137.4 496.8L137.6 498.3L137.7 498.4L137.9 499.4L138.0 498.3L138.2 500.1L138.3 500.3L138.5 499.0L138.6 497.8L138.8 498.1L138.9 497.6L139.1 496.8L139.2 496.8L139.4 495.7L139.5 495.5L139.7 495.7L139.8 493.6L140.0 494.1L140.1 494.5L140.3 494.3L140.4 490.7L140.6 489.1L140.7 489.0L140.9 492.0L141.0 490.2L141.2 492.5L141.3 491.9L141.5 491.2L141.6 487.9L141.8 487.1L141.9 486.0L142.1 486.3L142.2 486.2L142.4 485.9L142.5 483.7L142.7 483.4L142.8 484.6L143.0 484.8L143.1 485.7L143.3 485.8L143.4 484.9L143.6 483.3L143.7 482.6L143.9 483.1L144.0 484.7L144.2 481.4L144.3 484.4L144.5 484.1L144.6 484.1L144.8 484.2L144.9 484.7L145.1 485.3L145.2 484.7L145.4 484.2L145.5 484.1L145.7 484.8L145.8 485.4L146.0 484.5L146.1 485.7L146.3 486.5L146.4 486.5L146.6 483.6L146.7 484.9L146.9 484.5L147.0 483.6L147.2 482.4L147.3 482.9L147.5 481.9L147.6 482.0L147.8 481.2L147.9 480.6L148.1 479.4L148.2 479.3L148.4 478.8L148.5 478.5L148.7 478.4L148.8 480.3L149.0 479.8L149.1 479.3L149.3 477.2L149.4 477.3L149.6 478.2L149.7 476.3L149.9 475.4L150.0 476.4L150.2 475.3L150.3 473.8L150.5 474.0L150.6 472.5L150.8 472.1L150.9 473.4L151.1 473.8L151.2 475.3L151.4 473.7L151.5 473.0L151.7 473.6L151.8 472.4L152.0 472.5L152.1 471.1L152.3 471.3L152.4 470.8L152.6 471.4L152.7 471.5L152.9 470.5L153.0 471.2L153.2 470.7L153.3 471.1L153.5 471.6L153.6 472.2L153.8 472.1L154.0 470.1L154.1 469.0L154.3 469.4L154.4 467.2L154.6 466.8L154.7 466.2L154.9 466.2L155.0 467.4L155.2 467.4L155.3 466.6L155.5 466.7L155.6 465.3L155.8 465.2L155.9 464.7L156.1 465.0L156.2 464.8L156.4 464.9L156.5 463.0L156.7 464.3L156.8 464.1L157.0 463.5L157.1 462.5L157.3 463.3L157.4 463.2L157.6 462.6L157.7 462.7L157.9 463.4L158.1 464.2L158.2 463.5L158.4 463.5L158.5 464.1L158.7 464.0L158.8 465.8L159.0 466.2L159.1 465.0L159.3 466.7L159.4 466.1L159.6 465.0L159.7 464.6L159.9 465.1L160.0 464.7L160.2 465.2L160.3 464.8L160.5 465.1L160.6 466.5L160.8 466.8L160.9 468.6L161.1 468.0L161.2 468.3L161.4 469.2L161.5 465.3L161.7 465.6L161.8 465.1L162.0 466.4L162.1 467.3L162.3 467.4L162.4 465.6L162.6 467.2L162.7 466.3L162.9 465.2L163.0 467.1L163.2 469.0L163.3 468.1L163.5 469.4L163.6 469.8L163.8 468.9L163.9 470.3L164.1 470.7L164.2 472.1L164.4 474.3L164.5 474.8L164.7 476.2L164.8 475.5L165.0 475.4L165.1 477.8L165.3 477.3L165.4 477.8L165.6 477.0L165.7 475.8L165.9 474.6L166.0 472.9L166.2 472.9L166.3 471.6L166.5 472.0L166.6 473.8L166.8 473.0L166.9 472.5L167.1 474.9L167.2 474.0L167.4 471.8L167.5 470.6L167.7 469.7L167.8 469.8L168.0 469.7L168.1 469.7L168.2 468.5L168.4 468.2L168.5 469.4L168.7 467.7L168.8 468.7L169.0 468.9L169.1 469.4L169.3 469.8L169.4 467.6L169.6 467.4L169.7 468.5L169.9 469.0L170.0 467.6L170.2 465.8L170.3 467.9L170.5 469.2L170.6 469.0L170.8 468.0L170.9 467.2L171.1 465.7L171.2 466.4L171.4 467.2L171.5 467.5L171.7 467.9L171.8 468.5L172.0 467.0L172.1 467.7L172.3 468.2L172.4 468.0L172.6 468.4L172.7 468.1L172.9 468.0L173.0 466.4L173.2 465.8L173.3 465.8L173.5 465.9L173.6 465.3L173.8 464.9L173.9 464.9L174.1 465.3L174.2 465.0L174.4 466.3L174.5 465.1L174.7 466.3L174.8 463.8L175.0 464.5L175.1 463.8L175.3 461.7L175.4 462.3L175.6 464.1L175.7 461.3L175.9 460.5L176.0 461.1L176.2 460.5L176.3 463.7L176.5 461.6L176.6 461.0L176.8 460.4L176.9 461.6L177.1 459.1L177.2 457.8L177.3 455.9L177.5 456.5L177.6 457.6L177.8 457.9L177.9 457.7L178.1 457.2L178.2 455.9L178.4 455.8L178.5 455.4L178.7 456.6L178.8 455.6L179.0 455.9L179.1 455.0L179.3 455.0L179.4 454.9L179.6 454.8L179.7 453.0L179.9 452.4L180.0 453.1L180.2 452.1L180.3 451.8L180.5 452.6L180.6 451.2L180.8 450.8L180.9 451.1L181.1 449.9L181.2 449.3L181.4 452.0L181.5 449.7L181.7 451.3L181.8 450.5L181.9 448.1L182.1 446.7L182.2 447.7L182.4 447.1L182.5 446.1L182.7 445.7L182.8 442.2L183.0 443.6L183.1 443.5L183.3 443.1L183.4 442.7L183.6 440.9L183.7 440.5L183.9 440.4L184.0 438.7L184.2 438.7L184.3 439.7L184.5 441.6L184.6 439.9L184.8 440.2L184.9 439.4L185.1 439.3L185.2 440.7L185.4 440.3L185.5 440.1L185.7 440.6L185.8 440.8L186.0 439.8L186.1 440.8L186.3 440.7L186.4 440.1L186.6 440.0L186.7 438.8L186.9 438.4L187.0 438.3L187.2 438.8L187.3 438.3L187.5 438.7L187.6 439.0L187.8 437.9L187.9 435.8L188.1 436.1L188.2 436.4L188.4 436.9L188.5 435.8L188.7 437.2L188.8 436.1L189.0 435.6L189.1 436.1L189.3 437.3L189.4 436.7L189.6 437.2L189.7 436.1L189.9 433.7L190.0 435.0L190.2 435.5L190.3 433.7L190.5 433.1L190.6 431.7L190.8 431.9L190.9 431.4L191.1 430.8L191.2 431.9L191.4 430.9L191.5 430.6L191.7 428.0L191.8 427.6L192.0 428.2L192.1 429.3L192.3 430.5L192.4 430.0L192.6 428.2L192.7 428.0L192.9 426.4L193.0 426.1L193.2 427.2L193.3 425.2L193.5 425.8L193.6 426.1L193.8 424.6L193.9 425.6L194.1 423.8L194.2 423.8L194.4 423.9L194.5 423.7L194.7 423.8L194.8 423.9L195.0 424.8L195.1 424.9L195.3 426.0L195.4 427.4L195.6 428.7L195.7 429.4L195.9 428.5L196.0 429.6L196.2 430.3L196.3 430.7L196.5 432.6L196.6 432.3L196.8 432.6L196.9 432.7L197.1 432.9L197.2 435.2L197.4 435.8L197.5 435.4L197.7 436.6L197.8 434.5L198.0 433.7L198.2 433.9L198.3 434.9L198.5 434.6L198.6 434.2L198.8 434.8L198.9 435.8L199.1 435.8L199.2 435.5L199.4 436.8L199.5 434.6L199.7 434.2L199.8 436.4L200.0 435.5L200.1 433.7L200.3 433.9L200.4 435.1L200.6 435.0L200.7 435.2L200.9 435.0L201.0 433.1L201.2 431.2L201.3 430.5L201.5 430.9L201.7 431.1L201.8 429.9L202.0 430.3L202.1 430.4L202.3 431.2L202.4 431.4L202.6 430.8L202.7 432.4L202.9 430.3L203.0 430.1L203.2 430.7L203.3 429.5L203.5 428.7L203.6 429.0L203.8 426.9L203.9 425.4L204.1 425.2L204.2 425.3L204.4 426.3L204.5 424.5L204.7 425.2L204.8 423.0L205.0 422.5L205.1 422.2L205.3 425.2L205.4 425.8L205.6 425.9L205.7 427.0L205.9 426.1L206.0 424.8L206.2 422.7L206.3 422.5L206.5 421.9L206.6 421.8L206.8 422.0L206.9 422.0L207.1 422.5L207.2 422.7L207.4 422.6L207.5 423.1L207.7 423.4L207.8 423.2L208.0 422.6L208.1 422.6L208.3 422.6L208.4 422.0L208.6 421.2L208.7 422.9L208.9 421.1L209.0 419.1L209.2 418.3L209.3 415.2L209.5 416.5L209.6 417.0L209.8 416.1L209.9 417.1L210.1 417.6L210.2 418.1L210.4 418.5L210.6 418.0L210.7 417.6L210.9 418.2L211.0 416.1L211.2 415.5L211.3 415.5L211.5 415.5L211.6 415.1L211.8 414.5L211.9 414.8L212.1 414.5L212.2 415.1L212.4 415.0L212.5 413.8L212.7 413.3L212.8 411.4L213.0 412.4L213.1 411.1L213.3 412.3L213.4 412.4L213.6 412.6L213.7 413.3L213.9 412.8L214.1 413.4L214.2 413.7L214.4 414.8L214.5 414.3L214.7 415.3L214.8 413.9L215.0 413.6L215.1 414.2L215.3 412.5L215.4 411.0L215.6 411.8L215.7 411.9L215.9 411.1L216.0 411.4L216.2 411.5L216.3 413.9L216.5 414.3L216.6 414.3L216.8 415.2L216.9 413.2L217.1 414.6L217.2 415.8L217.4 415.6L217.5 414.5L217.7 415.4L217.8 415.4L218.0 416.9L218.1 415.7L218.3 416.9L218.4 415.2L218.6 416.8L218.7 416.8L218.9 418.4L219.0 416.3L219.2 415.2L219.3 415.4L219.5 414.2L219.6 416.5L219.8 417.1L219.9 414.8L220.1 412.2L220.2 410.8L220.4 410.7L220.5 409.4L220.7 411.1L220.8 411.3L221.0 409.0L221.2 413.7L221.3 413.4L221.5 412.8L221.6 411.2L221.8 408.7L221.9 408.7L222.1 408.0L222.2 408.2L222.4 409.8L222.5 410.0L222.7 408.9L222.8 407.6L223.0 408.1L223.1 407.5L223.3 407.7L223.4 407.5L223.6 408.5L223.7 408.0L223.8 405.9L224.0 407.8L224.1 407.2L224.3 403.1L224.4 404.2L224.6 403.2L224.7 404.5L224.9 404.1L225.0 405.5L225.2 403.6L225.3 404.4L225.5 404.0L225.6 404.3L225.8 406.6L225.9 406.5L226.1 404.6L226.2 405.4L226.4 405.5L226.5 404.5L226.7 402.3L226.8 402.4L227.0 400.0L227.1 398.4L227.3 397.2L227.4 396.1L227.6 396.1L227.7 395.9L227.9 396.0L228.1 396.4L228.2 396.3L228.4 395.4L228.5 394.7L228.7 394.3L228.8 393.7L229.0 394.4L229.1 394.8L229.3 393.2L229.4 394.3L229.6 395.1L229.7 396.0L229.9 395.8L230.0 396.1L230.2 396.5L230.3 396.3L230.5 396.5L230.6 395.9L230.8 395.8L230.9 394.6L231.1 393.3L231.2 394.3L231.4 394.2L231.6 392.8L231.7 391.7L231.9 392.2L232.0 392.3L232.2 390.8L232.3 390.3L232.5 392.1L232.6 394.6L232.8 394.0L232.9 393.2L233.1 394.7L233.2 393.5L233.4 393.1L233.5 391.9L233.7 390.8L233.8 390.1L234.0 389.7L234.1 390.9L234.3 392.2L234.4 391.9L234.6 391.0L234.7 389.3L234.8 391.5L235.0 388.5L235.1 388.2L235.3 387.4L235.4 389.4L235.6 389.0L235.7 388.5L235.9 386.1L236.0 385.8L236.2 386.7L236.3 386.8L236.5 386.8L236.6 387.1L236.8 386.2L236.9 384.6L237.1 387.3L237.2 383.1L237.4 387.7L237.5 385.1L237.7 386.9L237.8 385.4L238.0 380.5L238.1 375.3L238.3 378.8L238.4 375.3L238.6 374.8L238.7 374.5L238.9 374.2L239.0 375.4L239.2 376.5L239.3 383.0L239.5 379.7L239.6 377.8L239.8 382.3L239.9 389.9L240.1 395.1L240.2 389.4L240.4 390.3L240.5 396.4L240.7 392.4L240.8 388.3L241.0 389.6L241.1 394.6L241.3 389.2L241.4 393.5L241.6 398.4L241.7 397.3L241.9 398.5L242.0 398.1L242.2 397.2L242.3 392.2L242.5 394.6L242.6 396.6L242.8 396.4L242.9 394.9L243.1 390.0L243.2 390.9L243.4 389.1L243.5 387.4L243.7 387.1L243.8 387.1L244.0 387.2L244.1 387.2L244.3 387.0L244.4 387.3L244.6 388.2L244.7 387.4L244.9 387.9L245.0 388.0L245.2 389.5L245.3 389.5L245.5 389.6L245.6 389.7L245.8 388.1L245.9 389.6L246.1 387.9L246.2 389.4L246.4 387.5L246.5 387.8L246.7 387.3L246.8 388.7L247.0 386.0L247.2 387.5L247.3 384.8L247.5 385.5L247.6 385.0L247.8 383.6L247.9 383.0L248.1 380.8L248.2 380.3L248.4 380.3L248.5 380.3L248.7 380.1L248.8 380.1L249.0 380.2L249.1 380.4L249.3 380.2L249.4 381.7L249.6 381.9L249.7 383.2L249.9 382.1L250.0 383.3L250.2 382.8L250.3 381.9L250.5 380.9L250.6 381.5L250.8 382.1L250.9 382.1L251.1 382.4L251.2 382.6L251.4 382.6L251.5 381.4L251.7 378.4L251.8 380.1L252.0 380.7L252.1 381.5L252.3 380.8L252.4 380.0L252.6 379.6L252.7 378.5L252.9 378.4L253.0 378.4L253.2 375.8L253.3 376.4L253.5 376.2L253.6 377.8L253.8 377.5L253.9 376.5L254.1 377.2L254.2 375.1L254.4 376.4L254.5 375.5L254.7 375.1L254.8 373.9L255.0 374.2L255.1 373.7L255.3 373.4L255.4 372.5L255.6 371.3L255.7 370.1L255.9 369.4L256.0 368.6L256.2 368.1L256.3 369.9L256.5 371.2L256.6 372.2L256.8 371.3L256.9 371.9L257.1 370.3L257.2 371.0L257.4 369.5L257.5 370.0L257.7 370.1L257.8 369.0L258.0 367.0L258.1 366.9L258.3 367.9L258.4 366.1L258.6 366.3L258.7 366.0L258.9 366.4L259.0 365.5L259.2 366.0L259.3 363.4L259.5 360.8L259.6 362.0L259.8 361.4L259.9 361.9L260.1 360.7L260.2 361.3L260.4 361.9L260.5 362.6L260.7 361.6L260.8 360.7L261.0 362.0L261.1 361.5L261.3 360.2L261.4 358.9L261.6 354.5L261.7 356.2L261.9 355.8L262.0 357.4L262.2 356.6L262.3 356.8L262.5 356.9L262.6 356.1L262.8 359.0L262.9 359.1L263.1 359.0L263.2 357.5L263.4 357.2L263.5 357.0L263.7 357.4L263.8 356.5L264.0 356.2L264.1 358.8L264.3 356.8L264.4 356.8L264.6 357.4L264.7 357.7L264.9 357.7L265.0 356.2L265.2 354.7L265.3 356.0L265.5 355.8L265.6 354.5L265.8 355.4L265.9 352.7L266.1 350.4L266.2 350.4L266.4 350.3L266.5 347.5L266.7 347.6L266.8 348.6L267.0 347.7L267.1 348.1L267.3 350.1L267.4 349.1L267.6 347.6L267.7 347.6L267.9 350.4L268.0 349.5L268.2 348.6L268.3 351.1L268.5 353.0L268.6 354.0L268.8 347.9L268.9 354.8L269.1 356.9L269.3 360.5L269.4 360.2L269.6 359.4L269.7 361.3L269.9 361.3L270.0 357.3L270.1 360.9L270.3 355.9L270.4 357.0L270.6 354.0L270.7 354.5L270.9 356.7L271.0 355.9L271.2 352.2L271.3 349.4L271.5 351.5L271.6 350.8L271.8 351.3L271.9 349.2L272.1 349.1L272.2 346.7L272.4 346.9L272.5 346.6L272.7 347.1L272.8 347.0L273.0 346.7L273.1 346.2L273.3 346.1L273.4 341.8L273.6 342.8L273.7 341.8L273.9 340.7L274.0 337.3L274.2 337.2L274.3 340.9L274.5 341.2L274.6 341.5L274.7 340.7L274.9 338.3L275.0 338.8L275.2 336.2L275.3 336.4L275.5 336.2L275.6 336.2L275.8 336.9L275.9 336.8L276.1 336.1L276.2 336.0L276.4 332.5L276.5 334.7L276.7 331.6L276.8 333.0L277.0 334.8L277.1 333.4L277.3 336.7L277.4 335.9L277.6 338.7L277.7 337.8L277.9 336.3L278.0 335.4L278.2 333.4L278.3 336.5L278.5 335.0L278.6 331.2L278.8 332.7L278.9 333.3L279.1 334.7L279.2 332.4L279.3 332.8L279.5 331.6L279.6 331.4L279.8 330.4L279.9 331.0L280.1 329.9L280.2 332.1L280.4 330.1L280.5 330.6L280.7 332.6L280.8 331.4L281.0 332.6L281.1 332.7L281.3 332.3L281.4 331.0L281.6 329.9L281.7 330.2L281.9 330.3L282.0 330.3L282.2 326.5L282.4 325.9L282.5 328.1L282.7 323.5L282.8 324.4L283.0 324.9L283.1 324.5L283.3 323.8L283.5 329.9L283.6 327.1L283.8 327.7L283.9 328.8L284.1 327.3L284.2 333.9L284.4 333.0L284.5 330.9L284.7 331.5L284.8 331.9L285.0 332.9L285.1 331.8L285.3 336.3L285.4 339.1L285.6 346.3L285.7 346.4L285.9 346.4L286.0 345.5L286.2 342.9L286.3 340.7L286.5 340.5L286.6 340.4L286.8 338.4L286.9 337.5L287.1 336.1L287.2 334.9L287.4 337.0L287.5 333.6L287.7 332.9L287.8 333.4L288.0 332.9L288.1 334.7L288.2 334.1L288.4 332.2L288.5 335.5L288.7 334.6L288.8 332.8L289.0 329.8L289.1 328.9L289.3 329.1L289.4 330.5L289.6 328.2L289.7 330.8L289.9 328.8L290.0 327.3L290.2 327.9L290.3 323.8L290.5 323.0L290.6 323.7L290.8 327.2L290.9 321.5L291.1 317.9L291.2 317.6L291.4 316.7L291.5 317.1L291.7 316.6L291.8 312.2L292.0 313.4L292.1 312.9L292.3 313.5L292.4 312.9L292.6 315.4L292.8 314.2L292.9 314.5L293.1 317.3L293.2 316.9L293.4 315.8L293.5 315.2L293.7 314.3L293.8 311.7L294.0 317.3L294.1 316.5L294.3 319.8L294.4 322.8L294.6 322.6L294.7 315.4L294.9 318.1L295.0 319.7L295.2 323.3L295.4 329.4L295.5 329.4L295.7 329.5L295.8 329.5L296.0 328.9L296.1 326.9L296.3 327.8L296.4 327.7L296.6 321.8L296.7 322.8L296.9 320.1L297.0 318.5L297.2 318.3L297.3 318.3L297.4 318.4L297.6 318.2L297.7 319.3L297.9 320.7L298.0 318.3L298.2 324.4L298.3 319.1L298.5 318.3L298.6 323.1L298.8 328.3L298.9 326.2L299.1 327.8L299.2 329.4L299.4 329.8L299.5 329.9L299.7 330.0L299.8 330.0L300.0 328.2L300.1 328.1L300.3 327.2L300.4 323.1L300.6 324.9L300.7 324.1L300.9 323.5L301.0 326.6L301.2 327.7L301.3 329.2L301.5 327.7L301.7 324.2L301.8 330.8L302.0 340.4L302.1 341.3L302.3 341.8L302.4 340.2L302.6 335.3L302.8 340.9L302.9 337.5L303.1 335.0L303.2 335.8L303.4 333.8L303.5 332.1L303.7 327.8L303.8 327.7L304.0 327.9L304.1 327.7L304.3 329.5L304.4 327.7L304.6 327.7L304.7 328.3L304.9 335.1L305.0 333.1L305.2 330.4L305.3 331.2L305.5 333.8L305.6 333.2L305.8 331.5L305.9 329.9L306.1 326.2L306.2 327.0L306.4 328.2L306.5 329.6L306.6 332.5L306.8 326.5L306.9 331.9L307.1 331.6L307.2 330.7L307.4 332.3L307.5 332.8L307.7 334.7L307.8 336.2L308.0 337.2L308.1 335.8L308.3 337.0L308.4 334.1L308.6 334.3L308.7 331.2L308.9 332.0L309.0 332.3L309.2 330.3L309.3 323.4L309.5 320.9L309.6 324.6L309.8 321.7L309.9 320.9L310.1 319.7L310.2 318.6L310.4 317.7L310.5 318.0L310.7 318.6L310.8 319.7L310.9 319.9L311.1 315.9L311.2 316.8L311.4 317.2L311.5 316.8L311.7 316.5L311.8 317.7L312.0 315.3L312.1 316.3L312.3 314.3L312.4 317.9L312.6 315.3L312.7 316.2L312.9 315.6L313.0 317.0L313.2 312.4L313.3 314.1L313.5 311.9L313.6 314.9L313.8 315.4L313.9 315.5L314.1 312.3L314.2 313.0L314.4 313.0L314.5 314.2L314.7 315.6L314.8 316.6L315.0 316.7L315.1 315.8L315.3 315.8L315.4 316.4L315.5 315.3L315.7 315.1L315.8 316.7L316.0 316.7L316.1 316.2L316.3 317.2L316.4 318.9L316.6 316.6L316.7 319.4L316.9 318.3L317.0 321.6L317.2 318.8L317.3 318.9L317.5 322.7L317.6 324.3L317.8 322.0L317.9 322.9L318.1 326.9L318.2 326.0L318.4 324.7L318.5 327.3L318.7 328.7L318.8 335.0L319.0 336.4L319.1 334.0L319.3 334.7L319.4 334.5L319.6 332.2L319.7 335.9L319.9 335.1L320.0 336.7L320.1 336.6L320.3 336.7L320.4 334.2L320.6 335.4L320.7 333.1L320.9 334.3L321.0 336.1L321.2 336.6L321.3 334.3L321.5 334.7L321.6 332.3L321.8 329.1L321.9 329.1L322.1 329.2L322.2 329.9L322.4 333.7L322.5 333.1L322.7 331.7L322.8 340.6L323.0 341.0L323.1 340.2L323.3 340.2L323.4 341.2L323.6 337.5L323.7 337.2L323.9 341.1L324.0 341.0L324.2 341.0L324.3 341.2L324.5 341.1L324.6 341.2L324.7 341.2L324.9 341.2L325.0 342.0L325.2 339.4L325.3 346.8L325.5 350.5L325.6 350.6L325.8 351.3L325.9 351.3L326.1 349.2L326.2 350.3L326.4 347.1L326.5 351.4L326.7 351.4L326.8 351.3L327.0 351.2L327.1 349.6L327.3 351.3L327.4 352.3L327.6 354.1L327.7 346.4L327.9 349.0L328.1 359.9L328.2 366.0L328.4 368.1L328.5 364.9L328.7 370.0L328.8 379.4L329.0 382.3L329.1 383.2L329.3 384.1L329.4 388.7L329.6 394.3L329.7 396.5L329.9 412.7L330.0 400.7L330.1 414.6L330.3 411.2L330.4 415.6L330.6 416.0L330.7 401.4L330.9 397.5L331.0 382.4L331.2 382.5L331.3 386.4L331.5 382.3L331.6 382.3L331.8 382.4L331.9 382.3L332.1 385.8L332.2 397.2L332.4 397.1L332.5 397.6L332.7 397.0L332.8 419.0L333.0 420.5L333.1 414.9L333.3 410.3L333.4 400.0L333.5 400.1L333.7 400.2L333.8 404.8L334.0 403.7L334.1 409.3L334.3 410.8L334.4 410.2L334.6 403.7L334.7 410.3L334.9 398.2L335.0 394.7L335.2 395.4L335.3 386.7L335.5 386.9L335.6 386.9L335.8 388.3L335.9 390.3L336.1 390.7L336.2 387.3L336.4 390.1L336.5 390.7L336.7 387.9L336.8 387.9L336.9 388.4L337.1 381.3L337.2 382.2L337.4 383.9L337.5 380.1L337.7 380.5L337.8 380.6L338.0 380.3L338.1 380.1L338.3 380.6L338.4 393.1L338.6 397.5L338.7 404.8L338.9 405.4L339.0 405.5L339.2 405.4L339.3 403.7L339.5 399.4L339.6 397.6L339.8 394.5L339.9 389.1L340.0 389.0L340.2 389.1L340.3 388.9L340.5 392.2L340.6 390.8L340.8 391.3L340.9 396.6L341.1 397.0L341.2 405.5L341.4 402.8L341.5 406.8L341.7 407.0L341.8 401.7L342.0 402.6L342.1 403.2L342.3 406.4L342.4 403.2L342.6 404.4L342.7 405.6L342.9 403.3L343.0 409.2L343.2 408.0L343.3 415.9L343.4 415.5L343.6 414.7L343.7 415.8L343.9 418.8L344.0 413.1L344.2 409.5L344.3 412.2L344.5 413.3L344.6 418.1L344.8 413.8L344.9 419.6L345.1 410.7L345.2 406.5L345.4 407.2L345.5 403.8L345.7 405.3L345.8 396.4L346.0 396.6L346.1 399.3L346.3 394.0L346.4 390.0L346.6 391.3L346.7 385.1L346.8 382.3L347.0 381.4L347.1 383.0L347.3 382.8L347.4 381.3L347.6 377.5L347.7 383.3L347.9 379.4L348.0 380.1L348.2 377.0L348.3 377.8L348.5 375.9L348.6 372.4L348.8 372.7L348.9 372.6L349.1 377.3L349.2 374.3L349.4 373.5L349.5 375.0L349.7 369.3L349.8 368.0L350.0 375.6L350.1 372.5L350.2 365.8L350.4 361.6L350.5 368.1L350.7 362.5L350.8 360.3L351.0 358.6L351.1 358.4L351.3 352.9L351.4 347.9L351.6 352.6L351.7 355.5L351.9 353.4L352.0 347.3L352.2 344.5L352.3 344.3L352.5 344.4L352.6 344.4L352.8 347.7L352.9 346.1L353.1 345.9L353.2 344.4L353.3 344.6L353.5 348.6L353.6 346.7L353.8 348.8L353.9 348.7L354.1 347.6L354.2 348.8L354.4 347.1L354.5 348.7L354.7 348.2L354.8 349.7L355.0 354.0L355.1 348.4L355.3 348.5L355.4 352.4L355.6 356.6L355.7 355.0L355.9 357.0L356.0 356.1L356.2 357.4L356.3 355.0L356.5 356.0L356.6 357.2L356.7 357.4L356.9 357.0L357.0 355.7L357.2 357.5L357.3 356.7L357.5 347.6L357.6 347.8L357.8 357.3L357.9 357.6L358.1 351.2L358.2 349.5L358.4 341.4L358.5 341.4L358.7 338.4L358.8 337.9L359.0 330.8L359.2 332.5L359.3 335.8L359.5 338.4L359.6 333.7L359.8 330.5L359.9 330.5L360.1 330.9L360.2 329.6L360.4 328.5L360.5 328.2L360.7 329.9L360.8 329.7L361.0 328.5L361.2 327.8L361.3 328.5L361.5 328.6L361.6 328.9L361.8 327.4L361.9 325.6L362.1 326.2L362.2 322.8L362.4 319.0L362.5 321.3L362.7 322.7L362.8 316.1L362.9 315.8L363.1 317.6L363.2 318.8L363.4 315.9L363.5 315.7L363.7 315.8L363.8 315.7L364.0 315.7L364.1 317.2L364.3 318.2L364.4 318.0L364.6 318.2L364.7 318.2L364.9 318.2L365.0 317.5L365.2 317.2L365.3 318.0L365.5 317.5L365.6 315.1L365.8 316.2L365.9 317.4L366.1 317.2L366.3 318.2L366.4 315.6L366.6 317.6L366.7 315.2L366.9 314.7L367.0 316.4L367.2 320.3L367.3 320.8L367.5 320.8L367.6 319.5L367.8 319.7L367.9 319.9L368.1 319.9L368.2 323.0L368.4 322.9L368.5 322.2L368.7 321.8L368.8 320.3L369.0 321.5L369.1 321.3L369.3 319.8L369.4 318.8L369.6 318.0L369.7 316.5L369.9 318.3L370.1 319.1L370.2 317.2L370.4 316.5L370.5 315.7L370.7 314.8L370.8 316.0L371.0 316.2L371.1 316.1L371.3 315.1L371.4 315.8L371.6 316.1L371.7 316.1L371.8 315.8L372.0 316.1L372.1 316.1L372.3 315.1L372.4 315.0L372.6 314.7L372.7 313.7L372.9 313.4L373.0 314.3L373.2 314.4L373.3 313.5L373.5 313.7L373.6 313.4L373.8 315.2L373.9 313.8L374.1 313.5L374.2 312.1L374.4 308.8L374.5 307.6L374.7 307.2L374.8 309.4L375.0 309.3L375.2 307.8L375.3 306.8L375.5 306.1L375.6 307.3L375.8 306.5L375.9 309.8L376.1 310.3L376.2 307.3L376.4 305.8L376.5 310.1L376.6 312.2L376.8 311.7L376.9 313.9L377.1 315.0L377.2 316.1L377.4 316.5L377.5 318.1L377.7 317.2L377.8 318.4L378.0 317.9L378.1 320.1L378.3 320.8L378.4 319.7L378.6 322.6L378.7 323.2L378.9 321.0L379.0 320.3L379.2 319.6L379.3 318.1L379.5 316.5L379.6 317.7L379.8 319.3L379.9 317.4L380.1 314.0L380.2 316.6L380.4 312.6L380.5 309.6L380.7 307.7L380.8 307.7L380.9 307.7L381.1 307.9L381.2 308.8L381.4 308.9L381.5 309.9L381.7 308.8L381.8 306.2L382.0 308.9L382.1 305.2L382.3 306.0L382.4 304.7L382.6 302.9L382.7 304.6L382.9 308.8L383.0 304.3L383.2 303.7L383.3 302.7L383.5 301.7L383.6 299.6L383.8 299.1L383.9 301.7L384.1 302.7L384.2 301.4L384.4 303.1L384.5 302.2L384.7 301.4L384.8 301.4L385.0 300.1L385.1 298.5L385.3 297.0L385.4 298.6L385.6 299.9L385.7 301.6L385.9 302.0L386.0 302.5L386.2 303.1L386.3 303.5L386.5 307.2L386.6 304.3L386.8 305.7L386.9 305.3L387.1 306.5L387.2 309.9L387.4 307.1L387.5 309.8L387.7 311.2L387.8 317.8L388.0 315.5L388.1 310.5L388.3 311.0L388.5 312.8L388.6 314.9L388.8 319.0L388.9 317.0L389.1 319.7L389.2 318.6L389.4 320.0L389.5 315.8L389.7 318.0L389.8 315.0L390.0 314.1L390.1 313.6L390.3 312.0L390.4 314.2L390.6 307.1L390.8 305.9L390.9 309.8L391.1 310.1L391.2 312.2L391.4 312.7L391.5 310.0L391.7 306.5L391.8 305.6L392.0 305.9L392.1 305.6L392.3 305.7L392.4 305.7L392.5 305.7L392.7 305.9L392.8 308.7L393.0 307.6L393.1 308.3L393.3 309.3L393.4 310.7L393.6 308.2L393.7 307.9L393.9 306.9L394.0 303.4L394.2 301.7L394.3 306.0L394.5 307.2L394.6 309.4L394.7 308.1L394.9 306.7L395.0 303.5L395.2 305.0L395.3 305.0L395.5 304.5L395.6 302.0L395.8 301.2L395.9 301.4L396.1 303.8L396.2 300.9L396.4 300.6L396.5 300.1L396.7 299.0L396.8 299.0L397.0 299.1L397.1 299.0L397.3 298.8L397.4 300.2L397.6 299.0L397.7 300.9L397.9 301.3L398.1 302.3L398.2 304.3L398.4 304.3L398.5 304.1L398.7 304.3L398.8 304.3L399.0 302.9L399.1 300.9L399.2 299.6L399.4 297.6L399.5 294.8L399.7 290.8L399.8 289.0L400.0 291.7L400.1 293.6L400.3 293.0L400.4 293.5L400.6 291.7L400.7 289.4L400.9 289.7L401.0 290.5L401.2 289.9L401.3 289.5L401.5 290.0L401.6 288.5L401.8 287.8L401.9 288.4L402.1 287.7L402.2 287.7L402.4 288.3L402.5 285.7L402.7 286.3L402.8 283.1L403.0 285.1L403.2 284.7L403.3 286.9L403.5 282.8L403.6 282.4L403.8 281.9L403.9 281.3L404.1 284.2L404.2 285.6L404.4 284.0L404.5 282.2L404.7 282.4L404.8 283.1L405.0 280.3L405.1 278.6L405.3 279.3L405.4 281.2L405.6 280.7L405.7 279.3L405.9 277.2L406.0 277.1L406.2 277.2L406.3 279.1L406.5 278.2L406.6 278.1L406.8 279.5L406.9 279.8L407.1 279.9L407.2 280.0L407.4 279.0L407.5 280.6L407.7 281.8L407.8 282.2L408.0 282.7L408.1 282.6L408.2 282.7L408.4 281.9L408.5 280.1L408.7 278.3L408.8 279.1L409.0 279.0L409.1 281.3L409.3 280.2L409.4 280.1L409.6 280.2L409.7 279.0L409.9 278.0L410.0 277.1L410.2 278.2L410.3 277.5L410.5 276.4L410.6 276.8L410.8 275.2L410.9 276.0L411.1 275.8L411.2 275.3L411.4 274.1L411.5 273.2L411.7 274.3L411.8 274.4L412.0 274.5L412.1 275.4L412.3 275.4L412.4 275.4L412.6 275.5L412.7 275.2L412.9 272.3L413.0 271.9L413.2 271.3L413.3 271.5L413.5 272.0L413.7 272.7L413.8 271.7L414.0 271.2L414.1 271.2L414.3 271.9L414.4 271.8L414.6 272.7L414.7 272.0L414.9 273.0L415.0 272.7L415.2 272.5L415.3 273.5L415.5 273.5L415.6 273.5L415.8 272.0L415.9 272.5L416.1 273.3L416.2 272.7L416.4 273.6L416.5 273.5L416.7 273.6L416.8 273.6L417.0 273.6L417.2 273.2L417.3 273.2L417.5 273.0L417.6 273.1L417.8 273.6L417.9 273.0L418.1 273.5L418.2 273.4L418.4 273.5L418.5 273.6L418.7 273.4L418.8 273.0L419.0 272.9L419.1 273.0L419.3 272.2L419.4 271.5L419.6 276.3L419.7 278.1L419.8 278.5L420.0 274.5L420.1 277.8L420.3 277.7L420.4 278.4L420.6 275.7L420.7 278.4L420.9 274.4L421.0 274.3L421.2 270.5L421.3 268.7L421.5 265.9L421.7 266.0L421.8 265.1L422.0 265.8L422.1 264.9L422.3 265.6L422.4 266.4L422.6 266.5L422.7 266.3L422.9 266.2L423.0 265.4L423.2 264.0L423.3 263.9L423.5 263.8L423.6 264.0L423.8 263.3L423.9 262.9L424.1 263.8L424.2 263.0L424.4 263.2L424.5 263.7L424.7 263.0L424.8 267.6L425.0 266.8L425.1 268.0L425.3 266.4L425.4 270.3L425.6 270.6L425.7 270.2L425.9 269.5L426.1 270.1L426.2 269.6L426.4 268.3L426.5 268.3L426.6 268.3L426.8 269.6L426.9 270.7L427.1 272.7L427.2 272.5L427.4 272.6L427.5 272.5L427.7 272.7L427.8 272.6L428.0 270.4L428.1 270.6L428.3 270.9L428.4 271.9L428.6 268.3L428.7 269.9L428.9 271.4L429.0 270.8L429.2 270.4L429.3 269.0L429.5 268.0L429.6 267.8L429.7 265.8L429.9 265.3L430.0 267.0L430.2 268.2L430.3 268.7L430.5 266.5L430.6 266.3L430.8 267.3L430.9 267.4L431.1 267.8L431.2 267.7L431.4 267.5L431.5 267.6L431.7 266.1L431.8 266.9L432.0 266.7L432.1 265.5L432.3 265.4L432.4 265.9L432.6 266.2L432.7 265.1L432.9 265.3L433.0 265.3L433.2 265.7L433.3 276.3L433.5 281.8L433.6 281.1L433.8 279.9L434.0 277.1L434.1 281.6L434.3 281.6L434.4 280.8L434.6 283.5L434.7 283.7L434.9 283.2L435.0 282.6L435.2 280.8L435.3 281.4L435.5 281.1L435.6 283.6L435.7 282.4L435.9 278.6L436.0 276.9L436.2 277.2L436.3 277.1L436.5 277.1L436.6 277.1L436.8 278.8L436.9 277.5L437.1 279.5L437.2 280.5L437.4 279.4L437.5 277.1L437.7 283.1L437.8 287.7L438.0 286.2L438.1 289.5L438.3 289.5L438.4 288.3L438.6 293.9L438.7 293.2L438.9 297.3L439.1 295.7L439.2 295.8L439.4 296.1L439.5 298.6L439.7 296.4L439.8 291.3L440.0 288.3L440.1 287.1L440.2 293.2L440.4 300.6L440.5 298.0L440.7 292.2L440.8 290.6L441.0 283.1L441.1 284.1L441.3 282.5L441.4 291.4L441.6 286.7L441.7 279.4L441.9 276.1L442.0 277.2L442.2 276.0L442.3 276.4L442.5 283.5L442.6 275.9L442.8 275.9L442.9 276.0L443.1 276.0L443.2 277.7L443.4 283.5L443.6 284.9L443.7 284.9L443.9 286.2L444.0 284.9L444.2 287.9L444.3 288.8L444.5 288.6L444.6 294.6L444.8 290.2L444.9 287.8L445.1 292.2L445.2 293.7L445.4 292.1L445.5 293.1L445.7 290.1L445.8 287.6L446.0 284.8L446.1 288.1L446.3 287.3L446.5 287.9L446.6 287.7L446.8 288.5L446.9 287.7L447.1 287.9L447.2 291.5L447.4 289.1L447.5 288.0L447.7 285.3L447.8 283.9L448.0 283.5L448.1 280.6L448.3 280.6L448.4 280.1L448.6 277.6L448.7 275.9L448.9 277.1L449.0 278.6L449.1 274.9L449.3 273.6L449.4 274.4L449.6 273.7L449.7 275.6L449.9 275.1L450.0 272.6L450.2 272.7L450.3 272.2L450.5 272.2L450.6 272.0L450.8 272.9L450.9 272.8L451.1 273.6L451.2 274.0L451.4 273.3L451.5 271.3L451.7 268.8L451.8 268.5L452.0 265.3L452.2 265.4L452.3 265.4L452.5 265.5L452.6 266.1L452.8 266.8L452.9 267.2L453.1 266.7L453.2 265.5L453.4 264.8L453.5 264.9L453.7 265.4L453.8 264.6L454.0 265.5L454.1 265.3L454.3 265.6L454.4 266.2L454.6 265.9L454.7 266.1L454.9 265.6L455.0 264.5L455.2 265.4L455.3 266.7L455.5 266.6L455.7 266.0L455.8 267.7L456.0 267.7L456.1 267.4L456.3 267.5L456.4 267.5L456.6 266.5L456.7 264.9L456.9 266.1L457.0 265.1L457.2 265.1L457.3 265.9L457.5 266.0L457.6 267.5L457.8 268.2L457.9 267.7L458.1 268.0L458.2 269.4L458.3 270.4L458.5 269.9L458.6 270.3L458.8 270.0L458.9 269.7L459.1 269.1L459.2 268.3L459.4 268.1L459.5 267.7L459.7 270.1L459.8 269.1L460.0 268.4L460.1 268.7L460.3 269.3L460.4 270.9L460.6 270.5L460.7 270.7L460.9 270.7L461.1 272.7L461.2 273.4L461.4 273.4L461.5 272.7L461.7 272.5L461.8 273.1L462.0 275.5L462.1 279.3L462.3 276.7L462.4 275.8L462.6 278.4L462.7 276.3L462.9 276.7L463.0 279.6L463.2 281.9L463.3 281.9L463.5 279.8L463.6 281.2L463.8 283.7L463.9 283.2L464.1 284.1L464.2 286.7L464.4 287.0L464.5 286.7L464.7 285.6L464.8 286.5L465.0 285.6L465.2 284.5L465.3 284.9L465.5 285.1L465.6 284.2L465.8 283.9L465.9 283.5L466.1 282.6L466.2 282.2L466.4 281.6L466.5 283.9L466.7 280.7L466.8 281.7L467.0 281.0L467.1 281.6L467.3 280.6L467.4 279.9L467.6 278.3L467.7 279.4L467.9 279.3L468.0 279.5L468.2 279.5L468.3 277.7L468.5 277.2L468.6 277.9L468.8 276.2L468.9 276.2L469.1 276.0L469.2 276.8L469.4 276.8L469.5 277.9L469.7 275.5L469.8 275.7L470.0 275.5L470.1 274.7L470.3 274.3L470.4 273.8L470.6 274.1L470.7 273.0L470.9 272.4L471.0 272.2L471.2 273.7L471.3 273.1L471.5 272.9L471.6 274.7L471.8 274.6L471.9 273.7L472.0 272.2L472.2 271.0L472.3 272.9L472.5 271.4L472.6 271.6L472.8 270.4L472.9 271.5L473.1 270.7L473.2 268.8L473.4 268.2L473.5 271.0L473.7 268.4L473.8 264.9L474.0 266.3L474.1 268.4L474.3 267.1L474.5 268.5L474.6 270.2L474.8 268.1L474.9 265.9L475.1 266.9L475.2 264.2L475.4 263.6L475.5 262.0L475.7 263.0L475.8 262.9L476.0 263.1L476.1 261.3L476.3 261.5L476.4 261.4L476.5 262.3L476.7 262.3L476.8 262.6L477.0 261.9L477.1 261.5L477.3 261.5L477.4 261.5L477.6 262.0L477.7 263.4L477.9 263.2L478.0 263.1L478.2 263.0L478.3 265.3L478.5 265.1L478.6 267.1L478.8 266.8L478.9 266.2L479.1 265.4L479.2 267.1L479.4 266.8L479.5 266.0L479.7 266.2L479.8 266.6L480.0 266.2L480.1 266.3L480.3 267.4L480.4 267.8L480.6 267.3L480.7 265.7L480.9 265.7L481.0 268.5L481.1 267.9L481.3 268.4L481.4 267.8L481.6 268.2L481.7 266.8L481.9 265.6L482.0 263.3L482.2 260.4L482.3 265.7L482.5 265.1L482.6 264.8L482.8 265.2L482.9 262.1L483.1 261.2L483.2 261.4L483.4 263.1L483.5 261.2L483.7 262.4L483.8 260.7L484.0 257.7L484.1 259.0L484.3 258.8L484.4 257.6L484.6 257.6L484.7 257.4L484.9 254.8L485.0 252.3L485.2 254.7L485.3 253.9L485.5 254.6L485.6 255.2L485.7 255.6L485.9 257.1L486.0 254.5L486.2 256.1L486.3 254.3L486.5 253.5L486.6 250.9L486.8 252.1L486.9 251.6L487.1 252.3L487.2 252.5L487.4 251.5L487.5 251.0L487.7 251.8L487.8 252.8L488.0 252.5L488.1 251.2L488.3 250.0L488.4 251.1L488.6 252.2L488.7 252.6L488.9 251.2L489.1 252.8L489.2 252.7L489.4 251.5L489.5 251.5L489.7 249.6L489.8 249.7L490.0 250.6L490.1 251.1L490.3 250.2L490.4 249.7L490.6 249.9L490.7 249.8L490.9 249.7L491.0 250.1L491.2 250.3L491.3 249.9L491.5 250.4L491.6 250.2L491.8 248.6L491.9 249.2L492.1 248.5L492.2 248.7L492.4 248.7L492.5 250.4L492.7 250.3L492.8 250.8L493.0 250.6L493.1 250.5L493.3 250.6L493.4 249.8L493.6 250.8L493.7 250.7L493.9 250.0L494.0 249.3L494.2 250.5L494.3 250.0L494.5 249.5L494.6 248.6L494.8 250.0L494.9 249.4L495.1 248.5L495.2 248.7L495.4 248.6L495.5 248.5L495.7 248.7L495.8 248.7L496.0 249.3L496.1 249.3L496.3 248.6L496.4 248.0L496.6 247.2L496.7 247.7L496.9 249.9L497.0 248.7L497.2 244.6L497.3 243.1L497.5 245.1L497.6 245.1L497.8 244.3L497.9 244.7L498.1 244.2L498.2 242.2L498.4 244.0L498.5 243.0L498.7 241.7L498.8 243.9L499.0 241.9L499.1 242.1L499.2 243.0L499.4 244.0L499.6 243.4L499.7 241.6L499.9 241.5L500.0 243.0L500.2 243.0L500.3 245.5L500.5 245.1L500.6 250.7L500.8 248.8L500.9 248.8L501.1 248.9L501.2 249.2L501.4 250.5L501.5 251.2L501.7 254.2L501.8 256.9L502.0 258.6L502.1 258.6L502.3 255.4L502.4 257.0L502.6 254.0L502.7 256.6L502.9 258.2L503.0 254.8L503.2 255.8L503.3 256.4L503.5 257.1L503.6 258.3L503.8 260.0L503.9 259.9L504.1 260.2L504.2 257.0L504.4 254.8L504.5 255.4L504.7 255.0L504.8 257.3L505.0 252.9L505.1 253.7L505.3 257.4L505.4 255.8L505.6 256.0L505.7 254.0L505.9 251.5L506.0 249.7L506.2 247.7L506.3 247.7L506.5 247.7L506.6 247.4L506.8 248.4L506.9 248.0L507.1 248.1L507.2 245.5L507.4 245.7L507.5 246.6L507.7 246.6L507.8 245.6L508.0 245.7L508.1 247.5L508.2 246.6L508.4 246.2L508.5 246.4L508.7 248.5L508.8 248.0L509.0 247.4L509.1 248.3L509.3 251.1L509.4 248.8L509.6 248.3L509.8 249.4L509.9 248.8L510.1 246.8L510.2 246.1L510.4 251.3L510.5 252.4L510.7 252.1L510.8 250.5L511.0 250.6L511.1 251.1L511.3 250.7L511.4 247.5L511.6 247.8L511.7 248.5L511.9 249.6L512.0 249.3L512.2 249.4L512.3 249.7L512.5 243.6L512.6 243.1L512.8 243.6L512.9 242.3L513.1 240.3L513.2 239.6L513.4 238.1L513.5 238.7L513.7 236.2L513.8 235.8L514.0 236.6L514.1 236.0L514.3 237.2L514.4 236.0L514.6 236.5L514.7 238.2L514.9 237.0L515.0 235.8L515.2 236.0L515.3 234.2L515.5 235.3L515.6 233.6L515.8 232.8L515.9 234.4L516.1 234.3L516.2 235.8L516.4 236.4L516.5 235.0L516.7 234.4L516.8 234.0L517.0 235.6L517.1 234.2L517.3 234.8L517.4 234.9L517.5 235.7L517.7 236.6L517.8 236.5L518.0 238.8L518.1 236.9L518.3 237.0L518.4 236.5L518.6 238.7L518.7 238.2L518.9 238.1L519.0 238.8L519.2 239.3L519.4 239.4L519.5 239.3L519.7 238.9L519.8 239.4L520.0 238.5L520.1 239.1L520.3 239.2L520.4 237.7L520.6 238.9L520.7 236.8L520.9 237.5L521.0 236.6L521.2 238.0L521.3 238.7L521.5 239.4L521.6 237.9L521.8 237.7L521.9 238.0L522.1 239.2L522.2 238.8L522.4 238.7L522.5 238.5L522.7 237.5L522.8 237.5L523.0 236.4L523.1 236.5L523.3 237.5L523.4 237.8L523.6 238.2L523.7 237.6L523.9 239.1L524.0 240.7L524.2 240.2L524.3 241.4L524.5 241.3L524.6 240.3L524.7 241.4L524.9 241.2L525.0 240.2L525.2 240.6L525.3 241.4L525.5 241.3L525.6 241.2L525.8 240.9L525.9 240.8L526.1 241.7L526.2 241.3L526.4 240.4L526.5 241.9L526.6 244.2L526.8 243.3L526.9 243.3L527.1 242.8L527.2 242.3L527.4 243.8L527.5 244.1L527.7 243.0L527.8 243.5L528.0 242.7L528.1 243.0L528.3 244.0L528.4 243.4L528.6 241.4L528.7 242.7L528.9 241.6L529.0 240.5L529.1 241.4L529.3 241.8L529.4 241.4L529.6 239.9L529.7 238.3L529.9 236.8L530.0 236.0L530.2 235.4L530.3 234.9L530.5 233.4L530.7 234.3L530.8 234.3L531.0 235.1L531.1 233.8L531.3 232.1L531.4 232.7L531.6 232.0L531.7 231.5L531.9 231.2L532.0 232.5L532.2 232.8L532.3 231.2L532.5 231.1L532.6 232.2L532.8 232.4L532.9 232.9L533.1 233.2L533.2 232.8L533.4 231.3L533.5 232.5L533.7 231.5L533.8 232.4L534.0 231.0L534.2 231.1L534.3 231.7L534.5 230.2L534.6 231.0L534.8 231.1L534.9 230.9L535.1 230.5L535.2 230.1L535.4 228.9L535.5 229.3L535.7 227.6L535.8 229.5L536.0 230.1L536.1 229.1L536.3 227.2L536.4 226.3L536.6 226.3L536.7 226.4L536.9 226.2L537.0 226.2L537.2 227.4L537.3 226.5L537.5 226.6L537.7 227.1L537.8 227.8L538.0 227.9L538.1 227.1L538.3 226.7L538.4 227.8L538.6 228.3L538.7 227.6L538.9 228.3L539.0 228.0L539.2 227.0L539.3 225.4L539.5 225.3L539.6 225.2L539.8 224.9L539.9 224.9L540.1 225.3L540.2 224.2L540.4 225.3L540.5 224.5L540.7 225.3L540.8 224.2L541.0 224.4L541.2 222.9L541.3 222.4L541.5 222.4L541.6 223.2L541.8 223.3L541.9 223.6L542.1 223.3L542.2 222.5L542.4 223.9L542.5 224.4L542.7 224.4L542.8 224.6L542.9 224.6L543.1 224.4L543.2 224.4L543.4 224.6L543.5 224.4L543.7 224.4L543.8 223.6L544.0 222.5L544.1 222.1L544.3 223.2L544.4 221.9L544.6 221.7L544.7 222.2L544.9 222.2L545.0 221.3L545.2 222.1L545.3 221.3L545.5 222.7L545.6 223.6L545.8 223.4L545.9 223.4L546.1 222.7L546.2 223.6L546.4 223.6L546.5 222.6L546.7 222.5L546.8 220.3L547.0 221.6L547.1 222.0L547.3 222.5L547.4 222.8L547.5 222.0L547.7 222.3L547.8 221.7L548.0 222.8L548.1 224.0L548.3 222.3L548.4 222.7L548.6 222.6L548.7 221.7L548.9 222.6L549.0 221.5L549.2 220.3L549.3 221.3L549.5 223.9L549.6 224.6L549.8 224.4L549.9 224.2L550.1 225.4L550.2 224.9L550.4 226.0L550.5 227.4L550.7 226.8L550.8 229.3L551.0 229.8L551.1 230.9L551.3 233.5L551.4 234.5L551.6 232.7L551.7 233.3L551.9 234.3L552.0 233.5L552.2 234.4L552.3 234.3L552.5 233.2L552.6 233.4L552.8 232.0L552.9 233.0L553.1 232.1L553.2 232.3L553.4 230.6L553.5 231.0L553.7 231.0L553.8 230.8L554.0 230.6L554.1 230.6L554.3 232.5L554.4 230.2L554.6 230.9L554.7 228.7L554.9 229.2L555.0 227.7L555.2 228.2L555.3 227.4L555.5 227.8L555.6 227.7L555.8 228.1L555.9 229.3L556.1 228.8L556.2 229.4L556.4 227.3L556.5 227.7L556.7 229.2L556.8 229.2L557.0 228.8L557.1 228.3L557.3 229.5L557.4 229.6L557.6 228.7L557.7 230.6L557.9 231.2L558.0 232.3L558.2 232.7L558.3 231.8L558.5 231.9L558.7 232.3L558.8 228.9L559.0 229.1L559.1 231.6L559.3 232.7L559.4 233.0L559.6 232.5L559.7 232.5L559.9 231.6L560.0 232.1L560.2 230.9L560.3 231.7L560.5 231.9L560.6 231.5L560.8 230.5L560.9 230.1L561.0 229.6L561.2 229.1L561.3 229.7L561.5 228.8L561.6 229.4L561.8 229.8L561.9 230.8L562.1 228.9L562.2 228.2L562.4 228.2L562.5 228.2L562.7 229.1L562.8 229.5L563.0 229.3L563.1 229.5L563.3 228.3L563.4 228.9L563.6 228.9L563.7 228.8L563.9 228.0L564.1 228.2L564.2 228.1L564.4 227.0L564.5 227.2L564.7 224.7L564.8 227.7L565.0 227.8L565.1 226.9L565.3 227.5L565.4 226.1L565.6 226.9L565.7 225.0L565.9 224.8L566.0 225.6L566.2 225.2L566.3 225.7L566.5 225.6L566.6 224.0L566.8 224.0L566.9 224.3L567.1 222.3L567.2 221.9L567.4 220.0L567.5 222.0L567.7 223.5L567.8 221.6L568.0 220.8L568.1 219.6L568.3 219.0L568.4 217.3L568.6 217.6L568.7 217.5L568.9 221.4L569.0 220.9L569.2 219.2L569.3 219.7L569.5 217.9L569.6 218.6L569.8 218.0L569.9 217.8L570.0 218.1L570.2 217.6L570.3 218.0L570.5 217.3L570.6 216.7L570.8 215.2L570.9 216.6L571.1 214.8L571.2 214.6L571.4 213.6L571.5 211.9L571.7 213.7L571.8 213.9L572.0 213.9L572.1 212.8L572.3 212.4L572.4 211.7L572.6 212.0L572.7 212.1L572.9 212.1L573.0 212.8L573.2 213.5L573.3 214.3L573.5 214.1L573.6 214.4L573.8 215.5L573.9 215.0L574.1 214.3L574.2 214.4L574.4 215.0L574.5 216.0L574.6 216.6L574.8 215.5L574.9 216.0L575.1 215.3L575.2 216.2L575.4 215.4L575.5 215.8L575.7 215.0L575.8 214.9L576.0 216.4L576.1 218.2L576.3 217.9L576.4 217.7L576.6 217.8L576.7 216.1L576.9 216.8L577.0 217.6L577.2 216.5L577.3 216.3L577.5 217.1L577.6 218.6L577.8 217.7L577.9 218.9L578.1 220.0L578.2 220.0L578.4 218.9L578.5 218.6L578.7 218.3L578.8 218.4L579.0 218.5L579.1 218.4L579.3 219.0L579.4 220.4L579.6 219.0L579.7 219.6L579.9 222.0L580.0 222.1L580.2 222.2L580.3 223.1L580.5 222.1L580.6 222.3L580.8 222.8L580.9 221.2L581.1 221.2L581.2 221.4L581.4 221.4L581.5 221.4L581.7 221.6L581.8 221.6L582.0 224.0L582.1 224.0L582.3 223.6L582.4 224.0L582.6 224.9L582.7 226.1L582.9 226.9L583.0 227.0L583.2 226.7L583.3 227.3L583.5 229.3L583.6 230.9L583.8 236.0L583.9 236.4L584.1 235.3L584.2 236.3L584.4 236.2L584.5 238.4L584.7 237.5L584.8 241.2L585.0 241.4L585.1 241.2L585.3 240.6L585.4 240.9L585.6 241.1L585.7 241.2L585.9 240.6L586.0 241.3L586.2 240.5L586.3 241.2L586.5 239.8L586.7 239.9L586.8 239.9L587.0 239.7L587.1 238.1L587.3 237.7L587.4 237.4L587.6 237.7L587.7 237.8L587.9 235.8L588.0 231.8L588.2 236.0L588.3 234.8L588.5 235.6L588.6 234.5L588.8 235.4L588.9 233.7L589.1 232.5L589.2 230.0L589.4 230.3L589.5 229.2L589.7 228.3L589.8 228.3L590.0 228.2L590.2 228.4L590.3 228.3L590.5 229.5L590.6 230.3L590.8 230.4L590.9 230.4L591.1 229.1L591.2 228.7L591.4 228.2L591.5 229.4L591.7 231.2L591.8 230.6L592.0 229.3L592.1 228.4L592.3 231.0L592.4 231.5L592.6 232.4L592.7 231.4L592.8 230.7L593.0 229.9L593.1 232.6L593.3 230.2L593.4 231.7L593.6 233.1L593.7 234.0L593.9 232.2L594.0 234.3L594.2 235.0L594.3 235.3L594.5 236.6L594.6 236.6L594.8 236.3L594.9 234.7L595.1 234.8L595.2 234.2L595.4 235.5L595.6 234.8L595.7 234.2L595.9 235.8L596.0 236.1L596.2 238.3L596.3 238.0L596.5 240.1L596.6 240.9L596.8 240.8L596.9 240.4L597.1 241.4L597.2 245.7L597.4 243.9L597.5 245.8L597.7 243.1L597.8 244.8L598.0 244.6L598.1 246.0L598.3 246.2L598.4 246.8L598.6 248.0L598.7 244.2L598.9 247.9L599.0 247.9L599.1 255.6L599.3 248.2L599.4 251.6L599.6 253.2L599.7 254.9L599.9 255.6L600.0 254.6L600.2 254.2L600.3 251.5L600.5 251.2L600.6 252.3L600.8 251.7L600.9 250.7L601.1 247.8L601.2 248.8L601.4 247.4L601.5 249.7L601.7 248.1L601.8 251.6L601.9 248.4L602.1 247.8L602.2 244.3L602.4 244.8L602.6 243.4L602.7 244.7L602.9 245.0L603.0 245.2L603.2 242.7L603.3 244.5L603.5 243.4L603.6 241.9L603.8 242.4L603.9 241.3L604.1 239.1L604.2 237.8L604.4 237.7L604.5 235.8L604.7 236.7L604.8 238.1L605.0 237.3L605.1 236.8L605.3 235.5L605.4 233.8L605.6 234.4L605.7 233.4L605.9 232.7L606.1 231.2L606.2 230.1L606.4 231.3L606.5 230.9L606.6 230.9L606.8 229.0L606.9 230.3L607.1 230.3L607.2 228.8L607.4 227.7L607.5 228.2L607.7 228.5L607.8 229.3L608.0 227.7L608.1 228.9L608.3 227.1L608.4 227.6L608.6 227.4L608.7 227.8L608.9 228.2L609.0 227.8L609.2 229.9L609.3 227.1L609.5 230.8L609.6 231.7L609.7 234.9L609.9 235.5L610.0 236.0L610.2 236.1L610.3 236.9L610.5 235.9L610.6 236.6L610.8 238.0L610.9 235.4L611.0 232.1L611.2 231.7L611.3 234.1L611.5 237.8L611.6 234.6L611.8 237.4L611.9 233.9L612.1 231.6L612.2 233.4L612.4 231.0L612.5 230.3L612.7 230.2L612.8 228.8L613.0 229.7L613.1 229.6L613.3 228.1L613.4 228.7L613.6 229.1L613.7 227.6L613.9 227.8L614.0 229.0L614.2 228.4L614.3 228.2L614.5 227.6L614.7 227.0L614.8 227.6L615.0 228.0L615.1 227.2L615.2 226.3L615.4 231.7L615.5 235.4L615.7 232.2L615.8 234.6L615.9 233.6L616.1 233.2L616.2 231.2L616.4 231.7L616.6 226.9L616.7 225.4L616.9 232.0L617.0 229.0L617.2 229.7L617.3 231.9L617.5 230.5L617.6 229.8L617.8 224.9L617.9 224.4L618.1 223.5L618.2 223.6L618.4 223.2L618.5 225.5L618.7 224.6L618.8 222.8L619.0 221.6L619.1 222.2L619.3 220.1L619.4 218.1L619.6 218.4L619.7 217.3L619.9 214.7L620.0 215.7L620.1 218.7L620.3 218.1L620.4 217.2L620.6 216.8L620.7 215.9L620.9 214.0L621.0 214.0L621.2 214.6L621.3 216.4L621.5 215.6L621.6 215.2L621.8 213.9L621.9 213.4L622.1 213.3L622.2 213.5L622.4 214.1L622.5 213.4L622.7 214.6L622.8 214.9L623.0 215.8L623.1 215.6L623.3 216.2L623.4 216.3L623.6 217.6L623.7 216.5L623.9 216.0L624.0 215.9L624.2 215.5L624.3 217.6L624.5 217.1L624.6 218.5L624.7 218.5L624.9 216.8L625.0 217.3L625.2 216.6L625.3 216.1L625.5 218.0L625.6 218.4L625.8 218.6L625.9 218.3L626.1 217.6L626.2 217.0L626.4 218.4L626.5 218.7L626.7 218.4L626.8 219.4L627.0 217.9L627.1 218.2L627.3 217.9L627.4 217.4L627.6 217.3L627.7 217.4L627.9 217.5L628.0 217.4L628.2 217.8L628.3 218.5L628.5 219.5L628.7 219.6L628.8 219.0L629.0 220.0L629.1 217.4L629.3 218.4L629.4 217.3L629.6 219.2L629.7 221.8L629.9 221.2L630.0 222.9L630.2 224.2L630.3 223.6L630.5 225.2L630.6 225.3L630.8 225.7L630.9 225.6L631.1 224.6L631.2 223.5L631.4 225.1L631.5 224.7L631.7 223.8L631.8 223.2L632.0 222.9L632.1 223.1L632.3 224.7L632.4 224.0L632.6 222.4L632.7 222.0L632.9 222.2L633.0 222.3L633.2 222.3L633.3 221.9L633.5 221.3L633.6 222.6L633.7 222.3L633.9 221.8L634.0 221.6L634.2 222.6L634.3 223.4L634.5 223.5L634.6 220.4L634.8 220.4L634.9 220.4L635.1 219.8L635.2 219.1L635.4 219.0L635.5 219.5L635.7 219.8L635.8 219.2L636.0 216.8L636.1 216.8L636.3 217.0L636.4 218.1L636.6 218.9L636.7 217.2L636.9 217.8L637.0 215.9L637.2 215.1L637.3 217.2L637.5 215.1L637.6 214.6L637.8 214.2L637.9 213.5L638.1 213.9L638.2 214.6L638.3 213.4L638.5 214.0L638.6 211.9L638.8 211.3L638.9 211.5L639.1 211.4L639.2 212.3L639.4 212.8L639.5 212.6L639.7 212.7L639.8 211.8L640.0 211.8L640.1 212.8L640.3 210.4L640.4 210.4L640.6 210.5L640.7 212.1L640.9 211.1L641.0 210.6L641.2 209.3L641.3 210.8L641.5 211.3L641.6 212.0L641.8 212.0L641.9 211.0L642.1 210.4L642.2 209.1L642.4 208.3L642.5 209.0L642.7 208.6L642.8 208.8L642.9 207.0L643.1 206.5L643.2 206.8L643.4 207.7L643.5 206.2L643.7 206.0L643.8 205.7L644.0 207.7L644.1 208.7L644.3 208.7L644.4 208.2L644.6 207.3L644.7 208.3L644.9 208.7L645.0 207.5L645.2 206.0L645.3 205.6L645.5 206.7L645.6 206.8L645.8 205.5L645.9 206.8L646.1 207.6L646.2 206.4L646.4 205.7L646.5 206.4L646.7 204.7L646.8 204.8L647.0 206.0L647.1 205.1L647.3 204.0L647.4 202.2L647.5 201.6L647.7 200.9L647.8 199.5L648.0 199.6L648.1 200.6L648.3 199.7L648.4 200.4L648.6 200.1L648.7 200.6L648.9 201.8L649.0 201.2L649.2 199.8L649.3 201.3L649.5 200.5L649.6 200.0L649.8 200.4L649.9 200.5L650.1 200.2L650.2 199.8L650.4 200.0L650.5 201.2L650.7 201.7L650.8 201.7L651.0 201.6L651.1 200.7L651.3 200.5L651.4 198.5L651.6 199.1L651.7 198.7L651.8 198.4L652.0 198.6L652.1 198.5L652.3 198.3L652.4 197.7L652.6 197.7L652.7 197.6L652.9 197.3L653.0 197.4L653.2 198.0L653.3 199.5L653.5 199.6L653.6 198.6L653.8 197.9L653.9 196.9L654.1 195.1L654.2 194.5L654.4 195.2L654.5 194.4L654.7 194.7L654.8 195.9L655.0 195.3L655.1 195.8L655.3 194.9L655.4 194.9L655.6 196.0L655.7 195.8L655.9 195.9L656.0 194.4L656.2 193.3L656.3 194.1L656.5 193.9L656.7 193.9L656.8 191.6L657.0 191.6L657.1 191.7L657.3 191.7L657.4 191.6L657.6 191.7L657.7 191.7L657.9 191.6L658.0 191.7L658.2 193.2L658.3 193.5L658.5 193.6L658.6 193.3L658.8 193.9L658.9 192.1L659.1 191.5L659.2 191.4L659.4 190.6L659.5 191.5L659.7 192.2L659.8 192.7L660.0 191.7L660.2 192.4L660.3 190.4L660.5 190.4L660.6 190.9L660.8 188.9L660.9 189.7L661.1 189.6L661.2 190.4L661.4 190.0L661.5 189.6L661.7 188.7L661.8 189.1L662.0 188.7L662.1 188.6L662.3 188.7L662.4 189.9L662.6 190.5L662.7 189.3L662.9 189.1L663.0 190.1L663.2 190.1L663.3 189.4L663.5 188.4L663.7 188.9L663.8 190.8L664.0 190.9L664.1 190.9L664.3 191.0L664.4 190.2L664.6 190.5L664.7 190.9L664.9 190.8L665.0 190.7L665.2 190.7L665.3 190.9L665.5 190.8L665.6 191.0L665.8 189.2L665.9 189.8L666.1 188.3L666.2 188.6L666.4 188.6L666.5 188.8L666.7 187.4L666.8 187.8L667.0 188.2L667.1 187.3L667.3 187.9L667.4 188.6L667.6 187.7L667.7 186.9L667.9 187.4L668.0 187.7L668.2 186.9L668.3 186.7L668.5 188.0L668.6 188.2L668.8 186.3L668.9 188.5L669.1 187.4L669.2 188.6L669.4 187.3L669.5 187.1L669.7 187.3L669.8 187.5L670.0 187.2L670.1 187.8L670.2 186.4L670.4 187.1L670.5 186.3L670.7 186.0L670.8 186.5L671.0 185.1L671.1 185.9L671.3 185.5L671.4 185.5L671.6 184.2L671.7 182.9L671.9 182.1L672.0 181.7L672.2 181.3L672.3 181.6L672.5 180.5L672.6 178.8L672.8 179.7L672.9 175.6L673.1 174.2L673.2 179.4L673.4 172.3L673.5 174.2L673.7 173.9L673.8 174.0L674.0 172.2L674.1 170.9L674.3 171.1L674.4 170.8L674.5 170.8L674.7 171.6L674.8 173.4L675.0 174.5L675.1 170.9L675.3 171.0L675.4 171.1L675.6 173.3L675.7 172.2L675.8 175.8L676.0 174.8L676.1 177.7L676.3 179.7L676.4 179.7L676.6 178.3L676.7 176.7L676.9 176.2L677.0 176.9L677.2 178.0L677.3 179.7L677.5 178.1L677.7 175.7L677.8 175.7L678.0 175.7L678.1 175.8L678.3 176.6L678.4 176.4L678.6 176.8L678.7 176.4L678.9 177.9L679.0 177.5L679.1 177.4L679.3 179.5L679.4 179.8L679.6 180.0L679.7 180.0L679.9 178.4L680.0 177.2L680.2 177.5L680.3 178.4L680.5 176.0L680.6 175.8L680.8 176.1L680.9 177.4L681.1 177.8L681.2 178.3L681.4 178.8L681.5 178.4L681.7 178.3L681.8 179.4L682.0 178.7L682.1 179.3L682.3 179.8L682.4 179.5L682.6 179.3L682.7 179.9L682.9 180.1L683.0 179.3L683.2 176.9L683.3 179.2L683.5 179.3L683.6 178.5L683.7 177.6L683.9 177.8L684.0 178.4L684.2 178.1L684.3 177.6L684.5 177.3L684.6 178.2L684.8 178.8L684.9 179.1L685.1 179.2L685.2 179.4L685.4 180.6L685.5 180.2L685.7 180.0L685.8 181.1L686.0 181.5L686.1 181.8L686.3 181.9L686.4 181.6L686.6 182.1L686.7 181.6L686.9 181.1L687.0 181.1L687.2 181.0L687.3 181.8L687.5 181.4L687.6 181.1L687.8 181.4L687.9 180.3L688.1 181.8L688.2 182.0L688.4 181.6L688.5 180.7L688.7 180.8L688.8 183.7L689.0 184.3L689.1 181.6L689.3 180.3L689.5 182.5L689.6 184.2L689.8 185.7L689.9 185.5L690.1 187.1L690.2 185.3L690.4 185.9L690.5 187.0L690.7 187.0L690.8 186.8L691.0 185.1L691.1 184.0L691.3 185.8L691.4 183.3L691.6 180.8L691.7 183.0L691.9 180.0L692.0 182.8L692.2 180.7L692.3 179.6L692.5 179.7L692.6 181.9L692.8 182.4L692.9 180.2L693.1 178.8L693.2 177.8L693.4 177.8L693.5 177.8L693.7 178.1L693.8 179.1L694.0 179.3L694.1 180.1L694.3 181.4L694.4 180.3L694.6 180.4L694.7 180.9L694.9 182.7L695.0 181.3L695.2 182.3L695.3 180.5L695.5 181.7L695.6 183.0L695.8 181.9L695.9 181.0L696.1 181.8L696.2 181.0L696.4 180.0L696.5 181.2L696.7 180.9L696.8 181.2L697.0 180.7L697.1 179.9L697.3 179.5L697.4 180.5L697.5 180.4L697.7 181.7L697.8 181.7L698.0 182.8L698.1 180.6L698.3 181.3L698.4 182.1L698.6 182.4L698.7 181.9L698.9 180.7L699.0 179.6L699.2 180.0L699.4 180.1L699.5 180.0L699.7 178.2L699.8 177.2L700.0 178.1L700.2 178.4L700.3 177.4L700.5 181.1L700.6 177.6L700.8 179.4L700.9 181.5L701.1 182.8L701.2 184.2L701.4 185.3L701.5 184.0L701.7 184.8L701.8 186.0L702.0 185.0L702.1 184.7L702.3 184.8L702.4 184.4L702.6 184.4L702.7 185.4L702.9 186.3L703.0 186.4L703.2 186.4L703.3 186.5L703.5 186.5L703.6 185.8L703.8 185.1L703.9 183.7L704.1 184.1L704.2 183.5L704.4 182.4L704.5 184.1L704.7 183.2L704.9 185.7L705.0 184.9L705.2 185.7L705.3 187.0L705.5 184.8L705.6 187.4L705.8 188.1L705.9 188.2L706.1 188.3L706.2 187.3L706.4 187.1L706.5 187.6L706.7 188.4L706.8 188.8L706.9 190.2L707.1 188.7L707.2 187.9L707.4 189.5L707.5 188.0L707.7 189.9L707.8 190.2L708.0 189.5L708.1 190.5L708.3 191.4L708.4 190.4L708.6 190.8L708.7 192.0L708.9 192.1L709.0 191.8L709.2 192.1L709.3 191.0L709.5 193.3L709.6 187.3L709.8 187.7L709.9 189.5L710.1 186.2L710.2 186.3L710.4 188.7L710.5 186.3L710.7 185.5L710.8 185.0L711.0 183.8L711.1 183.5L711.3 183.1L711.4 184.2L711.6 181.7L711.7 184.2L711.9 183.6L712.0 183.6L712.2 182.0L712.3 183.0L712.5 182.4L712.6 182.5L712.8 183.0L712.9 182.2L713.1 182.5L713.2 181.5L713.3 180.8L713.5 180.5L713.6 179.7L713.8 179.7L713.9 180.6L714.1 179.1L714.2 179.0L714.4 177.6L714.5 176.2L714.7 175.5L714.8 175.6L715.0 175.3L715.1 175.4L715.3 175.5L715.4 175.5L715.6 175.5L715.7 175.3L715.9 175.2L716.0 175.5L716.2 175.3L716.3 175.3L716.5 175.3L716.6 176.7L716.7 176.8L716.9 175.5L717.0 175.5L717.2 176.7L717.3 176.5L717.5 176.4L717.6 175.8L717.8 176.2L717.9 175.7L718.1 174.7L718.2 174.0L718.4 175.2L718.5 171.0L718.7 173.5L718.8 171.5L719.0 170.3L719.1 170.8L719.3 170.7L719.4 170.7L719.6 172.1L719.7 171.6L719.9 172.7L720.0 171.9L720.1 172.1L720.3 171.7L720.4 172.0L720.6 171.0L720.7 170.6L720.9 170.4L721.0 170.5L721.2 172.3L721.3 171.9L721.5 172.7L721.6 173.7L721.8 174.0L721.9 175.3L722.1 175.1L722.2 175.1L722.4 176.6L722.5 175.8L722.6 177.7L722.8 179.5L722.9 180.8L723.1 181.5L723.2 181.1L723.4 181.2L723.5 181.6L723.6 180.6L723.8 179.8L723.9 179.6L724.1 177.3L724.2 177.5L724.4 177.1L724.5 177.3L724.7 177.8L724.8 178.2L725.0 176.6L725.1 176.9L725.3 178.6L725.4 178.2L725.6 177.0L725.7 175.1L725.9 174.8L726.0 172.9L726.2 172.1L726.3 172.8L726.5 174.6L726.6 172.8L726.8 172.8L726.9 172.8L727.1 171.3L727.2 170.7L727.4 169.6L727.5 171.6L727.7 172.0L727.8 171.7L728.0 171.5L728.1 171.2L728.3 170.4L728.4 170.1L728.6 172.1L728.7 171.2L728.9 169.6L729.0 171.7L729.2 170.8L729.3 170.7L729.5 172.5L729.6 172.4L729.8 174.6L729.9 171.8L730.0 171.3L730.2 171.4L730.3 173.9L730.5 174.7L730.6 176.6L730.8 175.0L730.9 176.3L731.1 175.4L731.2 176.0L731.4 176.1L731.5 177.7L731.7 177.5L731.8 177.9L732.0 181.2L732.1 179.9L732.2 184.0L732.4 183.0L732.5 183.6L732.7 183.6L732.8 183.2L733.0 184.4L733.1 184.0L733.3 183.8L733.4 183.4L733.5 179.5L733.7 180.4L733.8 182.5L734.0 177.0L734.1 176.9L734.3 178.1L734.4 179.5L734.6 180.2L734.7 179.8L734.9 174.3L735.0 175.6L735.2 176.1L735.3 176.7L735.5 174.9L735.6 175.1L735.8 175.8L735.9 174.7L736.1 174.1L736.2 173.8L736.4 175.1L736.5 174.2L736.7 173.9L736.8 173.4L737.0 173.3L737.1 173.8L737.3 173.4L737.4 175.4L737.6 173.4L737.7 172.7L737.9 171.1L738.0 172.1L738.2 172.8L738.3 171.0L738.5 169.9L738.7 174.0L738.8 172.0L739.0 168.9L739.1 170.5L739.3 169.5L739.4 169.8L739.6 169.5L739.7 169.4L739.9 168.1L740.0 168.4L740.1 167.5L740.3 166.5L740.4 167.1L740.6 168.2L740.7 167.8L740.9 169.2L741.0 168.3L741.2 170.1L741.3 167.6L741.5 168.0L741.6 168.0L741.8 166.8L741.9 166.4L742.1 167.6L742.2 168.1L742.3 167.1L742.5 167.0L742.6 167.0L742.8 166.9L742.9 167.5L743.1 168.5L743.2 168.1L743.3 167.3L743.5 167.6L743.6 168.2L743.8 164.1L743.9 167.1L744.1 166.8L744.2 167.6L744.4 163.3L744.5 162.9L744.7 164.4L744.8 162.6L745.0 162.9L745.1 161.6L745.3 161.4L745.4 164.3L745.6 161.6L745.7 159.8L745.9 159.2L746.0 160.2L746.2 157.8L746.3 159.1L746.5 156.7L746.6 159.2L746.8 158.6L746.9 162.1L747.1 158.1L747.2 156.5L747.4 158.9L747.5 157.9L747.7 158.1L747.8 158.5L748.0 157.6L748.1 156.6L748.2 157.6L748.4 158.4L748.5 156.5L748.7 156.5L748.8 156.6L749.0 156.4L749.1 156.3L749.3 162.6L749.4 164.3L749.6 164.4L749.8 164.3L749.9 164.4L750.1 164.3L750.2 164.3L750.4 164.3L750.5 164.3L750.7 162.1L750.8 163.2L751.0 162.8L751.1 162.4L751.3 164.9L751.4 167.8L751.5 168.4L751.7 168.7L751.8 165.0L752.0 166.2L752.1 170.7L752.3 167.9L752.4 173.9L752.6 171.2L752.7 171.8L752.9 171.8L753.0 176.5L753.2 186.8L753.3 182.1L753.5 184.5L753.6 191.3L753.8 203.0L753.9 200.2L754.1 211.3L754.2 211.3L754.4 211.3L754.5 211.1L754.7 224.6L754.9 225.8L755.0 225.6L755.2 216.4L755.3 209.6L755.5 202.6L755.6 217.2L755.8 205.2L755.9 205.7L756.0 205.7L756.2 203.2L756.3 193.8L756.5 194.4L756.6 197.2L756.8 198.7L756.9 198.7L757.1 195.1L757.3 198.4L757.4 196.8L757.6 196.1L757.7 198.5L757.9 198.1L758.0 198.1L758.2 188.8L758.3 184.5L758.5 186.1L758.6 186.5L758.8 187.7L758.9 189.6L759.1 185.1L759.2 185.2L759.4 187.0L759.5 189.6L759.7 189.6L759.8 189.5L760.0 189.7L760.1 189.7L760.3 188.4L760.4 189.0L760.6 185.0L760.7 182.7L760.9 179.1L761.0 173.6L761.2 176.0L761.3 177.3L761.5 180.2L761.6 183.6L761.8 180.7L761.9 178.6L762.1 175.7L762.2 175.8L762.4 175.2L762.5 174.1L762.7 166.6L762.8 167.6L763.0 167.4L763.1 167.4L763.3 166.7L763.4 167.3L763.6 166.7L763.7 166.7L763.9 166.7L764.1 166.9L764.2 166.6L764.4 167.5L764.5 166.9L764.7 167.6L764.8 169.6L765.0 168.2L765.1 169.3L765.3 168.5L765.4 168.8L765.6 169.8L765.7 166.9L765.9 166.3L766.0 163.9L766.2 165.2L766.3 162.2L766.5 161.3L766.6 161.6L766.8 162.4L766.9 161.4L767.1 162.8L767.2 163.4L767.4 163.2L767.5 163.0L767.7 162.6L767.8 162.8L768.0 162.1L768.1 161.5L768.3 162.7L768.4 161.8L768.6 161.8L768.7 163.8L768.9 162.8L769.0 163.7L769.2 163.9L769.3 163.0L769.5 163.8L769.6 163.9L769.8 163.7L769.9 161.3L770.1 160.9L770.2 161.8L770.4 163.5L770.5 164.0L770.7 163.9L770.8 163.9L771.0 162.8L771.1 162.7L771.3 162.4L771.4 163.5L771.6 163.9L771.7 162.1L771.9 160.5L772.0 162.2L772.2 161.8L772.3 165.2L772.5 167.3L772.6 166.0L772.8 167.6L772.9 166.9L773.0 171.8L773.2 169.2L773.3 170.5L773.5 169.9L773.6 165.8L773.8 164.6L773.9 164.4L774.1 166.7L774.3 163.2L774.4 162.4L774.6 166.4L774.7 164.7L774.9 164.3L775.0 164.7L775.2 164.6L775.3 164.9L775.5 164.9L775.6 164.9L775.7 164.9L775.9 164.8L776.0 161.4L776.2 163.1L776.3 164.0L776.5 164.1L776.7 163.9L776.8 167.3L777.0 164.3L777.1 172.8L777.3 172.8L777.4 170.7L777.6 167.2L777.7 168.9L777.9 160.6L778.0 157.3L778.2 166.0L778.3 157.4L778.5 157.2L778.7 155.5L778.8 148.8L779.0 150.1L779.1 148.6L779.3 149.2L779.4 147.1L779.6 148.1L779.7 146.6L779.9 148.7L780.0 144.9L780.2 145.7L780.3 138.1L780.5 139.2L780.6 138.8L780.8 139.7L780.9 140.0L781.1 138.0L781.2 139.1L781.4 137.1L781.5 136.8L781.7 134.4L781.8 131.5L782.0 134.1L782.1 134.4L782.3 134.9L782.4 135.9L782.6 134.0L782.7 132.8L782.8 135.6L783.0 132.3L783.1 131.4L783.3 129.3L783.4 130.0L783.6 128.6L783.7 128.5L783.9 130.2L784.0 129.2L784.2 128.5L784.3 129.6L784.5 130.3L784.6 130.8L784.8 128.2L784.9 128.3L785.1 129.1L785.2 128.1L785.4 128.3L785.5 128.2L785.7 128.5L785.8 129.2L786.0 133.2L786.1 134.5L786.3 134.7L786.4 134.8L786.6 134.7L786.7 134.4L786.9 134.5L787.0 134.0L787.2 134.2L787.3 131.8L787.5 127.5L787.6 130.0L787.8 128.4L787.9 128.7L788.1 129.6L788.2 128.3L788.4 129.4L788.5 130.0L788.7 129.0L788.8 129.3L789.0 131.3L789.1 130.6L789.3 131.4L789.4 130.0L789.6 131.9L789.7 130.1L789.9 130.9L790.0 131.3L790.2 132.5L790.3 131.5L790.5 130.7L790.7 130.1L790.8 130.7L791.0 129.7L791.1 131.0L791.3 131.4L791.4 131.4L791.6 130.1L791.7 126.7L791.8 127.2L792.0 127.4L792.1 127.7L792.3 128.6L792.4 129.1L792.6 130.2L792.7 130.5L792.9 128.5L793.0 127.1L793.2 126.3L793.3 126.4L793.5 126.2L793.6 125.5L793.8 124.2L793.9 124.2L794.1 123.4L794.2 123.6L794.4 121.4L794.5 121.2L794.7 120.8L794.8 121.3L795.0 119.4L795.1 123.5L795.3 123.4L795.4 121.8L795.6 120.2L795.7 118.2L795.9 119.3L796.0 119.2L796.2 117.8L796.3 118.8L796.4 119.4L796.6 118.5L796.7 117.7L796.9 118.4L797.0 118.6L797.2 118.5L797.3 117.4L797.5 118.5L797.6 116.9L797.8 114.2L797.9 115.9L798.1 117.5L798.2 116.1L798.4 117.6L798.5 113.8L798.7 113.5L798.8 113.5L799.0 111.4L799.1 112.7L799.3 113.7L799.4 112.8L799.6 112.0L799.7 111.9L799.9 113.5L800.0 113.3L800.2 112.1L800.3 114.5L800.5 115.6L800.6 116.1L800.8 117.7L800.9 117.5L801.0 117.4L801.2 118.3L801.3 118.1L801.5 117.0L801.6 115.9L801.8 117.2L801.9 117.3L802.1 118.1L802.2 118.0L802.4 117.9L802.5 115.9L802.7 116.2L802.8 117.0L803.0 115.8L803.1 115.6L803.3 115.7L803.5 115.1L803.6 115.6L803.8 114.5L803.9 114.1L804.1 113.6L804.2 113.8L804.4 113.7L804.5 114.8L804.7 114.0L804.8 114.7L805.0 116.0L805.1 116.5L805.3 116.2L805.4 117.3L805.6 116.0L805.7 113.8L805.9 113.7L806.0 115.4L806.2 116.3L806.3 115.8L806.5 115.3L806.6 117.7L806.8 119.4L806.9 119.7L807.1 120.1L807.2 119.4L807.4 118.4L807.5 117.1L807.7 120.7L807.8 120.1L808.0 117.9L808.1 119.3L808.3 117.4L808.5 118.4L808.6 116.4L808.8 114.1L808.9 111.9L809.1 112.3L809.2 112.5L809.4 113.6L809.5 113.5L809.7 113.3L809.8 116.8L810.0 115.3L810.1 116.6L810.3 118.5L810.4 117.4L810.6 119.7L810.8 119.4L810.9 121.2L811.1 121.1L811.2 120.9L811.4 119.0L811.5 118.4L811.7 119.4L811.8 119.3L812.0 120.1L812.1 120.2L812.3 119.0L812.4 118.9L812.6 120.6L812.7 120.3L812.9 121.1L813.0 120.7L813.2 119.3L813.3 116.3L813.5 115.4L813.6 112.1L813.8 115.3L813.9 113.0L814.1 113.1L814.2 111.7L814.4 113.1L814.5 112.3L814.6 111.3L814.8 110.3L814.9 110.7L815.1 110.6L815.2 110.0L815.4 110.5L815.5 112.2L815.7 111.7L815.8 112.5L816.0 115.5L816.1 116.1L816.3 115.9L816.4 114.4L816.6 112.5L816.7 110.1L816.9 113.1L817.0 114.3L817.2 114.4L817.3 115.8L817.5 115.0L817.6 115.0L817.8 115.0L817.9 117.0L818.1 116.5L818.2 118.7L818.4 117.9L818.5 116.8L818.7 114.7L818.8 113.4L819.0 114.8L819.1 115.8L819.3 113.7L819.4 113.6L819.6 116.2L819.7 116.8L819.9 113.9L820.0 113.2L820.2 111.9L820.3 113.8L820.5 111.9L820.7 112.1L820.8 111.8L821.0 113.7L821.1 114.5L821.3 112.7L821.4 112.6L821.6 114.4L821.7 112.5L821.9 112.1L822.0 113.7L822.2 115.5L822.3 113.8L822.5 115.9L822.6 115.1L822.8 115.9L822.9 113.1L823.1 114.1L823.2 113.9L823.4 113.4L823.5 115.2L823.7 115.7L823.8 115.9L824.0 115.9L824.1 115.9L824.3 114.2L824.4 115.9L824.6 115.3L824.7 120.1L824.9 117.8L825.1 119.4L825.2 117.2L825.4 117.1L825.5 114.1L825.7 117.7L825.8 118.9L826.0 119.7L826.1 119.1L826.3 120.2L826.4 120.9L826.6 122.0L826.7 121.6L826.8 121.2L827.0 124.4L827.1 123.1L827.3 126.5L827.4 128.4L827.6 130.5L827.7 130.0L827.9 132.0L828.0 129.5L828.2 126.9L828.3 126.8L828.4 132.7L828.6 132.8L828.7 127.0L828.9 131.5L829.0 124.3L829.2 127.5L829.3 114.1L829.5 116.3L829.6 118.0L829.8 116.6L829.9 116.1L830.1 112.3L830.2 113.9L830.4 114.4L830.5 114.2L830.7 116.0L830.8 119.2L831.0 123.1L831.1 119.4L831.3 124.8L831.4 124.9L831.6 123.5L831.7 124.1L831.9 124.9L832.0 124.9L832.2 124.7L832.3 124.9L832.5 124.7L832.6 123.8L832.8 123.8L833.0 124.9L833.1 129.0L833.3 126.7L833.4 124.6L833.6 125.8L833.7 126.4L833.9 125.3L834.0 131.0L834.2 131.4L834.3 132.6L834.5 132.5L834.6 131.7L834.8 133.5L834.9 134.1L835.1 133.8L835.2 128.4L835.4 129.4L835.5 128.4L835.7 127.2L835.9 129.5L836.0 127.5L836.2 124.1L836.3 123.3L836.5 125.0L836.6 129.2L836.8 131.0L836.9 133.5L837.1 132.7L837.2 133.1L837.4 138.0L837.5 138.6L837.7 136.5L837.8 138.6L838.0 138.6L838.1 138.9L838.3 137.9L838.4 141.9L838.6 141.9L838.7 142.7L838.9 142.2L839.0 142.4L839.2 140.5L839.4 139.2L839.5 139.9L839.7 140.2L839.8 139.9L840.0 143.2L840.1 143.3L840.3 144.5L840.4 143.1L840.6 144.6L840.7 143.7L840.9 142.0L841.0 142.8L841.2 141.0L841.3 140.1L841.5 139.8L841.6 143.0L841.8 143.2L841.9 140.9L842.0 137.7L842.2 135.6L842.3 131.3L842.5 132.9L842.6 135.1L842.8 133.7L842.9 132.1L843.1 131.6L843.2 132.3L843.4 132.6L843.5 134.0L843.7 134.3L843.8 136.5L844.0 137.4L844.1 137.6L844.3 139.7L844.4 139.7L844.6 139.5L844.7 139.6L844.9 139.5L845.0 138.3L845.2 138.1L845.3 138.0L845.5 138.9L845.6 137.7L845.7 138.7L845.9 137.2L846.0 140.4L846.2 140.6L846.3 144.9L846.5 146.2L846.6 144.0L846.8 143.6L846.9 146.1L847.0 145.7L847.2 148.0L847.3 148.8L847.5 148.8L847.7 150.1L847.8 151.1L848.0 151.6L848.1 151.8L848.3 153.1L848.4 153.3L848.6 150.9L848.7 153.2L848.9 153.1L849.0 156.4L849.2 156.4L849.3 155.7L849.5 155.2L849.6 154.1L849.8 152.5L849.9 152.3L850.1 148.0L850.2 152.2L850.4 149.7L850.5 152.8L850.7 150.9L850.8 150.3L851.0 149.7L851.2 149.9L851.3 147.3L851.5 145.2L851.6 145.6L851.8 146.0L851.9 141.7L852.1 141.2L852.2 138.2L852.4 132.2L852.5 132.1L852.7 132.6L852.8 132.1L853.0 132.9L853.1 134.0L853.3 134.6L853.4 134.7L853.6 133.1L853.7 132.5L853.9 132.8L854.0 133.7L854.2 133.5L854.3 129.1L854.5 127.0L854.6 130.0L854.8 128.1L854.9 128.0L855.1 127.2L855.2 125.3L855.4 125.9L855.5 125.3L855.7 125.4L855.8 125.4L856.0 126.3L856.1 125.2L856.3 125.8L856.4 125.4L856.6 126.2L856.7 126.1L856.9 126.0L857.0 125.2L857.2 126.6L857.3 125.3L857.5 127.3L857.6 127.2L857.8 125.6L857.9 127.3L858.1 128.4L858.2 128.0L858.4 124.7L858.5 124.4L858.7 122.6L858.8 124.5L859.0 125.5L859.1 124.0L859.3 126.0L859.4 125.5L859.6 120.2L859.7 120.0L859.9 123.0L860.0 126.1L860.1 121.8L860.3 118.2L860.4 115.5L860.6 117.7L860.7 116.9L860.9 117.4L861.0 117.4L861.2 118.8L861.3 118.9L861.5 120.7L861.6 119.0L861.8 118.0L861.9 115.8L862.1 118.3L862.2 118.2L862.4 117.7L862.5 116.5L862.7 120.7L862.8 120.8L863.0 121.1L863.1 121.1L863.3 121.6L863.4 121.0L863.6 122.0L863.7 122.1L863.9 122.7L864.0 123.6L864.2 122.2L864.3 124.1L864.5 122.6L864.6 124.9L864.8 129.2L864.9 127.2L865.1 125.6L865.2 125.2L865.4 124.7L865.5 127.0L865.7 127.8L865.8 129.1L866.0 126.8L866.1 125.0L866.3 126.9L866.4 123.3L866.6 123.2L866.7 125.6L866.9 124.1L867.0 120.9L867.2 122.3L867.3 123.7L867.5 120.5L867.7 120.8L867.8 120.1L868.0 121.3L868.1 119.5L868.3 120.2L868.4 119.8L868.6 119.8L868.7 118.1L868.9 120.2L869.0 120.7L869.1 118.5L869.3 118.2L869.4 118.7L869.6 117.7L869.7 118.5L869.9 117.5L870.0 119.0L870.2 118.2L870.3 118.8L870.5 119.9L870.6 119.6L870.8 118.8L870.9 118.6L871.1 118.7L871.2 119.8L871.4 119.6L871.5 119.7L871.7 118.6L871.8 119.5L872.0 119.6L872.1 119.6L872.3 119.3L872.4 119.1L872.6 118.8L872.7 117.2L872.9 117.2L873.0 117.3L873.2 116.8L873.3 115.7L873.5 116.2L873.6 115.7L873.7 115.3L873.9 114.5L874.1 114.7L874.2 115.6L874.4 114.5L874.5 116.1L874.7 116.1L874.8 117.0L875.0 115.9L875.1 115.3L875.3 116.4L875.4 116.9L875.6 116.5L875.7 117.3L875.9 117.9L876.0 116.8L876.2 117.4L876.3 115.8L876.5 113.6L876.6 114.4L876.8 114.9L876.9 111.8L877.1 112.7L877.2 113.1L877.4 112.9L877.5 114.0L877.7 113.0L877.8 110.6L878.0 113.3L878.1 114.8L878.2 116.2L878.4 114.7L878.5 112.5L878.7 110.8L878.8 111.0L879.0 111.8L879.1 114.0L879.3 113.3L879.4 114.4L879.6 114.1L879.7 115.4L879.9 118.2L880.0 119.7L880.2 118.5L880.3 115.0L880.5 114.6L880.6 117.7L880.8 119.7L880.9 118.7L881.1 119.2L881.2 119.6L881.4 119.7L881.5 119.1L881.7 117.3L881.8 117.7L882.0 117.5L882.1 117.8L882.3 117.3L882.4 116.7L882.6 116.7L882.7 116.7L882.9 116.4L883.0 115.5L883.2 116.2L883.3 118.1L883.5 117.6L883.6 117.3L883.8 116.5L883.9 116.6L884.1 116.6L884.2 118.1L884.4 118.7L884.5 118.0L884.7 118.0L884.8 118.6L885.0 121.4L885.1 120.9L885.3 121.5L885.4 121.3L885.6 121.4L885.7 121.2L885.9 121.6L886.0 122.3L886.2 120.6L886.3 122.6L886.5 122.1L886.6 121.9L886.8 121.9L886.9 123.5L887.1 122.1L887.2 124.5L887.4 122.3L887.5 123.7L887.7 124.3L887.8 123.2L888.0 123.0L888.1 123.5L888.3 124.7L888.4 124.9L888.6 125.8L888.7 125.5L888.9 122.7L889.0 123.9L889.2 123.0L889.3 122.2L889.5 118.2L889.7 119.1L889.8 122.1L890.0 122.5L890.1 120.8L890.3 117.4L890.4 116.9L890.6 116.7L890.7 116.4L890.9 118.7L891.0 118.2L891.2 118.0L891.3 117.5L891.5 118.0L891.6 117.8L891.8 117.3L891.9 118.2L892.0 117.3L892.2 116.6L892.3 114.1L892.5 112.3L892.6 114.4L892.8 113.3L892.9 111.8L893.1 111.5L893.2 111.7L893.4 111.7L893.5 111.3L893.7 111.7L893.8 111.9L894.0 110.9L894.1 110.3L894.3 108.9L894.5 106.3L894.6 107.9L894.8 107.2L894.9 108.4L895.1 108.1L895.2 106.9L895.4 106.5L895.5 105.5L895.7 104.7L895.8 106.5L896.0 106.0L896.1 107.8L896.3 110.1L896.4 111.0L896.6 110.6L896.7 113.7L896.9 113.6L897.0 113.6L897.2 113.8L897.3 112.1L897.5 110.2L897.7 111.1L897.8 110.1L898.0 107.9L898.1 108.9L898.3 108.7L898.4 109.8L898.6 109.4L898.7 110.9L898.9 110.2L899.0 110.3L899.2 110.6L899.3 108.0L899.5 106.6L899.6 106.2L899.8 106.7L899.9 106.7L900.1 106.1L900.2 107.0L900.4 106.4L900.5 105.2L900.7 106.9L900.8 106.0L900.9 105.3L901.1 104.1L901.2 102.3L901.4 102.1L901.5 103.0L901.7 103.1L901.8 103.7L902.0 104.0L902.1 100.8L902.3 101.3L902.4 101.0L902.6 101.6L902.7 100.1L902.9 99.8L903.0 100.4L903.2 102.3L903.3 101.4L903.5 100.1L903.6 100.9L903.8 100.9L903.9 102.2L904.1 101.8L904.2 101.7L904.4 102.3L904.5 102.9L904.7 101.7L904.8 101.3L905.0 100.6L905.1 100.0L905.3 100.9L905.4 100.7L905.6 101.1L905.7 102.7L905.9 103.4L906.0 105.8L906.2 102.1L906.3 105.1L906.5 104.5L906.6 105.2L906.8 106.6L906.9 105.3L907.1 104.6L907.2 103.7L907.4 103.8L907.5 101.8L907.7 102.2L907.8 102.8L908.0 103.4L908.1 105.1L908.3 105.8L908.4 106.4L908.6 106.2L908.8 105.1L908.9 103.0L909.1 99.9L909.2 98.3L909.4 100.2L909.5 99.4L909.7 99.4L909.8 100.2L910.0 100.1L910.1 98.6L910.2 98.3L910.4 97.9L910.5 98.2L910.7 98.4L910.8 98.6L911.0 98.4L911.1 98.6L911.3 98.3L911.4 97.8L911.6 97.9L911.7 97.9L911.9 98.4L912.0 99.0L912.2 98.8L912.3 98.7L912.5 97.5L912.6 97.5L912.8 96.9L912.9 96.3L913.1 98.4L913.2 98.0L913.4 96.4L913.5 95.8L913.7 94.8L913.8 94.9L914.0 95.7L914.1 94.7L914.3 92.8L914.4 95.9L914.5 97.5L914.7 91.8L914.8 91.6L915.0 93.5L915.1 92.8L915.3 93.2L915.4 92.9L915.6 93.8L915.7 94.9L915.9 94.7L916.0 95.6L916.2 97.4L916.3 99.1L916.5 97.8L916.6 100.1L916.8 100.5L916.9 101.3L917.1 102.4L917.2 103.2L917.4 101.8L917.5 103.9L917.7 105.0L917.8 102.5L918.0 103.0L918.1 104.9L918.3 104.0L918.4 104.9L918.6 104.7L918.7 104.7L918.9 99.6L919.0 100.5L919.2 100.8L919.3 99.9L919.5 100.6L919.6 98.0L919.8 94.4L919.9 93.7L920.1 92.6L920.2 92.6L920.4 92.0L920.5 91.0L920.7 90.3L920.8 90.0L921.0 85.9L921.1 84.0L921.3 85.1L921.4 85.0L921.6 83.8L921.7 84.0L921.9 83.8L922.0 83.9L922.2 85.7L922.3 83.9L922.5 83.7L922.6 84.0L922.8 83.9L922.9 84.9L923.1 84.9L923.2 84.9L923.4 85.1L923.5 86.6L923.6 87.4L923.8 87.5L923.9 86.3L924.1 85.4L924.2 86.0L924.4 87.2L924.5 86.6L924.7 88.0L924.8 89.3L925.0 88.9L925.1 88.1L925.3 89.1L925.4 88.8L925.6 87.6L925.7 88.9L925.9 88.8L926.0 89.7L926.2 89.5L926.3 89.7L926.5 90.3L926.6 91.2L926.8 89.1L926.9 89.4L927.1 90.5L927.2 90.1L927.4 90.6L927.5 89.4L927.7 90.6L927.8 90.4L928.0 91.5L928.1 93.8L928.2 93.8L928.4 91.4L928.5 92.2L928.7 94.7L928.8 93.9L929.0 96.0L929.1 96.6L929.3 96.3L929.4 96.6L929.6 95.3L929.7 96.6L929.9 96.5L930.1 94.5L930.2 94.3L930.4 94.8L930.5 94.7L930.7 93.4L930.8 94.7L931.0 93.1L931.1 93.3L931.3 93.1L931.4 93.6L931.6 92.8L931.7 95.0L931.9 95.2L932.0 93.9L932.2 97.6L932.3 98.2L932.5 99.7L932.6 101.2L932.8 99.5L932.9 99.4L933.1 101.7L933.2 102.0L933.4 100.5L933.5 101.1L933.7 102.0L933.8 101.9L934.0 101.9L934.1 102.1L934.3 102.0L934.4 101.0L934.6 100.4L934.7 99.5L934.9 97.2L935.0 96.8L935.2 96.0L935.3 95.3L935.5 95.3L935.6 92.6L935.8 93.1L935.9 93.6L936.1 92.6L936.2 91.5L936.4 91.3L936.5 91.4L936.7 93.9L936.8 91.4L937.0 91.0L937.1 89.7L937.3 91.9L937.4 91.2L937.6 93.0L937.7 92.6L937.9 90.6L938.0 89.1L938.2 90.2L938.3 90.9L938.5 88.8L938.6 89.6L938.8 88.6L938.9 89.8L939.1 87.6L939.2 87.6L939.4 87.7L939.5 91.7L939.7 91.3L939.8 91.6L940.0 91.3L940.1 90.7L940.3 92.2L940.4 91.0L940.6 89.9L940.7 89.8L940.8 87.4L941.0 89.8L941.1 89.7L941.3 88.9L941.4 87.8L941.6 87.2L941.7 86.7L941.8 86.6L942.0 86.7L942.1 86.8L942.3 90.3L942.4 98.5L942.6 107.0L942.7 103.9L942.9 104.3L943.1 99.5L943.2 97.3L943.4 96.6L943.5 98.1L943.7 99.3L943.8 91.7L944.0 92.5L944.1 99.1L944.3 99.6L944.4 88.6L944.6 95.1L944.7 85.2L944.9 84.3L945.0 83.5L945.2 80.7L945.3 81.3L945.5 80.9L945.6 80.1L945.8 79.5L945.9 76.6L946.1 78.7L946.2 78.7L946.4 81.3L946.5 81.6L946.7 80.9L946.8 78.5L947.0 77.3L947.1 77.6L947.3 79.1L947.4 76.8L947.6 75.5L947.7 75.6L947.9 76.1L948.0 74.8L948.2 77.0L948.3 74.2L948.4 74.8L948.6 75.7L948.7 72.5L948.9 75.6L949.0 74.2L949.2 74.6L949.3 73.6L949.5 70.9L949.6 73.2L949.8 73.5L949.9 73.6L950.1 72.8L950.2 71.4L950.4 69.4L950.5 68.2L950.7 69.8L950.8 71.5L951.0 67.2L951.1 66.1L951.3 68.0L951.4 66.8L951.6 66.3L951.7 66.4L951.9 66.3L952.0 66.2L952.2 66.2L952.3 68.1L952.4 67.4L952.6 67.9L952.8 65.9L952.9 65.0L953.0 66.1L953.2 66.0L953.4 67.1L953.5 68.2L953.6 65.6L953.8 65.4L954.0 64.1L954.1 61.6L954.2 61.3L954.4 63.1L954.5 64.5L954.7 64.9L954.9 65.4L955.0 65.9L955.1 64.6L955.3 64.4L955.5 63.5L955.6 64.0L955.8 64.5L955.9 64.4L956.1 63.0L956.2 62.7L956.3 61.8L956.5 61.5L956.6 60.6L956.8 60.8L956.9 61.6L957.1 63.1L957.2 61.1L957.4 60.6L957.5 59.8L957.7 60.5L957.8 58.5L958.0 59.7L958.1 57.5L958.3 57.1L958.4 56.8L958.6 58.2L958.7 57.8L958.9 59.9L959.0 59.2L959.2 59.2L959.3 58.1L959.5 57.7L959.6 56.3" stroke="#de8f05" stroke-width="1.39"/>
<path d="M113.6 529.1L113.8 527.9L113.9 529.6L114.1 529.7L114.2 528.7L114.3 528.0L114.5 527.3L114.6 532.1L114.8 531.3L114.9 532.9L115.1 531.5L115.2 534.7L115.3 535.0L115.5 533.3L115.6 534.5L115.8 534.0L115.9 532.9L116.1 533.6L116.3 537.2L116.4 535.7L116.6 538.4L116.7 539.3L116.9 540.4L117.0 540.8L117.2 539.9L117.4 541.9L117.5 541.4L117.6 541.2L117.8 541.2L117.9 540.5L118.1 539.9L118.2 539.8L118.4 542.6L118.5 544.9L118.6 544.4L118.8 543.1L118.9 544.6L119.1 546.9L119.3 546.3L119.4 543.5L119.6 543.6L119.7 545.6L119.9 545.5L120.0 544.3L120.2 544.0L120.3 544.0L120.5 544.3L120.6 544.3L120.8 545.4L120.9 543.3L121.1 544.5L121.2 540.2L121.4 544.0L121.5 544.8L121.7 543.0L121.8 543.2L122.0 540.6L122.1 539.4L122.2 542.1L122.4 542.1L122.5 535.6L122.7 537.0L122.8 533.2L123.0 533.0L123.1 532.4L123.3 533.3L123.4 530.7L123.6 531.4L123.8 532.3L123.9 532.6L124.1 530.5L124.2 530.8L124.4 530.0L124.5 530.7L124.7 532.3L124.8 531.6L125.0 530.8L125.2 530.4L125.3 531.8L125.5 530.6L125.6 531.0L125.8 529.7L125.9 530.1L126.1 528.1L126.2 528.6L126.4 526.7L126.5 527.0L126.7 526.8L126.8 526.0L127.0 525.3L127.2 525.8L127.3 525.1L127.5 524.3L127.6 524.3L127.8 524.9L127.9 525.0L128.1 523.2L128.2 522.0L128.4 522.5L128.6 522.7L128.7 523.6L128.9 523.6L129.0 523.7L129.1 523.1L129.3 519.8L129.4 519.0L129.6 518.2L129.7 519.1L129.9 518.5L130.0 518.8L130.2 518.5L130.3 518.9L130.5 518.5L130.6 517.8L130.8 517.0L130.9 516.9L131.1 517.3L131.2 516.8L131.4 518.6L131.6 516.9L131.7 516.9L131.9 517.1L132.0 517.5L132.2 517.6L132.3 517.3L132.5 518.1L132.6 518.1L132.8 517.9L132.9 518.9L133.1 518.9L133.2 518.1L133.4 515.6L133.5 517.5L133.7 515.8L133.8 517.8L134.0 517.1L134.1 515.2L134.3 515.1L134.4 516.7L134.6 516.0L134.7 515.5L134.9 515.5L135.0 515.2L135.2 515.2L135.3 515.7L135.5 516.0L135.6 516.5L135.8 515.2L135.9 515.6L136.1 514.7L136.2 513.7L136.4 511.8L136.5 511.1L136.7 512.2L136.8 511.5L137.0 511.1L137.1 512.9L137.3 514.8L137.4 513.5L137.6 514.1L137.7 513.1L137.9 511.5L138.0 513.1L138.2 512.3L138.3 513.2L138.5 513.4L138.7 512.1L138.8 512.9L139.0 513.7L139.1 512.9L139.3 512.2L139.4 511.0L139.6 510.9L139.7 510.9L139.9 510.5L140.0 509.7L140.2 510.0L140.3 510.4L140.5 511.3L140.6 510.7L140.8 510.5L140.9 508.5L141.1 509.2L141.2 509.2L141.4 510.8L141.5 509.6L141.7 509.3L141.8 508.9L142.0 510.3L142.1 509.1L142.3 507.9L142.4 508.7L142.6 508.0L142.7 509.7L142.8 509.1L143.0 509.5L143.1 508.3L143.3 508.7L143.4 507.1L143.6 508.3L143.7 508.6L143.9 507.0L144.0 507.7L144.2 506.2L144.3 504.6L144.5 505.1L144.6 504.6L144.8 505.6L144.9 505.6L145.1 504.2L145.2 505.5L145.4 505.8L145.5 504.3L145.7 504.6L145.8 504.5L146.0 505.3L146.1 504.1L146.3 504.2L146.4 504.3L146.6 504.1L146.7 504.8L146.9 504.6L147.0 504.9L147.2 504.9L147.3 505.0L147.5 504.9L147.6 505.9L147.8 505.5L147.9 505.4L148.1 504.9L148.2 506.1L148.4 503.8L148.5 501.4L148.7 502.9L148.8 504.4L149.0 504.2L149.1 503.4L149.3 502.7L149.4 502.0L149.6 499.6L149.7 498.5L149.9 496.5L150.0 497.0L150.2 496.9L150.3 496.8L150.5 498.9L150.6 496.4L150.8 495.4L150.9 495.4L151.1 496.3L151.2 497.4L151.4 497.5L151.5 498.7L151.7 496.5L151.8 497.1L152.0 498.0L152.1 498.8L152.3 498.0L152.4 496.7L152.6 497.3L152.7 496.5L152.9 496.5L153.0 496.7L153.2 497.1L153.3 495.5L153.5 495.4L153.6 495.7L153.8 495.8L153.9 495.9L154.1 495.8L154.2 495.9L154.4 495.3L154.5 495.2L154.7 496.6L154.8 495.6L155.0 493.3L155.1 493.4L155.3 492.5L155.4 492.7L155.6 493.0L155.7 492.4L155.9 492.4L156.0 492.5L156.2 492.2L156.3 492.4L156.5 493.1L156.6 492.3L156.8 492.4L156.9 492.8L157.1 493.2L157.2 494.0L157.4 494.0L157.5 493.3L157.7 494.1L157.8 493.5L158.0 494.7L158.1 495.5L158.3 500.4L158.4 496.7L158.6 496.7L158.7 496.4L158.9 499.6L159.0 500.4L159.2 498.9L159.3 499.4L159.5 499.3L159.6 498.7L159.8 498.8L159.9 497.0L160.1 496.9L160.2 496.2L160.4 495.3L160.5 497.4L160.7 497.7L160.8 497.3L161.0 496.4L161.1 496.6L161.3 495.6L161.4 494.4L161.6 495.1L161.7 494.9L161.9 493.9L162.0 494.6L162.2 494.3L162.3 494.2L162.5 495.5L162.6 495.9L162.8 495.7L162.9 494.8L163.1 496.8L163.2 498.2L163.4 497.0L163.5 496.9L163.6 496.6L163.8 496.9L163.9 495.4L164.1 496.1L164.2 495.1L164.4 497.6L164.5 497.6L164.7 499.1L164.8 499.7L165.0 500.3L165.1 500.1L165.3 500.3L165.4 500.2L165.6 500.9L165.7 500.4L165.9 500.4L166.0 500.3L166.2 499.6L166.3 497.2L166.5 496.5L166.7 497.7L166.8 496.8L167.0 494.7L167.1 496.6L167.3 495.9L167.4 495.2L167.6 494.9L167.7 495.0L167.9 494.7L168.0 494.8L168.2 496.8L168.3 496.9L168.5 496.4L168.6 496.6L168.8 496.5L168.9 497.2L169.1 496.1L169.2 495.7L169.4 495.6L169.5 496.6L169.7 497.8L169.8 497.8L170.0 497.7L170.1 497.7L170.3 496.3L170.4 495.0L170.6 495.3L170.7 496.7L170.9 496.4L171.0 496.1L171.2 496.6L171.3 496.5L171.5 497.2L171.6 498.2L171.8 498.1L171.9 497.5L172.1 499.3L172.2 501.1L172.4 500.4L172.5 501.8L172.7 500.7L172.8 500.3L173.0 501.5L173.1 502.4L173.3 502.2L173.4 503.2L173.6 502.4L173.7 501.1L173.9 502.6L174.0 504.1L174.2 503.0L174.3 503.2L174.5 503.4L174.6 502.9L174.8 503.9L174.9 502.7L175.1 504.1L175.2 501.1L175.4 500.0L175.5 501.0L175.7 499.7L175.8 498.3L176.0 499.3L176.1 499.3L176.3 497.7L176.4 497.1L176.6 497.1L176.7 494.3L176.9 495.0L177.0 497.6L177.2 497.9L177.3 494.6L177.5 494.3L177.6 494.3L177.8 494.4L177.9 495.4L178.1 498.1L178.2 495.9L178.4 494.8L178.5 495.2L178.7 494.6L178.8 495.5L179.0 494.9L179.1 494.2L179.3 494.0L179.4 495.3L179.6 495.0L179.7 495.1L179.9 493.4L180.0 493.3L180.2 494.5L180.3 494.1L180.5 494.6L180.6 495.6L180.8 495.3L180.9 495.3L181.1 493.0L181.2 492.3L181.4 492.5L181.5 491.6L181.7 492.6L181.8 490.5L182.0 491.1L182.1 492.7L182.3 490.4L182.4 491.6L182.6 491.4L182.7 490.5L182.9 490.6L183.0 489.9L183.2 489.0L183.3 487.3L183.5 488.2L183.6 488.0L183.8 487.7L183.9 488.1L184.1 486.6L184.2 488.1L184.4 488.3L184.5 487.7L184.7 486.7L184.8 487.2L185.0 487.5L185.1 488.6L185.3 488.5L185.4 487.5L185.6 487.2L185.7 487.4L185.9 487.6L186.0 488.4L186.2 488.7L186.3 488.4L186.5 488.5L186.6 488.1L186.8 486.5L186.9 485.5L187.1 485.3L187.2 485.7L187.4 485.7L187.5 485.4L187.7 486.2L187.8 485.8L188.0 486.2L188.1 485.4L188.3 486.5L188.4 486.6L188.6 485.6L188.7 486.7L188.9 487.6L189.0 486.4L189.2 487.5L189.3 487.1L189.5 487.0L189.6 487.4L189.8 487.7L189.9 485.6L190.1 483.2L190.2 483.1L190.4 483.7L190.5 486.8L190.7 487.5L190.8 485.4L190.9 486.0L191.1 484.0L191.2 482.9L191.4 485.0L191.5 485.4L191.7 484.9L191.8 486.2L192.0 484.3L192.1 483.7L192.3 483.2L192.4 482.9L192.6 482.7L192.7 482.0L192.9 482.3L193.0 482.7L193.2 483.6L193.3 483.8L193.5 482.1L193.6 481.7L193.8 483.9L193.9 483.6L194.1 483.3L194.2 482.3L194.4 482.3L194.5 482.6L194.7 482.7L194.8 482.9L195.0 482.1L195.1 482.4L195.3 482.4L195.4 482.9L195.6 482.7L195.7 481.8L195.9 481.5L196.0 481.3L196.2 483.2L196.3 483.4L196.5 484.8L196.6 485.4L196.8 484.2L196.9 484.5L197.1 484.8L197.2 485.1L197.4 484.7L197.5 483.5L197.7 485.6L197.8 488.7L198.0 487.6L198.1 487.6L198.3 489.1L198.4 490.1L198.6 489.2L198.7 490.4L198.9 490.1L199.0 489.4L199.2 490.1L199.3 489.5L199.5 489.5L199.6 490.4L199.8 490.3L199.9 491.0L200.1 490.4L200.2 491.0L200.4 491.6L200.5 491.1L200.7 490.2L200.8 488.8L201.0 490.4L201.1 489.5L201.3 491.3L201.4 490.5L201.6 490.0L201.7 491.5L201.9 489.4L202.0 489.3L202.2 487.8L202.3 486.8L202.5 486.6L202.6 485.6L202.8 485.8L202.9 486.6L203.1 485.3L203.2 485.7L203.4 486.5L203.5 486.8L203.7 485.5L203.8 486.2L204.0 486.9L204.1 485.4L204.3 487.0L204.4 487.6L204.6 487.9L204.7 486.9L204.9 486.5L205.0 486.3L205.2 485.5L205.3 486.5L205.5 485.9L205.6 486.8L205.8 484.0L205.9 482.2L206.1 481.7L206.2 481.5L206.4 481.2L206.5 483.3L206.7 482.5L206.8 482.0L207.0 481.9L207.1 481.4L207.3 482.3L207.4 480.2L207.6 480.6L207.7 481.9L207.9 480.8L208.0 480.7L208.2 481.4L208.4 479.0L208.5 479.5L208.7 478.1L208.8 477.9L209.0 477.4L209.1 477.9L209.2 478.6L209.4 479.0L209.5 478.9L209.7 478.4L209.8 477.5L210.0 477.3L210.1 476.8L210.3 477.3L210.4 477.4L210.6 479.6L210.7 479.2L210.9 479.6L211.0 479.5L211.2 479.6L211.3 479.5L211.5 479.5L211.6 479.7L211.8 479.7L211.9 479.5L212.1 479.6L212.2 479.8L212.4 479.8L212.5 479.6L212.7 479.1L212.8 478.6L213.0 478.3L213.1 477.6L213.3 476.4L213.4 476.4L213.6 476.5L213.7 476.8L213.8 478.1L214.0 476.8L214.1 477.0L214.3 477.9L214.4 478.3L214.6 477.9L214.7 477.8L214.9 478.5L215.0 477.0L215.2 476.8L215.3 476.5L215.5 479.2L215.6 479.6L215.8 478.2L215.9 478.7L216.1 479.9L216.2 479.4L216.4 478.0L216.5 478.2L216.7 481.1L216.8 480.7L217.0 479.8L217.1 480.4L217.3 479.7L217.4 480.9L217.6 482.1L217.7 481.4L217.9 482.6L218.0 483.5L218.2 484.4L218.3 484.1L218.4 483.2L218.6 481.5L218.7 484.0L218.9 483.8L219.0 483.2L219.2 482.5L219.3 482.3L219.5 481.7L219.6 482.9L219.8 481.6L219.9 481.7L220.1 481.2L220.2 479.9L220.4 480.3L220.5 480.3L220.7 478.8L220.8 478.5L221.0 478.3L221.2 475.5L221.3 474.4L221.5 475.2L221.6 476.4L221.8 476.6L221.9 474.7L222.1 474.5L222.2 474.6L222.4 475.1L222.5 475.6L222.7 476.1L222.8 475.1L222.9 475.2L223.1 475.9L223.2 475.2L223.4 473.7L223.5 473.8L223.7 475.0L223.8 474.7L224.0 474.0L224.1 474.5L224.3 475.0L224.4 473.0L224.6 472.9L224.7 472.4L224.9 471.5L225.0 475.5L225.2 476.7L225.3 476.5L225.5 476.1L225.6 476.6L225.8 476.6L225.9 476.8L226.1 476.7L226.2 476.3L226.4 476.0L226.5 474.6L226.7 474.4L226.8 475.0L227.0 474.9L227.1 475.7L227.3 474.6L227.4 473.5L227.6 475.1L227.7 475.1L227.9 474.8L228.0 473.7L228.2 472.9L228.3 473.3L228.5 474.1L228.6 473.9L228.8 475.5L228.9 476.3L229.1 476.1L229.2 473.6L229.4 472.8L229.5 474.1L229.7 474.2L229.8 473.4L230.0 472.6L230.1 472.9L230.3 472.5L230.4 471.9L230.6 471.5L230.7 472.0L230.9 472.8L231.0 472.8L231.2 472.7L231.3 472.9L231.5 472.6L231.6 472.7L231.8 472.8L231.9 471.8L232.1 472.0L232.2 471.8L232.4 470.9L232.5 471.7L232.7 470.1L232.8 471.0L233.0 471.9L233.1 472.1L233.3 472.6L233.4 471.3L233.5 471.0L233.7 470.0L233.8 469.3L234.0 469.8L234.1 469.8L234.3 471.6L234.4 471.3L234.6 470.6L234.7 470.5L234.9 470.7L235.0 472.1L235.2 472.2L235.3 470.1L235.5 469.8L235.6 469.1L235.8 469.0L235.9 469.4L236.1 469.9L236.2 470.7L236.4 471.4L236.5 470.5L236.7 471.3L236.8 470.4L237.0 471.5L237.1 471.3L237.3 470.1L237.4 470.3L237.6 468.7L237.7 469.2L237.9 468.8L238.0 468.5L238.2 467.8L238.3 468.0L238.5 467.4L238.6 468.3L238.8 468.6L238.9 467.7L239.1 468.7L239.2 469.4L239.4 470.0L239.5 470.4L239.7 470.0L239.8 472.0L240.0 472.4L240.2 471.9L240.3 473.1L240.5 472.0L240.6 471.2L240.8 471.3L240.9 472.0L241.1 473.6L241.2 474.5L241.4 472.8L241.5 474.0L241.7 472.1L241.8 471.5L242.0 473.2L242.1 475.7L242.3 475.2L242.4 474.9L242.6 476.7L242.7 476.0L242.9 476.7L243.0 475.7L243.2 476.5L243.3 475.8L243.5 475.8L243.6 476.6L243.8 476.7L243.9 476.7L244.1 475.7L244.2 476.7L244.4 474.6L244.5 475.4L244.7 475.3L244.8 475.3L245.0 475.2L245.1 473.2L245.3 473.6L245.4 472.9L245.6 472.4L245.7 473.5L245.9 475.1L246.0 474.6L246.2 473.7L246.3 473.6L246.5 475.2L246.6 476.7L246.8 475.9L246.9 474.0L247.1 475.7L247.2 474.8L247.4 473.9L247.5 473.4L247.7 473.0L247.8 472.5L248.0 470.6L248.1 472.0L248.3 471.4L248.4 471.9L248.6 473.0L248.7 473.3L248.9 472.1L249.0 471.6L249.2 471.2L249.3 471.9L249.5 470.8L249.6 471.3L249.7 471.4L249.9 470.5L250.0 471.1L250.2 470.3L250.3 470.2L250.5 470.4L250.6 469.7L250.8 469.2L250.9 470.0L251.1 470.6L251.2 469.2L251.4 470.5L251.5 469.8L251.7 469.5L251.8 469.2L252.0 470.1L252.1 468.5L252.3 468.6L252.4 468.0L252.6 468.2L252.7 467.1L252.9 467.2L253.0 466.4L253.2 464.8L253.3 465.0L253.5 464.3L253.6 463.6L253.8 464.3L253.9 463.3L254.1 463.6L254.2 464.4L254.4 463.2L254.5 462.6L254.7 462.7L254.8 460.8L255.0 461.4L255.1 461.3L255.3 460.7L255.4 462.6L255.6 460.0L255.7 461.9L255.9 461.6L256.0 461.3L256.2 462.1L256.3 462.4L256.5 463.8L256.6 461.0L256.8 460.8L256.9 460.4L257.1 458.6L257.2 458.6L257.4 458.9L257.5 459.5L257.7 459.1L257.8 459.5L258.0 459.4L258.1 459.2L258.3 460.4L258.4 459.8L258.6 459.0L258.7 459.6L258.9 459.1L259.0 459.3L259.2 460.7L259.3 460.8L259.5 460.9L259.6 460.9L259.8 461.0L259.9 460.3L260.1 459.8L260.2 458.5L260.4 459.9L260.5 459.3L260.7 458.4L260.8 458.6L261.0 459.5L261.1 459.9L261.3 459.7L261.4 460.3L261.6 460.1L261.7 459.5L261.9 458.0L262.0 458.0L262.2 459.7L262.3 459.1L262.5 459.4L262.6 459.7L262.8 458.6L262.9 458.2L263.1 457.3L263.2 456.8L263.4 456.9L263.5 456.7L263.7 456.3L263.8 456.0L264.0 455.9L264.1 455.2L264.3 455.5L264.4 455.1L264.6 454.2L264.7 452.4L264.9 452.0L265.0 452.5L265.2 453.0L265.3 453.5L265.5 452.4L265.6 452.9L265.8 452.3L265.9 453.0L266.1 451.8L266.2 451.9L266.4 451.7L266.5 451.6L266.7 451.8L266.8 451.8L267.0 451.7L267.1 451.8L267.3 451.8L267.4 451.8L267.6 451.8L267.7 451.9L267.9 452.5L268.0 453.1L268.2 453.4L268.3 452.7L268.4 453.7L268.6 453.2L268.7 453.8L268.9 453.6L269.0 451.6L269.2 452.8L269.3 458.5L269.4 459.8L269.6 458.9L269.7 459.2L269.9 457.8L270.0 458.2L270.2 457.3L270.3 458.7L270.5 458.7L270.6 457.5L270.8 457.2L270.9 456.5L271.1 454.8L271.2 455.9L271.4 456.7L271.5 456.6L271.7 456.1L271.8 453.1L272.0 452.9L272.1 452.0L272.3 450.9L272.4 451.0L272.6 450.7L272.7 452.6L272.9 449.9L273.0 450.6L273.2 452.1L273.4 450.9L273.5 452.2L273.7 451.9L273.8 452.0L274.0 450.3L274.1 450.6L274.3 449.4L274.4 450.6L274.6 451.1L274.7 449.8L274.9 449.8L275.0 448.4L275.2 448.6L275.3 447.7L275.5 446.7L275.6 447.6L275.8 448.0L275.9 447.7L276.1 447.5L276.2 446.2L276.4 445.8L276.5 445.4L276.7 446.4L276.8 446.1L277.0 447.3L277.1 447.5L277.3 448.8L277.4 448.9L277.6 449.0L277.7 449.0L277.9 448.2L278.0 448.2L278.2 448.6L278.3 448.3L278.5 447.7L278.6 447.4L278.8 448.2L278.9 447.3L279.1 446.8L279.2 445.9L279.4 446.8L279.5 447.2L279.7 447.3L279.8 446.7L280.0 447.5L280.1 446.7L280.3 446.3L280.4 445.7L280.6 445.4L280.7 447.2L280.9 447.8L281.0 444.5L281.2 444.5L281.3 445.7L281.5 445.8L281.6 444.8L281.8 444.9L281.9 444.0L282.1 442.5L282.2 442.6L282.4 443.9L282.5 444.8L282.7 445.5L282.8 446.0L283.0 448.4L283.1 447.9L283.3 449.4L283.4 449.3L283.6 448.9L283.7 447.2L283.9 448.8L284.0 449.0L284.2 449.1L284.3 453.1L284.5 452.3L284.6 452.5L284.8 449.4L284.9 452.7L285.1 453.8L285.2 453.4L285.4 454.1L285.5 453.9L285.7 453.7L285.8 453.8L286.0 452.7L286.2 450.1L286.3 450.5L286.5 452.3L286.6 453.0L286.8 453.0L286.9 451.9L287.1 452.9L287.2 451.2L287.4 450.9L287.5 451.1L287.7 449.7L287.8 449.6L288.0 451.3L288.1 450.0L288.3 450.1L288.4 447.3L288.6 446.7L288.7 446.5L288.9 446.6L289.1 447.0L289.2 447.7L289.3 447.8L289.5 447.6L289.6 447.8L289.8 445.9L289.9 447.8L290.1 447.6L290.2 445.5L290.4 446.9L290.5 447.4L290.7 447.8L290.8 447.1L291.0 443.2L291.1 443.0L291.3 443.8L291.4 443.3L291.6 442.4L291.7 441.3L291.9 439.4L292.0 440.4L292.2 441.5L292.3 443.7L292.5 445.9L292.6 445.1L292.8 444.8L292.9 444.6L293.1 444.5L293.2 445.6L293.4 445.0L293.5 442.7L293.7 445.9L293.8 445.2L294.0 445.1L294.2 446.2L294.3 449.4L294.5 448.7L294.6 450.3L294.8 447.6L294.9 449.4L295.1 448.8L295.2 448.5L295.4 450.0L295.5 449.3L295.7 451.8L295.8 452.9L296.0 450.8L296.1 450.6L296.3 452.8L296.4 451.4L296.6 452.9L296.7 452.6L296.9 451.0L297.0 449.0L297.2 451.7L297.3 444.6L297.5 447.6L297.6 448.7L297.8 447.8L297.9 449.0L298.1 445.6L298.2 444.0L298.4 443.2L298.5 442.5L298.7 442.4L298.8 442.5L299.0 446.0L299.1 443.9L299.3 445.7L299.4 446.7L299.6 447.8L299.7 448.6L299.9 449.8L300.0 448.3L300.2 449.9L300.3 450.6L300.5 450.9L300.6 448.8L300.8 451.1L300.9 453.0L301.1 453.5L301.2 453.2L301.4 459.6L301.5 458.7L301.7 459.6L301.9 455.2L302.0 457.9L302.2 457.9L302.3 457.5L302.5 457.1L302.6 459.2L302.8 456.1L302.9 457.3L303.1 457.5L303.2 457.2L303.4 458.0L303.5 458.4L303.7 457.3L303.8 456.1L304.0 454.5L304.1 455.6L304.3 453.6L304.4 452.4L304.6 454.8L304.7 453.8L304.9 452.5L305.0 454.3L305.2 455.2L305.3 452.7L305.5 452.5L305.6 453.0L305.8 454.5L305.9 455.1L306.1 456.5L306.2 458.0L306.4 459.4L306.5 455.8L306.7 459.1L306.8 461.2L307.0 461.6L307.1 461.8L307.3 461.1L307.4 459.6L307.6 457.6L307.7 454.3L307.9 455.6L308.0 458.4L308.2 456.4L308.3 455.5L308.5 456.5L308.6 454.9L308.8 453.5L308.9 454.4L309.1 456.8L309.2 457.0L309.4 455.1L309.5 455.3L309.7 454.3L309.8 451.3L310.0 451.4L310.1 451.6L310.3 452.1L310.4 453.3L310.6 453.4L310.7 452.6L310.9 451.4L311.0 451.0L311.2 453.3L311.3 450.5L311.5 450.6L311.6 451.1L311.8 452.1L311.9 451.1L312.0 451.5L312.2 451.4L312.4 451.4L312.5 451.3L312.7 449.9L312.8 450.1L313.0 449.6L313.1 448.5L313.3 449.1L313.4 446.4L313.6 446.6L313.7 447.6L313.9 448.2L314.0 446.3L314.2 449.5L314.3 446.6L314.5 446.4L314.6 447.3L314.8 447.7L314.9 448.7L315.1 448.8L315.2 448.3L315.4 451.1L315.5 451.0L315.7 452.9L315.8 453.0L316.0 452.4L316.1 452.9L316.3 453.2L316.4 453.5L316.6 452.9L316.7 450.2L316.9 450.7L317.0 451.7L317.2 451.4L317.3 453.9L317.5 454.9L317.6 456.9L317.8 456.1L317.9 457.7L318.1 461.1L318.2 459.8L318.4 462.1L318.5 459.9L318.7 457.0L318.8 453.3L319.0 458.2L319.1 460.5L319.3 463.7L319.4 463.9L319.6 462.2L319.7 464.8L319.9 463.3L320.0 460.3L320.2 459.4L320.3 459.7L320.5 462.2L320.6 461.2L320.8 457.5L320.9 455.9L321.0 456.0L321.2 457.6L321.3 456.1L321.5 456.0L321.6 456.2L321.8 456.1L321.9 456.0L322.1 457.8L322.2 457.2L322.4 456.0L322.5 455.8L322.7 455.5L322.8 455.5L323.0 455.7L323.1 455.6L323.3 455.6L323.4 459.0L323.6 456.7L323.7 455.5L323.9 455.5L324.0 455.7L324.2 455.7L324.3 457.4L324.5 455.7L324.7 455.7L324.8 455.8L325.0 455.6L325.1 455.6L325.3 456.7L325.4 456.6L325.5 457.4L325.7 456.9L325.8 456.1L326.0 460.2L326.1 457.5L326.3 459.1L326.4 455.4L326.6 458.9L326.7 462.0L326.9 471.4L327.0 460.6L327.2 461.7L327.3 467.3L327.5 468.3L327.6 472.2L327.8 467.8L327.9 477.8L328.1 474.6L328.2 489.2L328.3 489.1L328.5 481.4L328.6 478.4L328.8 482.5L328.9 486.4L329.1 489.8L329.2 500.0L329.3 485.1L329.5 495.8L329.6 485.2L329.8 489.2L329.9 500.1L330.0 503.1L330.2 497.1L330.3 506.9L330.5 505.5L330.6 507.0L330.8 501.8L330.9 494.4L331.0 483.3L331.2 483.2L331.3 488.7L331.5 499.1L331.6 499.0L331.7 489.5L331.9 496.0L332.0 496.5L332.2 502.5L332.3 515.2L332.5 521.7L332.7 515.7L332.8 519.4L333.0 521.0L333.1 521.8L333.3 515.1L333.4 503.9L333.6 504.0L333.7 507.4L333.9 505.0L334.0 498.0L334.2 501.1L334.3 501.1L334.5 500.3L334.6 498.1L334.7 501.1L334.9 500.4L335.0 500.9L335.2 501.1L335.3 500.9L335.5 500.9L335.6 501.1L335.8 497.9L335.9 492.2L336.1 497.4L336.2 501.0L336.4 497.9L336.5 494.5L336.7 499.2L336.9 498.2L337.0 501.1L337.2 498.0L337.3 498.3L337.5 499.1L337.6 491.9L337.8 489.1L337.9 499.1L338.1 496.5L338.2 492.7L338.4 496.6L338.5 506.0L338.7 507.9L338.8 508.0L339.0 507.8L339.1 508.0L339.2 507.8L339.4 507.7L339.5 507.6L339.7 497.8L339.8 500.0L340.0 497.4L340.1 496.7L340.3 495.1L340.4 495.2L340.6 495.2L340.7 495.8L340.9 499.2L341.0 510.7L341.2 506.0L341.3 504.3L341.5 510.8L341.6 510.5L341.7 510.7L341.9 510.6L342.0 509.9L342.2 509.6L342.3 508.0L342.5 507.4L342.6 507.4L342.7 507.3L342.9 507.4L343.0 509.0L343.2 512.8L343.3 521.9L343.5 526.7L343.6 527.2L343.8 527.3L343.9 527.4L344.1 527.2L344.2 523.5L344.4 527.5L344.5 525.7L344.7 520.0L344.8 522.1L345.0 519.3L345.1 513.8L345.3 510.5L345.4 510.5L345.6 510.7L345.7 510.4L345.9 504.4L346.0 503.9L346.2 506.5L346.3 506.1L346.5 498.7L346.7 499.5L346.8 495.4L347.0 496.6L347.1 499.3L347.3 498.5L347.4 496.8L347.6 496.8L347.7 492.5L347.9 494.0L348.0 488.4L348.2 492.3L348.3 487.8L348.4 490.8L348.6 486.3L348.7 487.8L348.9 493.9L349.0 495.0L349.2 489.4L349.3 486.1L349.5 486.6L349.6 486.2L349.8 484.2L349.9 484.5L350.1 486.9L350.2 487.0L350.4 488.8L350.5 484.6L350.6 487.1L350.8 487.0L350.9 487.9L351.1 490.6L351.2 489.4L351.4 486.0L351.5 484.2L351.7 479.7L351.8 482.9L352.0 480.0L352.1 479.8L352.3 480.0L352.4 479.8L352.6 480.9L352.7 479.8L352.8 479.8L353.0 479.9L353.1 479.6L353.3 479.8L353.4 479.9L353.6 479.8L353.7 482.2L353.9 482.7L354.0 483.4L354.2 485.2L354.3 483.8L354.5 487.3L354.6 486.8L354.8 486.4L355.0 489.1L355.1 489.7L355.3 483.8L355.4 486.9L355.6 489.5L355.7 490.6L355.9 490.6L356.0 489.5L356.2 489.7L356.3 488.6L356.5 488.7L356.6 486.3L356.8 487.3L356.9 480.7L357.1 479.6L357.2 476.5L357.4 474.2L357.5 474.2L357.7 474.1L357.8 474.2L358.0 477.1L358.1 476.4L358.3 476.4L358.4 476.5L358.6 476.5L358.7 475.7L358.9 475.2L359.0 476.4L359.2 473.8L359.3 472.1L359.5 469.9L359.6 471.7L359.8 472.7L359.9 472.9L360.1 471.9L360.2 470.4L360.4 469.6L360.5 469.8L360.7 469.5L360.8 469.6L361.0 469.6L361.1 470.3L361.3 470.4L361.4 470.6L361.6 469.1L361.7 469.4L361.8 468.3L362.0 466.6L362.1 468.5L362.3 466.4L362.4 469.1L362.6 466.4L362.7 467.2L362.9 468.2L363.0 467.9L363.2 467.5L363.3 467.2L363.5 465.8L363.6 467.1L363.8 466.3L363.9 463.3L364.1 462.9L364.2 462.5L364.4 462.1L364.5 462.8L364.7 463.3L364.8 464.4L365.0 464.4L365.1 464.4L365.3 464.2L365.4 462.2L365.6 464.0L365.7 463.0L365.9 461.9L366.1 461.2L366.2 461.0L366.4 460.3L366.5 460.3L366.7 462.6L366.8 465.7L367.0 464.1L367.1 464.6L367.3 466.9L367.4 468.3L367.6 468.2L367.7 467.3L367.9 467.2L368.0 464.5L368.2 467.6L368.3 466.6L368.5 466.2L368.6 466.4L368.8 464.8L369.0 465.4L369.1 463.5L369.3 463.8L369.4 463.4L369.6 460.6L369.7 460.2L369.9 459.5L370.0 459.6L370.2 459.5L370.3 458.2L370.5 458.9L370.6 459.6L370.8 457.4L370.9 457.3L371.0 457.5L371.2 457.2L371.3 457.8L371.5 457.5L371.6 457.7L371.8 457.2L371.9 457.2L372.1 457.9L372.2 457.4L372.4 457.3L372.5 457.2L372.7 457.3L372.8 458.0L373.0 457.9L373.1 458.2L373.3 459.4L373.4 459.6L373.6 459.7L373.7 459.7L373.9 458.2L374.0 459.1L374.2 457.4L374.3 455.9L374.5 456.0L374.6 454.4L374.8 455.2L374.9 453.3L375.1 453.7L375.2 453.4L375.4 454.4L375.5 455.7L375.6 455.9L375.8 454.9L375.9 454.0L376.1 455.0L376.2 453.1L376.4 453.3L376.5 454.1L376.7 455.0L376.8 455.1L377.0 454.3L377.1 457.4L377.3 458.6L377.4 457.5L377.6 463.5L377.7 460.7L377.9 459.8L378.0 459.5L378.2 461.1L378.3 461.8L378.5 463.7L378.6 463.3L378.8 460.9L378.9 461.9L379.1 463.5L379.2 463.3L379.4 460.8L379.5 460.4L379.7 459.7L379.8 459.0L380.0 456.6L380.1 458.8L380.3 456.4L380.4 452.8L380.6 452.3L380.7 453.7L380.9 453.0L381.0 453.5L381.2 450.8L381.3 452.3L381.5 450.1L381.6 450.3L381.8 447.8L381.9 449.4L382.1 449.1L382.2 448.1L382.4 448.9L382.5 449.3L382.7 449.0L382.8 446.6L383.0 448.2L383.1 447.4L383.3 446.0L383.4 447.8L383.6 447.5L383.7 446.6L383.9 446.6L384.0 446.1L384.2 447.9L384.3 447.4L384.5 447.9L384.6 447.7L384.7 447.9L384.9 447.2L385.0 445.8L385.2 445.3L385.3 443.6L385.5 444.4L385.6 443.2L385.8 443.1L385.9 442.5L386.1 442.3L386.2 444.0L386.4 445.2L386.5 449.0L386.7 450.9L386.8 450.9L387.0 450.3L387.1 447.0L387.2 447.5L387.4 451.7L387.5 452.1L387.7 457.0L387.8 453.3L388.0 455.4L388.1 455.5L388.3 457.1L388.4 457.7L388.6 457.0L388.7 457.3L388.9 456.8L389.0 457.8L389.1 458.8L389.3 459.1L389.4 456.9L389.6 457.9L389.7 460.7L389.9 459.1L390.0 459.1L390.2 460.7L390.3 460.6L390.5 459.2L390.6 459.7L390.8 460.0L390.9 460.6L391.1 461.3L391.2 459.2L391.4 458.2L391.5 459.9L391.7 462.7L391.8 464.6L392.0 463.6L392.2 460.1L392.3 460.2L392.5 460.9L392.6 461.1L392.8 462.6L392.9 460.8L393.1 461.3L393.2 459.6L393.4 461.5L393.5 462.3L393.6 463.1L393.8 460.7L393.9 456.6L394.1 458.8L394.2 457.5L394.4 460.0L394.5 457.5L394.7 458.3L394.8 456.6L395.0 455.9L395.1 453.9L395.3 453.0L395.4 453.2L395.6 452.2L395.7 451.2L395.9 452.8L396.0 451.7L396.1 452.2L396.3 453.6L396.4 454.8L396.6 454.2L396.7 451.4L396.9 453.6L397.0 455.2L397.2 453.7L397.3 451.0L397.5 450.8L397.6 454.0L397.8 455.4L397.9 457.1L398.1 458.0L398.2 457.6L398.4 458.2L398.5 458.9L398.7 459.6L398.8 458.8L399.0 460.1L399.1 457.5L399.3 456.7L399.4 455.3L399.6 457.2L399.7 453.8L399.9 453.6L400.0 455.2L400.2 452.2L400.3 454.7L400.5 454.5L400.6 456.2L400.8 455.1L400.9 453.4L401.1 452.7L401.2 452.6L401.4 452.3L401.5 450.9L401.7 450.8L401.8 448.9L402.0 447.1L402.1 446.3L402.3 445.8L402.4 446.9L402.6 448.5L402.7 449.0L402.9 447.9L403.0 446.6L403.2 446.7L403.3 446.9L403.5 446.3L403.6 446.7L403.8 444.2L403.9 443.7L404.1 445.5L404.2 442.7L404.4 443.0L404.5 440.8L404.7 442.6L404.8 442.9L405.0 442.2L405.1 440.9L405.3 442.0L405.4 441.9L405.6 441.5L405.7 441.3L405.9 440.0L406.0 440.4L406.2 441.0L406.3 439.2L406.4 438.4L406.6 440.4L406.7 438.5L406.9 439.7L407.0 442.9L407.2 443.8L407.3 443.9L407.5 443.1L407.6 442.4L407.7 442.0L407.9 443.6L408.0 442.4L408.2 441.7L408.3 442.4L408.5 440.3L408.6 438.8L408.8 437.9L408.9 439.5L409.1 438.7L409.2 436.1L409.4 437.2L409.5 439.7L409.7 439.2L409.8 437.9L410.0 438.4L410.1 436.1L410.3 438.2L410.4 436.3L410.6 435.5L410.7 436.9L410.9 435.9L411.0 432.4L411.2 432.5L411.3 430.3L411.5 429.6L411.6 429.8L411.8 429.8L411.9 431.5L412.0 430.2L412.2 430.7L412.3 429.7L412.5 429.7L412.6 429.7L412.8 429.8L412.9 429.7L413.1 429.6L413.2 429.8L413.4 431.3L413.5 431.9L413.7 431.9L413.8 431.7L414.0 431.4L414.1 430.9L414.3 431.9L414.4 431.3L414.6 431.4L414.7 430.9L414.9 429.8L415.0 429.3L415.2 430.2L415.3 430.7L415.5 430.2L415.6 427.1L415.8 427.3L415.9 426.6L416.1 427.6L416.2 426.8L416.4 425.9L416.5 425.7L416.6 427.2L416.8 428.6L417.0 430.4L417.1 429.9L417.3 431.0L417.4 430.7L417.6 432.2L417.7 432.2L417.9 430.6L418.0 430.2L418.2 431.4L418.3 431.7L418.5 431.3L418.6 432.6L418.8 431.5L418.9 429.8L419.1 432.3L419.2 431.1L419.4 432.2L419.5 433.0L419.7 430.5L419.8 430.4L420.0 430.1L420.1 426.5L420.3 425.6L420.4 425.6L420.6 427.0L420.7 425.9L420.9 425.8L421.0 425.8L421.1 426.6L421.3 427.2L421.4 426.5L421.6 425.3L421.7 425.8L421.9 426.8L422.0 426.8L422.2 425.5L422.3 425.4L422.5 425.4L422.6 424.4L422.8 422.7L422.9 423.0L423.1 423.0L423.2 422.7L423.4 422.6L423.5 422.6L423.7 426.0L423.8 426.5L424.0 426.2L424.1 425.0L424.3 424.2L424.4 423.2L424.6 425.8L424.7 425.6L424.9 425.9L425.0 425.3L425.2 426.4L425.3 426.6L425.5 426.6L425.6 427.0L425.7 426.1L425.9 426.0L426.0 426.1L426.2 424.5L426.3 422.9L426.5 424.5L426.6 426.9L426.8 427.3L426.9 424.8L427.1 425.1L427.2 426.4L427.4 427.3L427.5 427.8L427.7 427.6L427.8 426.6L428.0 430.4L428.1 427.7L428.3 430.4L428.4 428.5L428.6 430.1L428.7 430.4L428.9 431.1L429.1 430.0L429.2 431.6L429.4 432.6L429.5 432.9L429.7 433.2L429.8 433.0L430.0 433.0L430.1 433.0L430.3 433.2L430.4 430.2L430.6 426.1L430.7 422.8L430.9 425.5L431.0 422.4L431.2 422.6L431.3 424.4L431.5 425.9L431.6 426.6L431.8 423.2L431.9 423.6L432.1 422.5L432.2 423.5L432.3 422.8L432.5 426.2L432.6 427.6L432.8 429.8L432.9 430.0L433.1 428.3L433.2 434.3L433.4 434.5L433.5 428.4L433.7 429.3L433.8 435.5L434.0 435.2L434.1 446.1L434.3 446.4L434.5 444.1L434.6 442.3L434.8 446.9L434.9 442.0L435.1 443.9L435.2 441.6L435.4 442.5L435.5 439.8L435.7 438.9L435.8 435.4L436.0 438.4L436.1 436.0L436.3 437.4L436.4 435.2L436.6 435.2L436.7 438.6L436.9 438.5L437.0 438.7L437.2 439.2L437.3 439.1L437.5 438.5L437.7 439.1L437.8 439.0L438.0 439.2L438.1 438.3L438.3 437.1L438.4 436.2L438.6 436.4L438.7 436.9L438.9 445.0L439.0 445.5L439.2 443.1L439.3 449.0L439.5 444.8L439.6 446.2L439.8 444.5L439.9 442.3L440.1 443.0L440.2 439.3L440.4 442.5L440.5 441.0L440.7 438.9L440.8 436.5L440.9 432.7L441.1 427.4L441.2 427.3L441.4 427.5L441.5 428.6L441.7 427.5L441.8 427.6L442.0 427.9L442.1 428.2L442.3 429.5L442.4 429.4L442.6 429.2L442.7 429.6L442.9 428.4L443.0 429.3L443.2 428.1L443.3 430.3L443.5 430.5L443.6 427.4L443.7 429.2L443.9 430.2L444.0 432.2L444.2 431.4L444.3 432.9L444.5 437.6L444.6 439.4L444.8 434.4L444.9 441.1L445.0 441.0L445.2 440.1L445.3 437.4L445.5 436.1L445.6 438.3L445.8 437.2L445.9 438.1L446.1 436.0L446.2 437.1L446.4 435.7L446.5 430.2L446.7 433.5L446.8 437.8L447.0 436.4L447.1 431.9L447.3 430.3L447.5 428.8L447.6 429.0L447.8 428.5L447.9 429.2L448.1 428.5L448.2 429.1L448.3 428.1L448.5 429.0L448.6 428.5L448.8 428.6L448.9 429.2L449.1 429.2L449.2 429.7L449.4 429.4L449.5 428.3L449.7 428.7L449.8 425.8L450.0 425.6L450.1 424.8L450.3 424.9L450.4 425.0L450.6 425.8L450.7 425.8L450.9 426.0L451.0 425.8L451.2 426.0L451.3 425.6L451.5 423.6L451.6 424.8L451.8 424.7L451.9 425.5L452.1 425.8L452.2 425.6L452.4 425.5L452.5 424.5L452.7 423.9L452.8 424.0L452.9 421.6L453.1 421.0L453.2 419.6L453.4 419.5L453.5 419.4L453.7 417.6L453.8 416.9L454.0 418.0L454.1 418.1L454.3 416.5L454.4 417.8L454.6 417.6L454.7 417.0L454.9 417.9L455.0 417.4L455.2 417.4L455.3 417.0L455.5 416.5L455.6 415.3L455.8 417.2L455.9 416.9L456.1 416.3L456.2 414.7L456.4 414.1L456.5 415.1L456.7 416.1L456.8 415.3L457.0 413.7L457.1 414.1L457.3 414.2L457.4 414.1L457.6 412.8L457.7 412.8L457.9 414.4L458.0 414.6L458.2 413.3L458.3 412.9L458.5 412.9L458.6 412.8L458.8 413.0L458.9 412.9L459.1 412.8L459.2 413.0L459.4 413.0L459.5 414.1L459.7 414.2L459.8 414.5L460.0 414.8L460.2 415.5L460.3 416.6L460.5 417.4L460.6 415.6L460.8 416.1L460.9 415.9L461.1 414.5L461.2 414.0L461.4 413.8L461.5 414.0L461.7 416.9L461.8 416.9L462.0 417.6L462.1 419.3L462.3 419.0L462.4 419.3L462.6 422.1L462.7 424.7L462.9 427.0L463.0 426.9L463.2 424.3L463.3 420.5L463.5 423.0L463.6 425.3L463.8 427.0L463.9 426.9L464.1 426.9L464.2 426.9L464.4 427.0L464.5 426.9L464.7 426.1L464.8 425.1L465.0 424.4L465.1 422.9L465.3 423.5L465.4 423.2L465.6 422.1L465.7 421.7L465.9 423.8L466.0 424.7L466.2 423.1L466.3 426.5L466.5 422.7L466.6 421.1L466.8 419.5L466.9 418.6L467.1 419.3L467.2 419.3L467.4 420.0L467.5 417.6L467.7 418.0L467.8 417.1L468.0 417.4L468.1 418.2L468.3 419.4L468.4 419.3L468.6 417.2L468.7 418.9L468.9 417.5L469.0 417.8L469.1 417.4L469.3 416.2L469.4 416.4L469.6 417.2L469.7 417.0L469.9 416.3L470.0 417.0L470.2 417.2L470.3 417.7L470.5 418.1L470.6 418.1L470.8 417.2L470.9 417.3L471.1 417.9L471.2 414.2L471.4 415.2L471.5 416.6L471.7 416.0L471.8 414.5L472.0 414.5L472.1 417.4L472.3 414.6L472.4 414.3L472.6 412.3L472.7 412.1L472.9 411.3L473.0 410.9L473.2 411.6L473.3 412.7L473.5 413.1L473.6 413.2L473.8 412.9L473.9 413.0L474.1 412.2L474.2 410.7L474.4 409.4L474.5 409.6L474.7 410.5L474.8 411.0L475.0 408.3L475.1 407.1L475.3 407.2L475.4 408.0L475.6 406.9L475.7 407.5L475.9 406.8L476.0 407.4L476.2 408.4L476.4 409.8L476.5 410.1L476.7 409.7L476.8 409.0L477.0 408.8L477.1 409.5L477.3 409.9L477.4 409.6L477.6 409.3L477.7 408.9L477.9 410.1L478.0 409.5L478.2 409.8L478.3 411.2L478.5 410.0L478.6 412.1L478.8 411.8L478.9 411.8L479.1 412.0L479.2 411.4L479.4 410.8L479.5 412.1L479.6 411.6L479.8 412.2L479.9 412.2L480.1 412.2L480.2 412.4L480.4 410.9L480.5 411.2L480.6 411.6L480.8 414.0L480.9 414.8L481.1 417.4L481.2 417.0L481.4 417.1L481.5 416.5L481.7 416.5L481.8 416.5L482.0 414.8L482.1 416.0L482.3 414.3L482.4 413.3L482.6 414.1L482.7 414.9L482.9 414.3L483.0 413.8L483.2 412.6L483.3 411.3L483.5 410.4L483.6 410.5L483.8 411.2L483.9 411.9L484.1 412.5L484.2 413.1L484.4 412.6L484.5 412.5L484.7 410.0L484.8 410.8L485.0 411.0L485.1 410.6L485.3 409.3L485.4 406.9L485.6 408.5L485.7 408.1L485.9 408.2L486.0 407.1L486.2 406.8L486.3 408.4L486.5 407.2L486.6 406.7L486.8 408.1L486.9 406.8L487.1 404.1L487.2 405.0L487.3 403.4L487.5 405.1L487.6 405.6L487.8 405.3L487.9 403.3L488.1 402.5L488.2 405.7L488.4 404.1L488.5 403.3L488.7 402.3L488.8 402.2L489.0 402.6L489.1 402.5L489.3 402.1L489.4 402.2L489.6 402.0L489.7 401.9L489.9 403.2L490.0 401.9L490.2 401.9L490.3 402.2L490.5 401.6L490.6 400.7L490.8 400.0L490.9 398.0L491.1 398.6L491.2 399.6L491.4 399.5L491.5 399.6L491.7 399.5L491.8 400.1L491.9 399.0L492.1 399.5L492.2 400.1L492.4 400.2L492.5 399.7L492.7 399.1L492.8 398.6L493.0 398.6L493.1 397.9L493.3 396.9L493.4 398.2L493.6 398.9L493.7 398.4L493.9 398.0L494.0 398.5L494.2 396.2L494.3 396.7L494.5 397.8L494.6 397.4L494.8 397.7L494.9 397.2L495.1 396.6L495.2 397.0L495.4 397.8L495.5 398.3L495.7 395.6L495.8 396.4L496.0 396.0L496.1 395.0L496.3 394.9L496.4 395.6L496.6 395.1L496.7 395.2L496.9 396.2L497.1 395.0L497.2 392.6L497.4 392.9L497.5 394.9L497.7 392.5L497.8 392.6L498.0 391.8L498.1 392.2L498.3 391.7L498.4 391.9L498.6 390.4L498.7 389.8L498.9 389.6L499.0 390.9L499.2 391.0L499.3 390.6L499.5 389.6L499.6 388.2L499.8 388.1L499.9 388.1L500.1 388.3L500.2 388.1L500.4 389.0L500.6 389.3L500.7 389.2L500.9 390.1L501.0 389.1L501.2 390.4L501.3 391.3L501.5 391.4L501.6 391.3L501.8 391.1L501.9 391.8L502.1 391.6L502.2 391.3L502.4 392.7L502.5 392.4L502.7 393.3L502.8 392.1L503.0 394.2L503.1 395.1L503.3 395.8L503.5 396.1L503.6 394.9L503.8 394.2L503.9 394.3L504.1 393.9L504.2 394.9L504.4 392.2L504.5 387.9L504.7 387.8L504.8 389.0L505.0 391.0L505.1 388.6L505.3 389.3L505.4 389.4L505.6 389.1L505.7 387.8L505.9 387.4L506.0 387.1L506.2 386.6L506.4 387.2L506.5 387.8L506.7 387.7L506.8 386.9L507.0 388.3L507.1 387.3L507.3 386.7L507.4 386.2L507.6 385.9L507.7 384.9L507.9 384.3L508.0 383.3L508.2 384.8L508.3 385.2L508.5 385.2L508.6 387.9L508.8 388.0L508.9 387.6L509.1 387.8L509.2 386.9L509.4 385.2L509.5 388.9L509.7 387.4L509.8 390.4L510.0 389.4L510.1 388.0L510.3 387.4L510.4 389.2L510.6 388.0L510.7 389.5L510.9 387.9L511.1 386.8L511.2 387.8L511.4 386.9L511.5 386.3L511.7 385.1L511.8 384.5L512.0 384.0L512.1 383.0L512.3 383.2L512.4 382.6L512.6 384.4L512.7 383.0L512.9 382.2L513.0 383.3L513.2 383.6L513.3 382.6L513.5 382.8L513.6 384.0L513.8 383.6L513.9 381.8L514.1 383.0L514.2 384.5L514.4 383.5L514.6 383.8L514.7 383.9L514.9 383.7L515.0 381.6L515.2 379.4L515.3 381.8L515.5 381.1L515.6 381.1L515.8 380.4L515.9 380.3L516.1 379.2L516.2 379.5L516.4 378.8L516.5 380.3L516.7 379.7L516.8 380.5L517.0 380.4L517.1 380.4L517.3 380.5L517.5 380.2L517.6 380.4L517.8 380.0L517.9 379.2L518.1 377.7L518.2 377.1L518.4 376.9L518.5 377.6L518.7 378.4L518.8 378.1L519.0 378.0L519.1 376.9L519.2 378.1L519.4 377.9L519.5 377.4L519.7 377.5L519.8 378.2L520.0 376.5L520.1 376.0L520.3 374.4L520.4 374.4L520.6 374.4L520.7 375.0L520.9 374.5L521.0 375.6L521.2 374.2L521.3 374.6L521.5 374.9L521.6 375.0L521.8 375.0L521.9 374.7L522.1 373.6L522.2 373.6L522.4 374.7L522.5 372.7L522.7 373.5L522.8 374.2L523.0 373.1L523.1 371.9L523.3 372.1L523.4 371.6L523.6 372.3L523.7 372.1L523.9 371.4L524.0 371.3L524.2 373.0L524.3 373.6L524.5 375.7L524.6 373.5L524.8 374.4L524.9 375.5L525.1 375.2L525.2 374.7L525.4 374.1L525.5 373.7L525.7 374.9L525.8 373.7L526.0 376.8L526.1 377.7L526.3 378.3L526.4 377.5L526.6 378.1L526.7 377.2L526.9 378.2L527.0 376.4L527.2 375.3L527.3 375.7L527.5 372.4L527.6 374.8L527.8 377.8L527.9 376.9L528.1 374.2L528.2 373.1L528.4 373.3L528.5 372.5L528.7 372.7L528.8 372.0L529.0 372.1L529.1 371.2L529.3 372.1L529.4 372.7L529.6 374.0L529.7 372.5L529.9 371.5L530.0 371.6L530.2 372.1L530.3 372.9L530.5 372.3L530.6 372.7L530.8 372.9L530.9 374.1L531.1 371.8L531.2 371.1L531.4 372.0L531.5 371.9L531.7 371.8L531.8 370.5L532.0 369.3L532.1 369.4L532.3 369.4L532.4 370.6L532.6 369.9L532.7 371.7L532.8 372.8L533.0 372.5L533.1 372.5L533.3 371.4L533.4 372.8L533.6 373.3L533.7 371.4L533.9 371.9L534.0 372.5L534.2 370.5L534.3 371.4L534.5 370.9L534.6 371.0L534.8 368.9L535.0 370.9L535.1 370.3L535.3 370.6L535.4 369.0L535.6 368.4L535.7 369.1L535.9 369.2L536.0 369.9L536.2 370.3L536.3 370.2L536.5 370.5L536.6 370.5L536.8 369.1L536.9 369.7L537.1 368.7L537.2 367.4L537.3 366.7L537.5 368.3L537.6 368.9L537.8 367.7L537.9 367.1L538.1 367.5L538.2 367.5L538.4 366.1L538.5 368.8L538.7 367.3L538.8 369.0L539.0 367.9L539.1 366.1L539.3 367.7L539.4 367.6L539.6 367.6L539.7 366.6L539.9 367.5L540.0 365.4L540.2 366.6L540.3 367.6L540.5 366.3L540.6 365.3L540.8 364.2L540.9 364.4L541.1 364.7L541.2 365.1L541.4 365.9L541.5 364.7L541.7 365.1L541.8 364.7L541.9 364.4L542.1 363.3L542.2 363.8L542.4 364.5L542.5 363.6L542.7 364.1L542.8 363.8L543.0 363.6L543.1 363.5L543.3 361.7L543.4 361.7L543.6 363.4L543.7 364.7L543.9 364.3L544.0 363.2L544.2 364.0L544.3 363.3L544.5 363.0L544.6 362.4L544.8 362.3L544.9 364.7L545.0 364.4L545.2 366.1L545.3 366.1L545.5 367.8L545.6 367.9L545.8 368.3L545.9 368.5L546.1 367.3L546.2 365.0L546.4 366.5L546.5 365.3L546.7 366.4L546.8 365.8L547.0 363.9L547.1 364.5L547.3 367.4L547.4 363.4L547.6 360.5L547.7 360.7L547.9 361.5L548.0 361.5L548.2 360.7L548.3 361.6L548.5 361.3L548.6 361.5L548.8 360.7L548.9 360.5L549.1 360.9L549.2 361.8L549.4 361.2L549.5 362.3L549.7 363.0L549.8 362.4L550.0 362.7L550.1 363.7L550.3 362.9L550.5 362.8L550.6 363.6L550.8 363.1L550.9 366.9L551.0 365.9L551.2 363.2L551.3 366.0L551.5 365.8L551.6 366.9L551.8 368.9L551.9 368.9L552.1 369.3L552.2 368.7L552.4 369.1L552.5 368.7L552.7 369.6L552.8 367.1L553.0 363.7L553.1 366.1L553.3 363.6L553.4 367.0L553.5 364.1L553.7 361.7L553.8 362.3L554.0 363.4L554.1 360.9L554.3 359.3L554.4 360.3L554.6 360.0L554.7 358.6L554.9 358.0L555.0 357.7L555.2 358.2L555.3 359.7L555.5 358.3L555.6 361.2L555.7 360.0L555.9 358.8L556.0 358.6L556.2 356.8L556.3 357.9L556.5 355.4L556.6 356.4L556.8 356.0L556.9 356.0L557.1 357.1L557.2 358.0L557.4 356.5L557.5 356.2L557.7 358.4L557.8 360.2L558.0 362.4L558.2 359.9L558.3 360.3L558.5 361.4L558.6 361.5L558.8 361.1L558.9 362.6L559.1 360.2L559.2 359.4L559.4 360.3L559.5 358.6L559.7 358.2L559.8 358.9L560.0 356.8L560.1 355.5L560.3 355.4L560.4 356.5L560.6 357.8L560.7 357.9L560.9 356.8L561.0 357.1L561.2 357.3L561.3 357.0L561.5 358.8L561.7 360.5L561.8 361.8L562.0 361.4L562.1 360.9L562.3 361.5L562.4 361.7L562.6 359.3L562.7 359.6L562.9 359.9L563.0 359.6L563.2 359.0L563.3 359.5L563.5 357.0L563.6 356.4L563.8 355.7L563.9 357.6L564.1 359.4L564.2 359.8L564.4 357.4L564.5 357.6L564.6 357.5L564.8 356.9L564.9 355.9L565.1 355.7L565.2 356.1L565.4 357.2L565.5 356.1L565.7 356.6L565.8 355.7L566.0 354.3L566.1 355.0L566.3 354.9L566.4 355.6L566.6 354.8L566.7 355.1L566.9 354.5L567.0 354.9L567.2 355.4L567.3 354.2L567.5 353.6L567.6 354.7L567.8 354.5L567.9 355.7L568.1 355.1L568.2 355.3L568.4 354.8L568.5 354.9L568.7 354.2L568.8 354.2L569.0 354.2L569.1 354.3L569.2 351.8L569.4 352.7L569.5 351.9L569.7 351.6L569.8 351.4L570.0 351.9L570.1 352.2L570.3 352.9L570.4 353.5L570.6 354.1L570.7 354.6L570.9 354.5L571.0 354.8L571.2 352.7L571.3 351.7L571.5 351.4L571.6 352.1L571.8 352.3L571.9 352.2L572.1 352.4L572.2 352.3L572.4 352.8L572.5 353.6L572.7 353.9L572.8 353.7L573.0 353.7L573.1 353.9L573.3 353.8L573.4 353.7L573.6 353.6L573.7 353.7L573.8 353.7L574.0 353.6L574.1 353.8L574.3 353.7L574.4 353.7L574.6 351.9L574.7 351.3L574.9 350.3L575.0 351.2L575.2 351.0L575.3 350.5L575.5 350.3L575.6 350.1L575.8 350.2L575.9 350.5L576.1 350.3L576.2 350.0L576.4 351.7L576.5 353.0L576.7 351.7L576.8 350.7L577.0 353.0L577.1 353.0L577.3 352.4L577.4 350.7L577.6 351.7L577.7 352.0L577.9 352.0L578.0 352.3L578.2 352.5L578.3 351.5L578.4 350.8L578.6 351.0L578.7 352.0L578.9 351.0L579.0 350.9L579.2 350.8L579.3 350.9L579.5 351.3L579.6 352.8L579.8 353.3L579.9 353.4L580.1 354.4L580.2 354.1L580.4 353.7L580.5 352.8L580.7 353.5L580.8 352.9L581.0 351.6L581.1 351.5L581.3 351.7L581.4 351.5L581.6 351.6L581.7 351.5L581.9 351.5L582.0 351.8L582.2 352.9L582.3 354.3L582.5 354.2L582.6 353.9L582.7 353.7L582.9 354.1L583.0 354.6L583.2 353.6L583.3 354.0L583.5 353.1L583.6 352.3L583.8 358.8L583.9 358.5L584.1 364.3L584.2 358.4L584.3 362.6L584.5 367.7L584.6 366.3L584.8 364.4L584.9 363.7L585.1 367.7L585.2 367.8L585.4 366.6L585.6 360.1L585.7 358.8L585.9 361.5L586.0 359.9L586.2 359.8L586.3 361.5L586.4 362.7L586.6 362.0L586.7 363.3L586.9 358.6L587.0 362.1L587.2 364.0L587.3 363.6L587.5 365.9L587.6 365.0L587.7 365.4L587.9 361.8L588.1 364.6L588.2 364.5L588.4 366.6L588.5 365.7L588.7 360.6L588.8 358.0L589.0 358.1L589.1 362.4L589.3 359.9L589.4 357.7L589.6 357.5L589.7 356.2L589.9 353.8L590.0 353.1L590.2 353.5L590.3 353.3L590.5 354.6L590.6 352.8L590.8 352.8L590.9 354.0L591.1 352.3L591.2 351.3L591.4 351.4L591.5 351.5L591.7 352.7L591.8 352.0L592.0 351.4L592.1 351.6L592.3 352.3L592.4 351.5L592.6 351.4L592.7 352.3L592.9 353.0L593.0 353.2L593.2 356.8L593.3 356.6L593.5 356.7L593.6 356.0L593.8 355.1L593.9 355.9L594.1 356.6L594.2 356.1L594.4 356.6L594.5 355.2L594.7 356.5L594.8 354.4L595.0 354.3L595.1 355.3L595.3 355.9L595.4 356.3L595.6 355.8L595.7 356.9L595.9 355.5L596.0 353.6L596.2 353.5L596.3 353.9L596.5 354.8L596.7 356.8L596.8 357.0L597.0 358.3L597.1 356.9L597.3 360.4L597.4 358.8L597.6 358.5L597.7 361.5L597.9 361.4L598.0 360.9L598.2 362.0L598.3 365.7L598.5 366.7L598.6 367.4L598.8 367.9L598.9 370.2L599.1 370.9L599.2 368.8L599.4 366.2L599.5 368.0L599.7 367.7L599.8 366.7L600.0 367.5L600.1 367.9L600.3 369.0L600.4 368.9L600.6 370.3L600.7 371.6L600.9 371.3L601.0 369.1L601.1 370.1L601.3 369.2L601.4 370.3L601.6 370.7L601.7 370.5L601.9 368.4L602.1 364.3L602.2 361.4L602.4 361.4L602.5 362.8L602.7 361.6L602.8 361.6L603.0 362.4L603.1 363.4L603.3 362.6L603.4 362.0L603.6 363.3L603.7 363.6L603.9 362.5L604.0 362.6L604.2 361.5L604.3 362.4L604.5 358.9L604.6 361.1L604.8 361.8L604.9 359.9L605.1 359.9L605.2 358.3L605.4 357.3L605.5 358.2L605.6 358.0L605.8 356.2L605.9 355.5L606.1 355.0L606.2 355.1L606.4 355.7L606.5 355.4L606.7 355.2L606.8 356.1L607.0 356.7L607.1 356.0L607.3 356.0L607.4 356.0L607.6 356.6L607.7 355.6L607.9 355.7L608.0 354.8L608.2 354.4L608.3 353.3L608.5 354.1L608.6 353.4L608.8 353.5L608.9 351.9L609.1 352.6L609.2 350.6L609.4 351.5L609.5 350.5L609.7 352.3L609.8 351.9L610.0 351.6L610.1 352.5L610.3 352.6L610.4 350.7L610.6 353.5L610.7 352.5L610.9 352.6L611.0 353.1L611.2 352.6L611.3 353.6L611.5 353.4L611.6 353.8L611.8 353.6L611.9 353.2L612.1 353.7L612.2 353.6L612.4 353.2L612.5 353.8L612.7 353.7L612.8 353.6L613.0 352.7L613.1 352.2L613.3 351.4L613.4 352.6L613.6 351.8L613.7 350.2L613.9 351.2L614.0 351.0L614.2 350.5L614.3 350.3L614.4 351.2L614.6 353.3L614.7 356.6L614.9 357.0L615.0 353.3L615.2 356.5L615.3 357.5L615.5 357.5L615.6 355.3L615.7 356.6L615.9 356.2L616.0 355.8L616.2 356.4L616.3 353.7L616.5 355.9L616.6 354.5L616.8 357.0L616.9 351.4L617.1 348.8L617.2 348.9L617.4 346.7L617.5 347.8L617.7 346.9L617.8 346.6L618.0 344.2L618.1 345.8L618.3 345.2L618.4 346.8L618.6 346.1L618.7 344.8L618.9 344.4L619.0 343.7L619.2 344.7L619.3 345.7L619.5 346.0L619.6 346.7L619.8 344.5L619.9 344.8L620.1 343.5L620.2 344.0L620.4 344.3L620.5 344.3L620.7 344.1L620.8 343.1L621.0 344.3L621.1 344.0L621.3 343.6L621.4 344.2L621.6 343.0L621.7 342.6L621.9 342.6L622.0 342.5L622.2 342.7L622.3 342.7L622.5 343.2L622.6 342.7L622.8 342.8L622.9 342.7L623.1 342.6L623.2 343.3L623.4 343.9L623.5 344.1L623.6 344.1L623.8 345.6L623.9 344.3L624.1 344.9L624.2 345.6L624.4 345.1L624.5 345.4L624.7 344.9L624.8 345.7L625.0 345.3L625.1 345.2L625.3 345.5L625.4 345.2L625.6 345.7L625.7 345.9L625.9 345.4L626.0 346.6L626.2 345.5L626.3 346.3L626.5 346.4L626.6 345.2L626.8 346.7L626.9 348.4L627.1 348.1L627.2 349.4L627.4 347.5L627.5 347.5L627.7 347.2L627.8 346.9L628.0 346.9L628.1 347.8L628.2 349.5L628.4 349.3L628.5 350.3L628.7 347.6L628.9 347.6L629.0 348.0L629.2 349.7L629.3 348.3L629.5 349.0L629.6 350.3L629.8 350.4L629.9 348.8L630.1 349.1L630.2 346.5L630.4 345.0L630.5 343.8L630.7 343.1L630.8 343.5L631.0 342.0L631.1 342.5L631.3 343.3L631.4 342.1L631.6 342.7L631.7 342.7L631.9 343.0L632.0 342.6L632.2 341.5L632.3 339.5L632.5 340.0L632.6 340.0L632.8 338.5L632.9 339.3L633.1 339.2L633.2 338.8L633.4 336.8L633.5 338.0L633.7 337.9L633.8 338.8L634.0 338.5L634.1 338.6L634.3 338.0L634.4 339.7L634.6 339.9L634.7 339.8L634.9 338.6L635.0 337.6L635.2 337.7L635.3 336.6L635.5 336.8L635.6 336.8L635.8 336.7L635.9 336.7L636.1 336.8L636.2 335.6L636.4 335.3L636.5 336.6L636.7 338.9L636.8 338.9L637.0 339.0L637.1 339.0L637.3 338.8L637.4 339.0L637.5 339.0L637.7 338.2L637.8 336.9L638.0 337.5L638.1 336.2L638.3 336.7L638.4 336.9L638.6 336.0L638.7 334.1L638.9 335.0L639.0 333.9L639.2 334.4L639.4 333.4L639.5 333.5L639.7 335.0L639.8 334.1L640.0 332.0L640.1 331.7L640.3 332.0L640.4 331.2L640.6 332.5L640.7 333.2L640.9 331.7L641.0 330.5L641.2 330.5L641.3 331.3L641.5 332.3L641.6 332.7L641.8 333.1L641.9 332.2L642.1 331.6L642.2 332.2L642.4 333.5L642.5 333.6L642.7 333.9L642.8 333.4L643.0 333.4L643.1 332.5L643.3 333.4L643.4 334.0L643.6 333.5L643.7 334.7L643.9 334.4L644.0 334.7L644.2 334.5L644.3 333.6L644.5 334.0L644.6 334.3L644.7 333.6L644.9 334.0L645.0 333.1L645.2 331.9L645.3 330.4L645.5 331.1L645.6 331.0L645.8 332.3L645.9 330.9L646.1 329.8L646.2 330.3L646.4 330.3L646.5 327.9L646.7 326.7L646.8 327.9L647.0 328.7L647.2 329.5L647.3 330.5L647.5 330.5L647.6 330.1L647.8 331.0L647.9 330.8L648.1 330.0L648.2 329.1L648.4 331.9L648.5 331.9L648.7 330.4L648.8 329.0L649.0 328.3L649.1 327.3L649.3 327.2L649.4 327.0L649.6 326.8L649.7 327.5L649.9 327.2L650.0 327.0L650.2 328.6L650.3 326.8L650.5 328.8L650.6 328.8L650.8 329.0L650.9 328.2L651.1 329.1L651.2 329.3L651.4 328.7L651.5 329.8L651.7 328.8L651.8 329.0L652.0 327.3L652.1 328.4L652.3 327.4L652.4 326.7L652.6 327.0L652.7 328.1L652.9 328.0L653.0 327.5L653.2 327.2L653.3 326.2L653.5 326.3L653.6 325.8L653.7 326.5L653.9 327.0L654.0 326.2L654.2 325.3L654.3 325.4L654.5 325.7L654.6 325.3L654.8 324.7L654.9 325.2L655.1 326.0L655.2 326.4L655.4 325.7L655.5 324.6L655.7 325.4L655.8 326.0L656.0 325.4L656.1 325.3L656.3 324.7L656.4 324.7L656.6 325.4L656.7 326.5L656.9 326.2L657.0 327.1L657.2 325.9L657.3 327.6L657.5 325.9L657.6 325.4L657.8 326.8L657.9 324.7L658.1 325.1L658.2 326.2L658.3 327.2L658.5 327.5L658.6 326.8L658.8 327.2L658.9 328.8L659.1 328.9L659.2 328.9L659.4 328.5L659.5 328.0L659.7 326.5L659.8 327.6L660.0 328.7L660.1 327.6L660.3 328.7L660.4 326.2L660.6 326.5L660.7 325.3L660.9 326.2L661.0 326.1L661.2 323.9L661.3 324.1L661.5 322.4L661.6 323.6L661.8 323.4L661.9 323.3L662.1 324.0L662.2 323.8L662.4 323.9L662.5 323.8L662.7 322.1L662.8 322.8L662.9 322.6L663.1 322.6L663.2 322.6L663.4 322.5L663.5 321.7L663.7 321.3L663.8 320.0L664.0 319.9L664.1 320.7L664.3 321.2L664.4 322.0L664.6 321.3L664.7 320.3L664.9 319.6L665.0 320.4L665.2 320.8L665.3 320.8L665.5 320.8L665.6 320.9L665.8 321.0L665.9 319.1L666.1 320.8L666.2 319.3L666.4 319.6L666.5 319.7L666.7 319.6L666.8 319.0L667.0 318.5L667.1 319.6L667.3 318.9L667.4 318.8L667.5 318.7L667.7 318.4L667.8 319.1L668.0 318.9L668.1 318.9L668.3 319.0L668.4 318.2L668.6 317.6L668.7 319.0L668.9 317.3L669.0 315.6L669.2 316.9L669.3 316.1L669.5 314.1L669.6 312.7L669.8 312.7L669.9 312.7L670.1 313.5L670.2 313.7L670.4 312.8L670.5 313.7L670.7 312.7L670.8 311.9L671.0 311.3L671.1 310.3L671.3 310.0L671.4 311.4L671.6 312.5L671.7 313.1L671.9 314.7L672.0 313.9L672.2 312.4L672.3 309.7L672.5 309.8L672.6 310.0L672.8 308.7L672.9 309.9L673.1 310.7L673.2 309.1L673.4 307.6L673.5 309.5L673.7 309.5L673.8 311.0L674.0 310.3L674.1 307.6L674.3 305.8L674.4 309.5L674.6 306.7L674.7 309.8L674.9 307.1L675.0 306.5L675.2 304.9L675.3 305.3L675.5 309.0L675.6 308.6L675.8 309.5L675.9 313.1L676.1 313.7L676.2 318.2L676.4 317.2L676.5 315.4L676.6 312.0L676.8 310.9L676.9 309.7L677.1 312.0L677.2 309.9L677.4 309.8L677.5 310.5L677.7 314.7L677.8 311.2L678.0 310.8L678.1 312.1L678.3 313.3L678.4 313.6L678.6 314.0L678.7 313.2L678.9 313.9L679.0 314.9L679.2 314.4L679.3 314.8L679.5 318.0L679.6 316.8L679.8 317.1L679.9 316.6L680.1 318.2L680.3 317.0L680.4 316.4L680.6 316.9L680.7 314.5L680.9 314.2L681.0 313.9L681.2 315.8L681.3 318.0L681.5 315.4L681.6 317.4L681.8 315.2L681.9 316.6L682.1 313.8L682.2 312.9L682.4 313.8L682.5 312.4L682.7 312.1L682.8 311.3L683.0 310.6L683.1 309.8L683.3 310.4L683.4 311.5L683.6 310.7L683.7 310.8L683.9 309.8L684.0 310.6L684.2 311.0L684.4 313.1L684.5 313.2L684.7 313.2L684.8 313.2L685.0 312.4L685.1 313.2L685.3 313.0L685.4 313.2L685.6 313.2L685.7 312.7L685.9 312.9L686.0 313.0L686.2 312.7L686.3 311.7L686.5 312.3L686.7 311.9L686.8 312.5L687.0 310.8L687.1 311.5L687.3 309.4L687.4 310.0L687.6 307.8L687.7 307.9L687.9 305.9L688.0 306.3L688.2 305.9L688.3 305.9L688.5 306.5L688.6 305.9L688.8 307.8L688.9 307.2L689.1 307.4L689.2 306.5L689.4 307.2L689.5 306.3L689.7 306.8L689.8 308.6L690.0 306.0L690.1 307.2L690.3 308.1L690.4 307.3L690.6 309.2L690.7 308.5L690.9 308.7L691.0 309.2L691.2 308.3L691.3 307.6L691.5 309.0L691.6 308.1L691.8 307.3L691.9 309.0L692.1 308.0L692.2 306.7L692.4 307.2L692.5 306.7L692.7 306.4L692.8 306.7L693.0 307.9L693.1 307.2L693.3 306.9L693.4 305.3L693.6 304.0L693.7 302.8L693.9 303.5L694.0 304.3L694.2 306.0L694.3 306.0L694.5 306.1L694.6 306.2L694.7 306.0L694.9 305.2L695.0 303.7L695.2 304.0L695.3 305.8L695.5 303.8L695.6 303.3L695.8 302.2L695.9 302.0L696.1 304.0L696.2 303.1L696.4 302.4L696.5 302.1L696.7 302.3L696.8 300.7L697.0 300.2L697.1 301.3L697.3 301.2L697.4 300.3L697.6 300.4L697.7 301.3L697.9 301.0L698.0 301.5L698.2 301.8L698.3 301.6L698.5 301.2L698.6 299.8L698.8 302.2L698.9 301.1L699.1 302.7L699.2 301.4L699.3 300.5L699.5 301.6L699.7 300.2L699.8 301.4L700.0 301.6L700.1 301.3L700.3 302.7L700.4 299.8L700.6 301.7L700.7 301.9L700.9 304.4L701.0 305.6L701.2 306.8L701.3 304.8L701.5 304.6L701.6 304.7L701.8 307.7L701.9 309.2L702.0 313.4L702.2 311.5L702.3 313.5L702.5 309.1L702.6 312.5L702.8 315.0L702.9 313.2L703.1 314.0L703.2 313.8L703.4 312.7L703.5 312.7L703.7 313.2L703.8 308.8L704.0 307.9L704.1 307.0L704.3 306.9L704.4 309.3L704.6 310.0L704.7 310.2L704.9 308.0L705.0 308.4L705.2 308.3L705.3 306.3L705.5 309.5L705.6 308.2L705.8 307.0L706.0 308.3L706.1 308.0L706.3 308.7L706.4 306.8L706.6 310.1L706.7 315.1L706.9 316.2L707.0 314.6L707.2 314.8L707.3 315.1L707.5 314.6L707.6 314.8L707.8 320.5L707.9 317.9L708.1 322.2L708.2 321.8L708.3 328.0L708.5 327.5L708.6 329.1L708.8 329.0L708.9 328.9L709.1 329.1L709.2 328.9L709.4 325.0L709.5 324.2L709.7 324.2L709.8 314.7L709.9 318.8L710.1 316.9L710.2 316.2L710.4 315.0L710.5 314.7L710.7 311.1L710.8 310.0L711.0 310.3L711.1 309.5L711.3 310.6L711.4 309.1L711.6 312.0L711.7 311.7L711.9 308.4L712.1 310.6L712.2 307.9L712.4 307.3L712.5 308.9L712.7 307.9L712.8 310.1L713.0 310.1L713.1 310.3L713.3 310.2L713.4 310.0L713.6 309.2L713.7 308.9L713.9 309.1L714.0 309.0L714.2 308.1L714.3 305.6L714.5 305.3L714.6 304.9L714.8 304.9L714.9 306.4L715.1 305.8L715.2 306.2L715.4 305.5L715.5 306.2L715.7 304.1L715.8 303.8L716.0 303.9L716.1 305.7L716.3 305.3L716.4 306.7L716.6 306.4L716.7 304.5L716.9 304.8L717.0 305.4L717.2 306.7L717.3 306.7L717.5 307.1L717.6 307.1L717.8 305.9L717.9 306.6L718.1 307.1L718.2 307.3L718.4 307.2L718.5 307.0L718.7 304.5L718.8 303.2L719.0 302.5L719.1 300.9L719.3 300.4L719.4 300.7L719.6 301.3L719.7 300.4L719.9 301.0L720.0 299.5L720.2 300.0L720.3 300.6L720.5 299.8L720.6 300.3L720.8 298.1L720.9 298.5L721.1 297.6L721.2 298.8L721.4 298.5L721.5 297.8L721.7 297.4L721.8 297.6L722.0 298.0L722.1 298.3L722.3 299.9L722.4 300.9L722.6 301.6L722.7 300.7L722.9 301.4L723.0 301.8L723.2 302.1L723.3 300.7L723.5 300.6L723.6 301.6L723.8 300.3L723.9 300.1L724.1 302.1L724.2 302.4L724.3 304.3L724.5 306.4L724.6 305.6L724.8 306.2L724.9 306.8L725.1 306.0L725.2 305.9L725.4 305.6L725.5 306.7L725.7 304.5L725.8 303.6L726.0 303.9L726.1 302.3L726.3 303.1L726.4 302.3L726.6 301.4L726.7 301.9L726.9 299.1L727.0 297.4L727.2 297.3L727.3 296.8L727.5 298.2L727.6 298.3L727.8 298.3L727.9 298.2L728.1 298.3L728.2 297.2L728.4 295.3L728.5 295.5L728.7 296.2L728.8 296.5L729.0 296.4L729.1 296.2L729.3 294.3L729.4 295.0L729.6 293.1L729.7 294.4L729.9 292.9L730.0 294.8L730.2 295.8L730.3 297.8L730.5 296.1L730.6 297.8L730.8 295.6L730.9 296.6L731.1 300.6L731.2 299.7L731.4 303.1L731.5 302.1L731.7 301.7L731.8 301.3L732.0 302.3L732.1 301.3L732.3 300.5L732.4 300.4L732.6 297.9L732.7 297.9L732.9 297.9L733.0 296.2L733.2 294.5L733.3 294.0L733.5 297.3L733.7 294.6L733.8 294.1L734.0 294.0L734.1 294.1L734.3 294.0L734.4 294.1L734.6 294.8L734.7 294.0L734.9 294.1L735.0 294.1L735.2 294.0L735.3 293.9L735.5 294.1L735.6 294.2L735.7 294.1L735.9 294.2L736.0 296.4L736.2 295.1L736.3 297.9L736.5 298.6L736.6 298.8L736.8 299.2L736.9 300.1L737.1 299.0L737.2 298.8L737.4 298.3L737.5 296.0L737.7 295.6L737.8 294.2L738.0 294.5L738.1 296.2L738.3 297.8L738.4 298.1L738.6 295.0L738.7 293.5L738.9 292.5L739.0 292.7L739.2 292.7L739.3 294.1L739.5 291.9L739.6 291.9L739.8 292.2L739.9 292.5L740.0 292.8L740.2 292.8L740.3 293.1L740.5 292.0L740.6 290.7L740.8 290.8L740.9 290.1L741.1 291.6L741.2 292.5L741.4 292.8L741.5 291.8L741.7 290.7L741.8 290.1L742.0 289.4L742.1 288.7L742.3 288.9L742.4 288.3L742.6 288.2L742.7 288.2L742.9 290.1L743.0 288.7L743.2 287.7L743.3 289.6L743.5 288.9L743.6 289.7L743.8 290.3L743.9 289.7L744.1 287.7L744.2 286.1L744.4 284.4L744.5 284.0L744.6 284.1L744.8 285.1L744.9 284.4L745.1 285.2L745.2 285.2L745.4 284.0L745.5 284.7L745.7 284.4L745.8 284.8L746.0 282.5L746.1 283.8L746.3 284.4L746.4 284.1L746.6 281.3L746.7 283.6L746.9 283.4L747.0 283.7L747.2 284.0L747.3 283.5L747.5 286.2L747.7 285.9L747.8 284.6L748.0 280.8L748.1 280.8L748.3 280.7L748.4 280.6L748.6 280.6L748.7 280.8L748.9 280.8L749.0 281.5L749.2 283.9L749.3 284.6L749.5 283.8L749.6 285.7L749.8 285.7L749.9 285.8L750.1 285.8L750.2 285.8L750.4 285.9L750.5 285.8L750.7 285.7L750.8 281.4L750.9 285.5L751.1 283.3L751.2 281.7L751.4 282.0L751.5 279.7L751.7 287.4L751.8 289.5L752.0 287.5L752.1 286.3L752.3 289.8L752.5 286.0L752.6 289.8L752.8 293.5L752.9 304.8L753.1 299.2L753.2 306.8L753.4 305.1L753.5 315.5L753.7 310.3L753.8 310.4L754.0 314.2L754.1 315.9L754.3 314.6L754.4 319.9L754.6 314.4L754.7 315.5L754.9 322.4L755.0 323.7L755.1 328.1L755.3 328.7L755.4 323.5L755.6 314.3L755.7 313.3L755.9 310.7L756.0 311.2L756.2 306.4L756.3 309.2L756.5 309.6L756.6 308.0L756.8 296.8L756.9 298.2L757.1 297.8L757.2 295.2L757.4 296.4L757.6 295.3L757.7 297.1L757.9 296.9L758.0 291.4L758.2 291.4L758.3 291.8L758.5 291.4L758.6 291.8L758.8 297.1L758.9 291.9L759.1 293.4L759.2 291.6L759.4 291.6L759.5 291.5L759.7 289.7L759.8 286.6L760.0 289.5L760.1 288.5L760.3 283.0L760.4 283.7L760.6 284.4L760.7 286.6L760.9 282.5L761.1 282.5L761.2 285.5L761.4 282.7L761.5 285.0L761.7 283.9L761.8 276.9L762.0 277.2L762.1 278.7L762.3 276.8L762.4 276.6L762.6 276.7L762.7 278.3L762.9 280.9L763.0 278.7L763.2 278.8L763.3 278.3L763.5 278.6L763.6 279.1L763.8 276.8L763.9 276.8L764.1 277.3L764.2 281.5L764.3 284.5L764.5 286.7L764.6 285.4L764.8 284.1L764.9 282.2L765.1 284.0L765.2 279.9L765.4 284.0L765.5 280.4L765.7 280.1L765.8 281.3L766.0 280.3L766.2 275.7L766.3 280.7L766.5 279.7L766.6 275.8L766.8 277.7L766.9 277.7L767.1 276.8L767.2 277.7L767.3 277.7L767.5 277.0L767.6 275.5L767.8 272.4L767.9 272.9L768.1 274.3L768.2 275.8L768.4 273.7L768.5 274.1L768.7 271.7L768.8 272.4L769.0 272.7L769.1 272.3L769.3 272.7L769.4 272.6L769.6 272.6L769.7 272.6L769.9 272.6L770.0 272.7L770.1 272.7L770.3 272.3L770.4 269.7L770.6 272.3L770.7 269.6L770.9 269.8L771.0 266.7L771.2 265.5L771.3 265.5L771.5 264.8L771.6 270.8L771.8 265.8L771.9 267.7L772.0 265.3L772.2 266.4L772.3 267.5L772.5 272.2L772.6 275.3L772.8 275.7L772.9 275.6L773.1 275.6L773.2 274.8L773.4 274.6L773.5 275.4L773.7 275.7L773.8 275.7L774.0 275.3L774.1 273.1L774.3 271.0L774.4 267.3L774.6 270.8L774.7 268.0L774.9 268.4L775.1 263.2L775.2 263.2L775.4 263.6L775.5 263.4L775.7 265.3L775.8 266.9L776.0 268.2L776.1 269.7L776.3 267.3L776.4 264.7L776.6 268.2L776.7 270.2L776.9 273.1L777.0 271.8L777.2 270.2L777.3 270.1L777.5 270.3L777.6 270.7L777.8 268.3L777.9 266.7L778.1 273.5L778.2 273.7L778.4 272.5L778.6 266.2L778.7 262.1L778.9 263.2L779.0 260.8L779.2 262.6L779.3 262.9L779.5 259.8L779.6 258.3L779.8 260.9L779.9 258.7L780.1 258.8L780.2 257.6L780.4 255.8L780.5 256.4L780.7 257.9L780.8 256.9L781.0 254.2L781.1 256.1L781.3 254.9L781.4 255.6L781.6 255.8L781.7 255.7L781.9 256.8L782.0 256.1L782.2 256.0L782.4 256.8L782.5 254.9L782.7 254.8L782.8 254.0L783.0 254.0L783.1 252.7L783.3 253.5L783.4 255.3L783.6 255.4L783.7 256.7L783.9 254.9L784.0 253.4L784.2 251.8L784.3 250.3L784.5 250.6L784.6 252.9L784.8 251.4L784.9 251.3L785.1 252.2L785.2 252.9L785.4 252.2L785.5 251.6L785.6 249.9L785.8 248.2L785.9 248.6L786.1 248.4L786.2 248.0L786.4 249.6L786.5 249.9L786.7 249.7L786.8 249.0L787.0 246.9L787.2 247.3L787.3 247.4L787.5 246.8L787.6 244.5L787.8 243.5L787.9 243.6L788.1 246.0L788.2 245.3L788.4 244.8L788.5 246.3L788.7 246.3L788.8 247.6L789.0 249.7L789.1 247.7L789.3 248.1L789.4 248.8L789.6 248.5L789.7 249.3L789.9 248.8L790.0 249.9L790.2 250.8L790.3 249.5L790.5 247.2L790.7 247.2L790.8 248.4L791.0 247.9L791.1 247.8L791.3 247.2L791.4 244.3L791.6 245.8L791.7 243.7L791.9 243.9L792.0 243.1L792.2 243.5L792.3 243.5L792.5 244.0L792.6 243.2L792.8 244.1L792.9 243.8L793.1 243.5L793.2 243.8L793.4 239.8L793.5 242.0L793.7 243.3L793.8 240.7L794.0 240.1L794.1 240.9L794.3 237.6L794.4 237.6L794.5 238.3L794.7 238.5L794.8 239.2L795.0 240.6L795.2 241.3L795.3 242.4L795.5 242.0L795.6 241.1L795.8 241.0L795.9 240.5L796.1 240.7L796.2 241.5L796.4 242.6L796.5 242.6L796.7 241.6L796.8 242.2L797.0 241.6L797.1 241.1L797.3 241.7L797.4 241.7L797.6 242.1L797.7 241.5L797.9 239.9L798.0 241.9L798.2 239.6L798.3 239.1L798.5 240.7L798.6 239.0L798.8 236.3L798.9 236.9L799.1 237.6L799.2 237.0L799.4 238.4L799.5 237.6L799.7 236.8L799.8 237.8L800.0 237.2L800.1 237.5L800.3 238.0L800.4 238.0L800.6 238.7L800.7 239.1L800.9 239.4L801.0 239.1L801.2 238.1L801.3 237.8L801.5 235.4L801.6 234.8L801.8 232.4L801.9 233.7L802.1 232.2L802.2 233.2L802.4 232.2L802.5 232.1L802.7 233.5L802.8 234.1L803.0 231.9L803.1 232.1L803.3 232.4L803.4 232.3L803.6 231.9L803.7 233.7L803.9 234.2L804.0 234.1L804.2 233.2L804.3 233.2L804.5 234.0L804.6 232.7L804.7 232.3L804.9 231.7L805.0 232.3L805.2 231.4L805.3 231.0L805.5 231.7L805.6 232.4L805.8 232.7L805.9 232.4L806.1 230.7L806.2 231.9L806.4 230.9L806.5 230.4L806.7 231.0L806.8 230.7L807.0 228.3L807.1 228.2L807.3 228.8L807.4 228.6L807.6 228.3L807.7 228.3L807.9 228.1L808.0 228.2L808.2 228.1L808.3 228.3L808.5 228.9L808.6 230.1L808.8 230.1L808.9 229.0L809.1 230.0L809.2 230.9L809.3 228.9L809.5 230.9L809.6 228.0L809.8 230.3L809.9 232.7L810.1 235.3L810.2 232.0L810.4 230.5L810.5 234.5L810.7 234.7L810.8 233.1L811.0 232.5L811.1 233.8L811.3 233.2L811.4 233.7L811.6 234.1L811.7 234.5L811.9 235.1L812.0 235.0L812.2 236.3L812.3 236.3L812.5 236.3L812.6 234.8L812.8 229.6L812.9 229.9L813.1 226.7L813.2 232.0L813.4 230.6L813.5 229.2L813.6 227.0L813.8 229.7L813.9 226.5L814.1 226.9L814.2 227.4L814.4 226.4L814.5 225.7L814.7 226.1L814.9 224.5L815.0 225.7L815.2 224.6L815.3 223.6L815.5 223.2L815.6 223.1L815.8 223.2L815.9 223.2L816.1 224.7L816.2 224.3L816.4 223.8L816.5 224.4L816.7 224.3L816.8 224.7L817.0 224.5L817.1 224.5L817.3 225.8L817.4 226.4L817.6 226.4L817.7 227.5L817.9 227.2L818.0 229.1L818.2 228.5L818.4 227.0L818.5 227.5L818.7 226.2L818.8 225.8L819.0 225.0L819.1 226.6L819.3 225.3L819.4 225.6L819.6 224.7L819.7 224.4L819.9 225.4L820.0 228.0L820.2 227.7L820.3 226.4L820.5 225.0L820.6 223.4L820.8 223.2L820.9 222.7L821.1 223.0L821.2 225.6L821.4 222.8L821.5 222.2L821.7 223.0L821.8 223.8L822.0 227.8L822.1 228.9L822.3 226.5L822.4 226.3L822.6 227.2L822.7 228.8L822.9 228.0L823.0 228.4L823.2 229.4L823.3 230.6L823.5 232.5L823.7 231.1L823.8 229.9L824.0 230.6L824.1 232.9L824.3 237.2L824.4 237.3L824.6 237.2L824.7 236.3L824.9 236.2L825.0 233.4L825.2 233.5L825.3 233.7L825.5 234.5L825.6 234.9L825.8 236.9L825.9 234.2L826.1 234.3L826.2 233.0L826.4 233.6L826.6 233.7L826.7 232.6L826.9 233.3L827.0 232.9L827.2 232.3L827.3 231.8L827.5 234.2L827.6 234.8L827.8 236.1L827.9 238.8L828.1 237.4L828.2 235.7L828.4 234.1L828.5 232.5L828.7 232.6L828.9 233.0L829.0 229.5L829.2 230.4L829.3 229.0L829.5 227.0L829.6 229.5L829.8 230.1L829.9 229.1L830.1 227.8L830.2 227.3L830.4 227.6L830.5 232.1L830.7 234.1L830.8 233.1L831.0 233.7L831.1 233.5L831.3 235.7L831.4 234.5L831.6 231.9L831.7 235.4L831.9 233.6L832.0 234.0L832.2 234.3L832.4 232.8L832.5 235.4L832.7 241.0L832.8 236.2L833.0 240.9L833.1 244.3L833.3 241.8L833.4 236.8L833.6 237.8L833.7 236.7L833.9 241.6L834.0 243.2L834.2 241.8L834.3 241.6L834.5 241.7L834.6 241.8L834.7 241.7L834.9 241.7L835.0 241.9L835.2 245.5L835.3 246.6L835.5 246.4L835.6 247.8L835.7 241.8L835.9 238.9L836.0 241.9L836.2 238.8L836.3 238.9L836.5 241.6L836.6 240.3L836.7 239.7L836.9 247.4L837.0 243.6L837.2 247.3L837.3 249.5L837.5 256.7L837.6 257.3L837.7 257.2L837.9 257.0L838.0 252.8L838.2 255.6L838.3 256.2L838.5 253.7L838.6 249.4L838.8 252.4L838.9 249.7L839.1 249.5L839.2 248.4L839.4 249.7L839.5 245.5L839.7 245.7L839.8 245.7L840.0 247.3L840.1 249.8L840.3 249.6L840.4 249.3L840.6 248.4L840.7 248.5L840.9 248.5L841.0 248.4L841.2 246.9L841.3 247.1L841.5 238.8L841.6 241.8L841.8 239.1L841.9 244.3L842.1 241.7L842.2 242.7L842.4 242.7L842.5 240.4L842.7 240.4L842.8 240.4L843.0 240.4L843.1 240.4L843.3 239.2L843.4 240.5L843.6 240.4L843.7 240.3L843.9 240.4L844.1 237.7L844.2 236.7L844.4 234.9L844.5 236.2L844.7 238.7L844.8 240.2L845.0 240.5L845.1 238.9L845.3 236.2L845.4 238.6L845.6 240.6L845.7 241.5L845.9 242.7L846.0 243.0L846.2 243.7L846.3 244.1L846.5 242.5L846.6 245.3L846.8 246.8L846.9 245.4L847.1 247.5L847.2 246.4L847.4 249.2L847.5 249.8L847.7 249.5L847.9 249.1L848.0 253.8L848.2 252.6L848.3 252.8L848.5 249.8L848.6 250.1L848.8 253.3L848.9 253.5L849.1 255.0L849.2 252.9L849.4 252.7L849.5 252.5L849.7 251.7L849.8 251.4L850.0 252.1L850.1 249.9L850.3 250.3L850.4 249.8L850.6 249.7L850.7 249.9L850.9 250.0L851.0 250.6L851.2 250.3L851.3 249.0L851.5 252.4L851.6 251.3L851.8 251.8L852.0 247.1L852.1 248.0L852.3 244.5L852.4 241.7L852.6 246.7L852.7 246.7L852.9 247.1L853.0 243.7L853.2 244.3L853.3 242.3L853.5 243.1L853.6 243.8L853.8 241.9L853.9 240.1L854.1 239.4L854.2 239.3L854.4 238.9L854.5 240.6L854.6 240.7L854.8 239.8L854.9 241.2L855.1 242.3L855.2 241.3L855.4 239.7L855.5 240.5L855.7 241.6L855.8 242.6L856.0 241.9L856.1 242.9L856.3 244.1L856.4 243.6L856.6 246.6L856.7 244.0L856.9 245.3L857.0 244.6L857.2 245.2L857.3 244.3L857.5 243.8L857.6 248.0L857.8 248.8L857.9 245.9L858.1 245.1L858.2 243.4L858.4 244.2L858.5 242.9L858.7 243.9L858.8 243.7L859.0 242.0L859.1 241.4L859.3 240.8L859.4 241.9L859.6 240.2L859.7 238.4L859.9 239.8L860.0 239.6L860.2 241.2L860.3 239.5L860.5 239.9L860.6 239.8L860.8 238.8L860.9 238.8L861.1 237.6L861.2 236.7L861.4 237.5L861.6 236.0L861.7 236.2L861.9 235.4L862.0 235.0L862.2 235.4L862.3 235.6L862.5 235.5L862.6 237.0L862.8 235.2L862.9 236.8L863.1 236.1L863.2 235.2L863.4 237.2L863.5 237.9L863.7 238.4L863.8 237.4L864.0 240.5L864.1 240.8L864.3 240.0L864.4 239.1L864.6 239.2L864.8 240.2L864.9 243.7L865.1 242.3L865.2 243.5L865.4 244.3L865.5 241.9L865.7 244.1L865.8 243.1L866.0 241.1L866.1 239.0L866.3 241.8L866.4 243.6L866.6 244.3L866.7 245.3L866.9 243.8L867.0 241.2L867.2 237.0L867.4 237.9L867.5 238.1L867.7 237.5L867.8 237.2L868.0 237.0L868.1 236.9L868.3 237.0L868.4 237.7L868.6 236.9L868.7 237.1L868.9 239.0L869.0 238.4L869.2 238.4L869.3 238.9L869.5 237.7L869.6 237.5L869.8 237.5L869.9 237.4L870.1 237.6L870.2 238.1L870.4 238.7L870.5 238.8L870.7 239.7L870.8 239.6L871.0 238.3L871.1 237.5L871.3 237.5L871.4 238.8L871.6 237.8L871.7 238.0L871.9 237.0L872.0 238.6L872.2 237.7L872.3 239.0L872.5 238.8L872.6 238.6L872.8 237.8L872.9 236.2L873.1 233.8L873.2 234.2L873.4 233.8L873.5 233.7L873.7 233.8L873.8 235.7L874.0 236.5L874.1 234.6L874.3 233.8L874.4 231.2L874.6 230.7L874.7 229.3L874.9 229.8L875.0 229.7L875.2 229.3L875.3 230.2L875.5 229.4L875.6 228.1L875.8 229.1L875.9 228.2L876.1 229.0L876.2 227.7L876.4 228.0L876.5 226.8L876.7 228.9L876.8 228.1L877.0 226.9L877.1 228.5L877.3 227.7L877.4 227.3L877.5 226.4L877.7 225.3L877.9 224.1L878.0 223.7L878.2 224.2L878.3 224.7L878.5 224.4L878.6 226.0L878.8 226.0L878.9 226.2L879.1 225.3L879.2 225.0L879.4 224.6L879.5 224.4L879.7 225.0L879.8 226.7L880.0 226.6L880.1 226.3L880.3 226.6L880.4 226.6L880.6 225.8L880.7 224.9L880.9 224.5L881.0 225.1L881.2 223.2L881.3 226.9L881.5 224.9L881.6 228.4L881.8 226.8L881.9 227.3L882.1 228.0L882.2 227.5L882.4 228.1L882.6 226.2L882.7 225.3L882.9 225.5L883.0 226.3L883.2 227.0L883.3 225.1L883.5 225.6L883.6 225.2L883.8 226.1L883.9 226.7L884.1 226.1L884.2 225.8L884.4 226.2L884.5 227.9L884.7 227.1L884.8 228.5L885.0 229.4L885.1 232.0L885.3 230.8L885.4 230.2L885.6 228.1L885.7 231.3L885.9 231.6L886.1 232.1L886.2 232.2L886.4 232.8L886.5 233.3L886.6 233.6L886.8 234.3L886.9 233.5L887.1 234.5L887.2 235.5L887.4 235.3L887.5 233.6L887.7 234.6L887.8 234.8L888.0 234.6L888.1 235.8L888.3 236.1L888.4 235.8L888.6 236.0L888.7 234.7L888.9 233.7L889.0 234.6L889.2 237.3L889.3 236.7L889.4 237.4L889.6 231.5L889.7 229.8L889.9 227.3L890.0 227.8L890.2 228.5L890.3 227.8L890.5 227.3L890.6 227.7L890.8 227.6L890.9 228.1L891.0 228.3L891.2 226.5L891.3 227.3L891.5 226.9L891.6 225.5L891.8 224.0L891.9 224.1L892.1 221.7L892.2 223.8L892.4 220.4L892.5 219.2L892.7 222.1L892.8 222.1L893.0 221.4L893.1 220.2L893.3 220.6L893.4 218.5L893.6 219.3L893.7 218.4L893.9 217.3L894.0 217.7L894.2 218.2L894.3 217.4L894.5 216.2L894.7 216.3L894.8 217.6L895.0 217.5L895.1 216.9L895.3 218.3L895.4 217.9L895.5 216.7L895.7 217.0L895.8 218.5L896.0 217.1L896.1 217.6L896.3 218.1L896.4 218.1L896.6 218.6L896.7 218.4L896.9 218.5L897.0 218.4L897.2 218.5L897.3 218.1L897.5 217.9L897.6 218.0L897.8 218.3L897.9 217.8L898.1 215.8L898.2 216.5L898.4 214.1L898.5 212.8L898.7 214.6L898.8 215.3L899.0 212.1L899.1 212.4L899.3 211.4L899.4 211.3L899.6 211.2L899.7 211.4L899.9 211.5L900.1 211.3L900.2 211.0L900.4 211.4L900.5 213.4L900.7 213.4L900.8 213.6L901.0 213.5L901.1 211.7L901.3 212.2L901.4 213.1L901.6 212.1L901.7 210.5L901.9 211.5L902.0 209.8L902.2 208.3L902.3 208.1L902.5 208.0L902.6 209.2L902.8 208.4L902.9 209.6L903.1 209.0L903.2 209.7L903.4 207.9L903.5 207.5L903.7 208.0L903.8 207.5L904.0 206.4L904.1 207.0L904.3 207.8L904.4 206.4L904.5 206.6L904.7 205.7L904.8 206.4L905.0 205.8L905.1 207.3L905.3 205.6L905.4 207.7L905.6 207.9L905.7 208.9L905.9 208.9L906.0 208.5L906.2 207.6L906.3 208.8L906.5 210.8L906.6 210.2L906.8 210.6L906.9 209.8L907.1 211.7L907.2 211.6L907.4 212.4L907.5 211.0L907.7 209.9L907.8 210.2L908.0 209.8L908.1 211.7L908.3 212.4L908.4 210.8L908.6 209.3L908.7 207.9L908.9 207.2L909.0 204.4L909.2 204.3L909.3 205.9L909.5 205.0L909.6 204.6L909.8 206.1L909.9 204.9L910.1 204.9L910.2 204.9L910.4 205.4L910.5 204.8L910.7 204.8L910.9 205.5L911.0 203.9L911.2 203.9L911.3 205.3L911.5 203.1L911.6 206.7L911.8 206.6L911.9 205.5L912.1 204.6L912.2 204.7L912.4 203.7L912.5 201.8L912.7 200.9L912.8 200.9L913.0 200.4L913.1 198.5L913.3 199.0L913.4 199.7L913.6 198.4L913.7 197.9L913.9 197.2L914.1 196.5L914.2 198.7L914.4 199.1L914.5 199.1L914.7 199.5L914.8 198.1L915.0 198.1L915.1 197.7L915.3 198.5L915.4 199.0L915.6 199.7L915.7 198.4L915.9 198.5L916.0 199.8L916.1 199.8L916.3 200.2L916.4 200.8L916.6 199.8L916.7 199.5L916.9 200.1L917.0 200.5L917.2 199.6L917.3 200.9L917.5 204.2L917.6 203.2L917.8 201.6L917.9 204.9L918.1 206.7L918.2 205.1L918.4 203.5L918.5 201.0L918.7 201.6L918.8 198.4L919.0 203.0L919.1 205.1L919.3 204.9L919.4 200.5L919.5 198.0L919.7 196.3L919.8 194.9L920.0 196.3L920.1 196.9L920.3 195.0L920.4 196.7L920.6 196.2L920.7 195.3L920.9 194.7L921.0 195.1L921.2 195.4L921.3 194.6L921.5 195.9L921.7 196.0L921.8 195.3L922.0 195.3L922.1 196.9L922.3 196.3L922.4 196.7L922.6 195.9L922.7 195.4L922.8 194.8L923.0 193.3L923.1 193.7L923.3 193.4L923.4 192.4L923.6 192.9L923.7 192.0L923.9 192.0L924.0 191.6L924.2 191.9L924.3 193.1L924.5 193.1L924.6 193.2L924.8 192.7L924.9 193.0L925.1 193.8L925.2 193.7L925.4 193.7L925.5 193.6L925.7 193.8L925.8 192.3L926.0 193.1L926.2 193.1L926.3 191.2L926.5 191.4L926.6 191.6L926.8 191.4L926.9 191.0L927.1 191.3L927.2 191.5L927.4 191.8L927.5 191.7L927.7 189.5L927.8 189.9L928.0 190.6L928.1 190.6L928.3 187.7L928.4 186.7L928.6 186.6L928.7 186.0L928.9 186.5L929.0 187.4L929.2 187.2L929.3 187.8L929.5 185.5L929.7 185.7L929.8 184.9L930.0 184.4L930.1 184.9L930.3 185.2L930.4 185.6L930.6 185.2L930.7 186.2L930.9 186.8L931.0 186.2L931.2 186.0L931.3 184.6L931.5 183.8L931.6 183.8L931.8 183.8L931.9 185.6L932.0 187.7L932.2 187.0L932.3 188.3L932.5 188.9L932.6 189.5L932.8 188.8L932.9 188.7L933.1 188.3L933.2 188.6L933.4 187.4L933.5 185.9L933.7 187.0L933.8 185.0L934.0 185.6L934.1 184.7L934.3 183.4L934.5 182.6L934.6 182.5L934.8 183.1L934.9 183.0L935.1 184.6L935.2 182.8L935.4 182.9L935.5 183.4L935.7 183.0L935.8 186.0L936.0 186.0L936.1 185.9L936.3 186.0L936.4 185.8L936.6 186.1L936.7 186.0L936.9 185.9L937.0 186.0L937.2 186.0L937.3 185.0L937.5 185.1L937.6 183.5L937.8 183.8L937.9 183.7L938.1 183.5L938.2 184.4L938.4 185.4L938.6 187.0L938.7 188.1L938.9 191.7L939.0 187.8L939.2 189.9L939.3 190.2L939.5 191.6L939.6 192.7L939.8 191.9L939.9 191.2L940.1 190.3L940.2 194.4L940.4 192.8L940.5 193.9L940.7 194.0L940.8 194.6L941.0 192.6L941.1 194.2L941.3 195.6L941.4 194.5L941.6 198.1L941.8 193.9L941.9 197.8L942.1 199.5L942.2 203.3L942.4 204.2L942.5 203.3L942.7 205.5L942.8 209.6L943.0 209.3L943.1 208.7L943.3 209.7L943.4 203.1L943.5 195.6L943.7 194.3L943.8 199.8L944.0 200.1L944.1 201.3L944.3 195.8L944.4 196.6L944.6 195.3L944.7 196.5L944.9 192.8L945.0 192.8L945.2 190.4L945.3 185.3L945.5 188.3L945.6 187.7L945.7 191.5L945.9 191.4L946.0 188.1L946.2 185.4L946.3 188.1L946.5 188.0L946.6 186.7L946.8 185.7L946.9 186.0L947.1 183.5L947.2 184.7L947.4 186.8L947.5 186.8L947.7 183.7L947.8 184.9L948.0 184.2L948.1 182.8L948.3 181.5L948.4 181.5L948.6 181.5L948.8 182.0L948.9 182.3L949.1 183.2L949.2 183.0L949.4 181.5L949.5 183.1L949.7 182.0L949.8 179.4L950.0 180.7L950.1 178.4L950.2 177.7L950.4 181.8L950.5 182.8L950.7 181.2L950.8 179.3L951.0 180.2L951.1 179.9L951.3 179.8L951.4 181.5L951.6 182.2L951.7 180.5L951.9 178.9L952.0 181.9L952.2 179.7L952.3 180.0L952.5 179.8L952.6 179.8L952.8 179.8L952.9 179.8L953.1 179.9L953.2 179.8L953.4 177.9L953.5 177.3L953.7 177.1L953.8 178.1L954.0 177.6L954.1 177.1L954.3 176.6L954.4 175.4L954.5 175.6L954.7 174.6L954.8 175.2L955.0 174.8L955.1 175.0L955.3 175.3L955.4 174.2L955.6 173.8L955.7 173.6L955.9 172.8L956.1 172.7L956.2 172.8L956.4 172.8L956.5 172.9L956.7 174.2L956.8 173.5L957.0 172.7L957.1 173.1L957.3 173.1L957.4 173.0L957.6 173.4L957.7 171.6L957.9 172.0L958.0 171.3L958.2 171.5L958.3 172.2L958.5 173.1L958.6 172.4L958.8 172.2L958.9 173.2L959.1 171.1L959.2 170.9" stroke="#029e73" stroke-width="1.39"/>
<line x1="72.0" y1="535.5" x2="1002.0" y2="535.5" stroke="#000000" stroke-width="1.39" stroke-dasharray="5.14 2.22"/>
</g>
<rect x="72.0" y="32.0" width="930.0" height="539.0" fill="none" stroke="#cccccc" stroke-width="1.74"/>
<g filter="url(#gs)">
<g fill="#262626" style="font-family:&quot;Liberation Sans&quot;,sans-serif;font-size:15.6px">
<text x="150.80" y="596.7" text-anchor="middle" textLength="35.75" lengthAdjust="spacingAndGlyphs">2004</text>
<text x="299.76" y="596.7" text-anchor="middle" textLength="35.75" lengthAdjust="spacingAndGlyphs">2008</text>
<text x="448.72" y="596.7" text-anchor="middle" textLength="35.75" lengthAdjust="spacingAndGlyphs">2012</text>
<text x="597.68" y="596.7" text-anchor="middle" textLength="35.75" lengthAdjust="spacingAndGlyphs">2016</text>
<text x="746.64" y="596.7" text-anchor="middle" textLength="35.75" lengthAdjust="spacingAndGlyphs">2020</text>
<text x="895.60" y="596.7" text-anchor="middle" textLength="35.75" lengthAdjust="spacingAndGlyphs">2024</text>
<text x="57.65" y="540.60" text-anchor="end" textLength="8.89" lengthAdjust="spacingAndGlyphs">0</text>
<text x="57.65" y="420.60" text-anchor="end" textLength="17.79" lengthAdjust="spacingAndGlyphs">50</text>
<text x="57.65" y="301.60" text-anchor="end" textLength="26.68" lengthAdjust="spacingAndGlyphs">100</text>
<text x="57.65" y="181.60" text-anchor="end" textLength="26.68" lengthAdjust="spacingAndGlyphs">150</text>
<text x="57.65" y="62.60" text-anchor="end" textLength="26.68" lengthAdjust="spacingAndGlyphs">200</text>
</g>
<text x="536.6" y="23.9" text-anchor="middle" fill="#262626" style="font-family:&quot;Liberation Sans&quot;,sans-serif;font-size:19.5px">Long-only naive PnLs, equalized for volatility</text>
<text transform="translate(20.9 426.1) rotate(-90)" text-anchor="start" fill="#262626" style="font-family:&quot;Liberation Sans&quot;,sans-serif;font-size:16.57px">% of risk capital, no compounding</text>
</g>
<rect x="79.5" y="39.5" width="452.3" height="92.4" rx="3" ry="3" fill="#ffffff" fill-opacity="0.8" stroke="#cccccc" stroke-opacity="0.8" stroke-width="1.39"/>
<g filter="url(#gs)">
<text x="305.7" y="57.7" text-anchor="middle" fill="#262626" style="font-family:&quot;Liberation Sans&quot;,sans-serif;font-size:16.67px">PnL Category(s)</text>
<text x="128.0" y="80.00" fill="#262626" style="font-family:&quot;Liberation Sans&quot;,sans-serif;font-size:15.36px">Equal weights for all tradable currency areas</text>
<text x="128.0" y="101.00" fill="#262626" style="font-family:&quot;Liberation Sans&quot;,sans-serif;font-size:15.36px">Macro signal-based weights for all tradable currency areas</text>
<text x="128.0" y="122.70" fill="#262626" style="font-family:&quot;Liberation Sans&quot;,sans-serif;font-size:15.36px">Long-only US equity</text>
</g>
<line x1="85" y1="74.5" x2="117" y2="74.5" stroke="#0173b2" stroke-width="1.39"/>
<line x1="85" y1="96.5" x2="117" y2="96.5" stroke="#de8f05" stroke-width="1.39"/>
<line x1="85" y1="117.5" x2="117" y2="117.5" stroke="#029e73" stroke-width="1.39"/>
</svg>
</body></html>
